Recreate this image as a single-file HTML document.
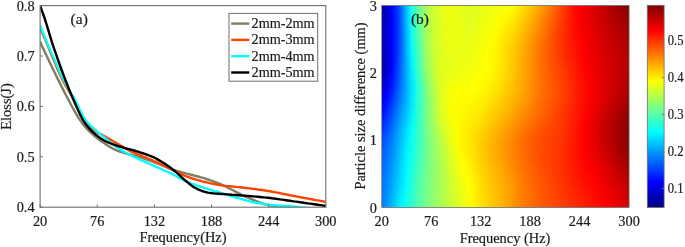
<!DOCTYPE html><html><head><meta charset="utf-8"><title>fig</title>
<style>html,body{margin:0;padding:0;background:#fff}svg{display:block}text{font-family:"Liberation Serif","Times New Roman",serif;fill:#1c1c1c;stroke:#1c1c1c;stroke-width:0.2px}</style></head><body>
<svg width="685" height="247" viewBox="0 0 685 247">
<rect width="685" height="247" fill="#fff"/>
<defs><clipPath id="cl"><rect x="40.1" y="3.6" width="285.7" height="203.6"/></clipPath>
<linearGradient id="g0"><stop offset="0" stop-color="#00009f"/><stop offset="0.02041" stop-color="#0000c8"/><stop offset="0.04082" stop-color="#0000f7"/><stop offset="0.06122" stop-color="#002aff"/><stop offset="0.08163" stop-color="#0074ff"/><stop offset="0.102" stop-color="#00caff"/><stop offset="0.1224" stop-color="#19ffe6"/><stop offset="0.1429" stop-color="#57ffa8"/><stop offset="0.1633" stop-color="#87ff78"/><stop offset="0.1837" stop-color="#acff53"/><stop offset="0.2041" stop-color="#c7ff38"/><stop offset="0.2245" stop-color="#daff25"/><stop offset="0.2449" stop-color="#e6ff19"/><stop offset="0.2653" stop-color="#ebff14"/><stop offset="0.2857" stop-color="#eeff11"/><stop offset="0.3061" stop-color="#ebff14"/><stop offset="0.3265" stop-color="#e5ff1a"/><stop offset="0.3469" stop-color="#deff21"/><stop offset="0.3673" stop-color="#dcff23"/><stop offset="0.3878" stop-color="#e3ff1c"/><stop offset="0.4082" stop-color="#e8ff17"/><stop offset="0.4286" stop-color="#ecff13"/><stop offset="0.449" stop-color="#efff10"/><stop offset="0.4694" stop-color="#f1ff0e"/><stop offset="0.4898" stop-color="#f4ff0b"/><stop offset="0.5102" stop-color="#faff05"/><stop offset="0.5306" stop-color="#fffa00"/><stop offset="0.551" stop-color="#ffed00"/><stop offset="0.5714" stop-color="#ffdf00"/><stop offset="0.5918" stop-color="#ffcf00"/><stop offset="0.6122" stop-color="#ffbd00"/><stop offset="0.6327" stop-color="#ffaa00"/><stop offset="0.6531" stop-color="#ff9600"/><stop offset="0.6735" stop-color="#ff7f00"/><stop offset="0.6939" stop-color="#ff6800"/><stop offset="0.7143" stop-color="#ff5100"/><stop offset="0.7347" stop-color="#ff3b00"/><stop offset="0.7551" stop-color="#ff2400"/><stop offset="0.7755" stop-color="#ff0f00"/><stop offset="0.7959" stop-color="#fd0000"/><stop offset="0.8163" stop-color="#f10000"/><stop offset="0.8367" stop-color="#e60000"/><stop offset="0.8571" stop-color="#dc0000"/><stop offset="0.8776" stop-color="#cf0000"/><stop offset="0.898" stop-color="#c20000"/><stop offset="0.9184" stop-color="#b30000"/><stop offset="0.9388" stop-color="#a60000"/><stop offset="0.9592" stop-color="#990000"/><stop offset="0.9796" stop-color="#8d0000"/><stop offset="1" stop-color="#810000"/></linearGradient>
<linearGradient id="g1"><stop offset="0" stop-color="#0000a1"/><stop offset="0.02041" stop-color="#0000ca"/><stop offset="0.04082" stop-color="#0000f8"/><stop offset="0.06122" stop-color="#002aff"/><stop offset="0.08163" stop-color="#0073ff"/><stop offset="0.102" stop-color="#00c8ff"/><stop offset="0.1224" stop-color="#18ffe7"/><stop offset="0.1429" stop-color="#56ffa9"/><stop offset="0.1633" stop-color="#85ff7a"/><stop offset="0.1837" stop-color="#acff53"/><stop offset="0.2041" stop-color="#c7ff38"/><stop offset="0.2245" stop-color="#daff25"/><stop offset="0.2449" stop-color="#e5ff1a"/><stop offset="0.2653" stop-color="#ebff14"/><stop offset="0.2857" stop-color="#eeff11"/><stop offset="0.3061" stop-color="#ebff14"/><stop offset="0.3265" stop-color="#e6ff19"/><stop offset="0.3469" stop-color="#dfff20"/><stop offset="0.3673" stop-color="#ddff22"/><stop offset="0.3878" stop-color="#e4ff1b"/><stop offset="0.4082" stop-color="#eaff15"/><stop offset="0.4286" stop-color="#edff12"/><stop offset="0.449" stop-color="#f1ff0e"/><stop offset="0.4694" stop-color="#f4ff0b"/><stop offset="0.4898" stop-color="#f8ff07"/><stop offset="0.5102" stop-color="#feff01"/><stop offset="0.5306" stop-color="#fff600"/><stop offset="0.551" stop-color="#ffe900"/><stop offset="0.5714" stop-color="#ffda00"/><stop offset="0.5918" stop-color="#ffcb00"/><stop offset="0.6122" stop-color="#ffb900"/><stop offset="0.6327" stop-color="#ffa500"/><stop offset="0.6531" stop-color="#ff9100"/><stop offset="0.6735" stop-color="#ff7c00"/><stop offset="0.6939" stop-color="#ff6500"/><stop offset="0.7143" stop-color="#ff4f00"/><stop offset="0.7347" stop-color="#ff3900"/><stop offset="0.7551" stop-color="#ff2300"/><stop offset="0.7755" stop-color="#ff0f00"/><stop offset="0.7959" stop-color="#fe0000"/><stop offset="0.8163" stop-color="#f20000"/><stop offset="0.8367" stop-color="#e70000"/><stop offset="0.8571" stop-color="#dd0000"/><stop offset="0.8776" stop-color="#d10000"/><stop offset="0.898" stop-color="#c40000"/><stop offset="0.9184" stop-color="#b60000"/><stop offset="0.9388" stop-color="#a90000"/><stop offset="0.9592" stop-color="#9c0000"/><stop offset="0.9796" stop-color="#900000"/><stop offset="1" stop-color="#850000"/></linearGradient>
<linearGradient id="g2"><stop offset="0" stop-color="#0000a3"/><stop offset="0.02041" stop-color="#0000cb"/><stop offset="0.04082" stop-color="#0000f8"/><stop offset="0.06122" stop-color="#0029ff"/><stop offset="0.08163" stop-color="#0072ff"/><stop offset="0.102" stop-color="#00c7ff"/><stop offset="0.1224" stop-color="#17ffe8"/><stop offset="0.1429" stop-color="#54ffab"/><stop offset="0.1633" stop-color="#84ff7b"/><stop offset="0.1837" stop-color="#abff54"/><stop offset="0.2041" stop-color="#c7ff38"/><stop offset="0.2245" stop-color="#daff25"/><stop offset="0.2449" stop-color="#e5ff1a"/><stop offset="0.2653" stop-color="#ebff14"/><stop offset="0.2857" stop-color="#eeff11"/><stop offset="0.3061" stop-color="#ebff14"/><stop offset="0.3265" stop-color="#e6ff19"/><stop offset="0.3469" stop-color="#e0ff1f"/><stop offset="0.3673" stop-color="#deff21"/><stop offset="0.3878" stop-color="#e5ff1a"/><stop offset="0.4082" stop-color="#ebff14"/><stop offset="0.4286" stop-color="#efff10"/><stop offset="0.449" stop-color="#f3ff0c"/><stop offset="0.4694" stop-color="#f7ff08"/><stop offset="0.4898" stop-color="#fbff04"/><stop offset="0.5102" stop-color="#fffc00"/><stop offset="0.5306" stop-color="#fff200"/><stop offset="0.551" stop-color="#ffe400"/><stop offset="0.5714" stop-color="#ffd600"/><stop offset="0.5918" stop-color="#ffc600"/><stop offset="0.6122" stop-color="#ffb400"/><stop offset="0.6327" stop-color="#ffa100"/><stop offset="0.6531" stop-color="#ff8d00"/><stop offset="0.6735" stop-color="#ff7800"/><stop offset="0.6939" stop-color="#ff6200"/><stop offset="0.7143" stop-color="#ff4c00"/><stop offset="0.7347" stop-color="#ff3800"/><stop offset="0.7551" stop-color="#ff2300"/><stop offset="0.7755" stop-color="#ff0f00"/><stop offset="0.7959" stop-color="#fe0000"/><stop offset="0.8163" stop-color="#f20000"/><stop offset="0.8367" stop-color="#e80000"/><stop offset="0.8571" stop-color="#de0000"/><stop offset="0.8776" stop-color="#d20000"/><stop offset="0.898" stop-color="#c50000"/><stop offset="0.9184" stop-color="#b80000"/><stop offset="0.9388" stop-color="#ac0000"/><stop offset="0.9592" stop-color="#a00000"/><stop offset="0.9796" stop-color="#940000"/><stop offset="1" stop-color="#890000"/></linearGradient>
<linearGradient id="g3"><stop offset="0" stop-color="#0000a4"/><stop offset="0.02041" stop-color="#0000cc"/><stop offset="0.04082" stop-color="#0000f9"/><stop offset="0.06122" stop-color="#0029ff"/><stop offset="0.08163" stop-color="#0071ff"/><stop offset="0.102" stop-color="#00c6ff"/><stop offset="0.1224" stop-color="#16ffe9"/><stop offset="0.1429" stop-color="#52ffad"/><stop offset="0.1633" stop-color="#82ff7d"/><stop offset="0.1837" stop-color="#abff54"/><stop offset="0.2041" stop-color="#c6ff39"/><stop offset="0.2245" stop-color="#d9ff26"/><stop offset="0.2449" stop-color="#e4ff1b"/><stop offset="0.2653" stop-color="#ebff14"/><stop offset="0.2857" stop-color="#eeff11"/><stop offset="0.3061" stop-color="#ebff14"/><stop offset="0.3265" stop-color="#e6ff19"/><stop offset="0.3469" stop-color="#e1ff1e"/><stop offset="0.3673" stop-color="#dfff20"/><stop offset="0.3878" stop-color="#e6ff19"/><stop offset="0.4082" stop-color="#ecff13"/><stop offset="0.4286" stop-color="#f0ff0f"/><stop offset="0.449" stop-color="#f5ff0a"/><stop offset="0.4694" stop-color="#f9ff06"/><stop offset="0.4898" stop-color="#feff01"/><stop offset="0.5102" stop-color="#fff900"/><stop offset="0.5306" stop-color="#ffee00"/><stop offset="0.551" stop-color="#ffe000"/><stop offset="0.5714" stop-color="#ffd200"/><stop offset="0.5918" stop-color="#ffc200"/><stop offset="0.6122" stop-color="#ffb000"/><stop offset="0.6327" stop-color="#ff9d00"/><stop offset="0.6531" stop-color="#ff8900"/><stop offset="0.6735" stop-color="#ff7400"/><stop offset="0.6939" stop-color="#ff5f00"/><stop offset="0.7143" stop-color="#ff4a00"/><stop offset="0.7347" stop-color="#ff3600"/><stop offset="0.7551" stop-color="#ff2200"/><stop offset="0.7755" stop-color="#ff0f00"/><stop offset="0.7959" stop-color="#ff0000"/><stop offset="0.8163" stop-color="#f30000"/><stop offset="0.8367" stop-color="#e90000"/><stop offset="0.8571" stop-color="#df0000"/><stop offset="0.8776" stop-color="#d40000"/><stop offset="0.898" stop-color="#c70000"/><stop offset="0.9184" stop-color="#bb0000"/><stop offset="0.9388" stop-color="#ae0000"/><stop offset="0.9592" stop-color="#a30000"/><stop offset="0.9796" stop-color="#980000"/><stop offset="1" stop-color="#8d0000"/></linearGradient>
<linearGradient id="g4"><stop offset="0" stop-color="#0000a6"/><stop offset="0.02041" stop-color="#0000cd"/><stop offset="0.04082" stop-color="#0000f9"/><stop offset="0.06122" stop-color="#0029ff"/><stop offset="0.08163" stop-color="#0070ff"/><stop offset="0.102" stop-color="#00c4ff"/><stop offset="0.1224" stop-color="#15ffea"/><stop offset="0.1429" stop-color="#51ffae"/><stop offset="0.1633" stop-color="#81ff7e"/><stop offset="0.1837" stop-color="#aaff55"/><stop offset="0.2041" stop-color="#c6ff39"/><stop offset="0.2245" stop-color="#d9ff26"/><stop offset="0.2449" stop-color="#e4ff1b"/><stop offset="0.2653" stop-color="#ebff14"/><stop offset="0.2857" stop-color="#eeff11"/><stop offset="0.3061" stop-color="#ebff14"/><stop offset="0.3265" stop-color="#e7ff18"/><stop offset="0.3469" stop-color="#e2ff1d"/><stop offset="0.3673" stop-color="#e0ff1f"/><stop offset="0.3878" stop-color="#e8ff17"/><stop offset="0.4082" stop-color="#eeff11"/><stop offset="0.4286" stop-color="#f2ff0d"/><stop offset="0.449" stop-color="#f6ff09"/><stop offset="0.4694" stop-color="#fcff03"/><stop offset="0.4898" stop-color="#fffd00"/><stop offset="0.5102" stop-color="#fff500"/><stop offset="0.5306" stop-color="#ffea00"/><stop offset="0.551" stop-color="#ffdc00"/><stop offset="0.5714" stop-color="#ffcd00"/><stop offset="0.5918" stop-color="#ffbd00"/><stop offset="0.6122" stop-color="#ffac00"/><stop offset="0.6327" stop-color="#ff9900"/><stop offset="0.6531" stop-color="#ff8500"/><stop offset="0.6735" stop-color="#ff7100"/><stop offset="0.6939" stop-color="#ff5c00"/><stop offset="0.7143" stop-color="#ff4800"/><stop offset="0.7347" stop-color="#ff3400"/><stop offset="0.7551" stop-color="#ff2100"/><stop offset="0.7755" stop-color="#ff0f00"/><stop offset="0.7959" stop-color="#ff0100"/><stop offset="0.8163" stop-color="#f40000"/><stop offset="0.8367" stop-color="#ea0000"/><stop offset="0.8571" stop-color="#e00000"/><stop offset="0.8776" stop-color="#d50000"/><stop offset="0.898" stop-color="#c90000"/><stop offset="0.9184" stop-color="#bd0000"/><stop offset="0.9388" stop-color="#b10000"/><stop offset="0.9592" stop-color="#a60000"/><stop offset="0.9796" stop-color="#9b0000"/><stop offset="1" stop-color="#910000"/></linearGradient>
<linearGradient id="g5"><stop offset="0" stop-color="#0000a8"/><stop offset="0.02041" stop-color="#0000ce"/><stop offset="0.04082" stop-color="#0000fa"/><stop offset="0.06122" stop-color="#0028ff"/><stop offset="0.08163" stop-color="#006fff"/><stop offset="0.102" stop-color="#00c3ff"/><stop offset="0.1224" stop-color="#14ffeb"/><stop offset="0.1429" stop-color="#4fffb0"/><stop offset="0.1633" stop-color="#7fff80"/><stop offset="0.1837" stop-color="#aaff55"/><stop offset="0.2041" stop-color="#c6ff39"/><stop offset="0.2245" stop-color="#d8ff27"/><stop offset="0.2449" stop-color="#e3ff1c"/><stop offset="0.2653" stop-color="#eaff15"/><stop offset="0.2857" stop-color="#eeff11"/><stop offset="0.3061" stop-color="#ebff14"/><stop offset="0.3265" stop-color="#e7ff18"/><stop offset="0.3469" stop-color="#e3ff1c"/><stop offset="0.3673" stop-color="#e1ff1e"/><stop offset="0.3878" stop-color="#e9ff16"/><stop offset="0.4082" stop-color="#efff10"/><stop offset="0.4286" stop-color="#f3ff0c"/><stop offset="0.449" stop-color="#f8ff07"/><stop offset="0.4694" stop-color="#feff01"/><stop offset="0.4898" stop-color="#fff900"/><stop offset="0.5102" stop-color="#fff100"/><stop offset="0.5306" stop-color="#ffe600"/><stop offset="0.551" stop-color="#ffd800"/><stop offset="0.5714" stop-color="#ffc900"/><stop offset="0.5918" stop-color="#ffb900"/><stop offset="0.6122" stop-color="#ffa700"/><stop offset="0.6327" stop-color="#ff9500"/><stop offset="0.6531" stop-color="#ff8200"/><stop offset="0.6735" stop-color="#ff6e00"/><stop offset="0.6939" stop-color="#ff5900"/><stop offset="0.7143" stop-color="#ff4500"/><stop offset="0.7347" stop-color="#ff3300"/><stop offset="0.7551" stop-color="#ff2000"/><stop offset="0.7755" stop-color="#ff0f00"/><stop offset="0.7959" stop-color="#ff0100"/><stop offset="0.8163" stop-color="#f50000"/><stop offset="0.8367" stop-color="#eb0000"/><stop offset="0.8571" stop-color="#e10000"/><stop offset="0.8776" stop-color="#d70000"/><stop offset="0.898" stop-color="#cb0000"/><stop offset="0.9184" stop-color="#bf0000"/><stop offset="0.9388" stop-color="#b40000"/><stop offset="0.9592" stop-color="#a90000"/><stop offset="0.9796" stop-color="#9f0000"/><stop offset="1" stop-color="#950000"/></linearGradient>
<linearGradient id="g6"><stop offset="0" stop-color="#0000a9"/><stop offset="0.02041" stop-color="#0000cf"/><stop offset="0.04082" stop-color="#0000fa"/><stop offset="0.06122" stop-color="#0028ff"/><stop offset="0.08163" stop-color="#006eff"/><stop offset="0.102" stop-color="#00c2ff"/><stop offset="0.1224" stop-color="#13ffec"/><stop offset="0.1429" stop-color="#4effb1"/><stop offset="0.1633" stop-color="#7dff82"/><stop offset="0.1837" stop-color="#a9ff56"/><stop offset="0.2041" stop-color="#c6ff39"/><stop offset="0.2245" stop-color="#d8ff27"/><stop offset="0.2449" stop-color="#e3ff1c"/><stop offset="0.2653" stop-color="#eaff15"/><stop offset="0.2857" stop-color="#edff12"/><stop offset="0.3061" stop-color="#ebff14"/><stop offset="0.3265" stop-color="#e8ff17"/><stop offset="0.3469" stop-color="#e3ff1c"/><stop offset="0.3673" stop-color="#e2ff1d"/><stop offset="0.3878" stop-color="#eaff15"/><stop offset="0.4082" stop-color="#f0ff0f"/><stop offset="0.4286" stop-color="#f5ff0a"/><stop offset="0.449" stop-color="#faff05"/><stop offset="0.4694" stop-color="#fffe00"/><stop offset="0.4898" stop-color="#fff600"/><stop offset="0.5102" stop-color="#ffee00"/><stop offset="0.5306" stop-color="#ffe200"/><stop offset="0.551" stop-color="#ffd400"/><stop offset="0.5714" stop-color="#ffc500"/><stop offset="0.5918" stop-color="#ffb500"/><stop offset="0.6122" stop-color="#ffa300"/><stop offset="0.6327" stop-color="#ff9100"/><stop offset="0.6531" stop-color="#ff7e00"/><stop offset="0.6735" stop-color="#ff6a00"/><stop offset="0.6939" stop-color="#ff5600"/><stop offset="0.7143" stop-color="#ff4300"/><stop offset="0.7347" stop-color="#ff3100"/><stop offset="0.7551" stop-color="#ff2000"/><stop offset="0.7755" stop-color="#ff0f00"/><stop offset="0.7959" stop-color="#ff0200"/><stop offset="0.8163" stop-color="#f60000"/><stop offset="0.8367" stop-color="#ec0000"/><stop offset="0.8571" stop-color="#e20000"/><stop offset="0.8776" stop-color="#d80000"/><stop offset="0.898" stop-color="#cd0000"/><stop offset="0.9184" stop-color="#c20000"/><stop offset="0.9388" stop-color="#b70000"/><stop offset="0.9592" stop-color="#ac0000"/><stop offset="0.9796" stop-color="#a20000"/><stop offset="1" stop-color="#990000"/></linearGradient>
<linearGradient id="g7"><stop offset="0" stop-color="#0000aa"/><stop offset="0.02041" stop-color="#0000d0"/><stop offset="0.04082" stop-color="#0000fa"/><stop offset="0.06122" stop-color="#0028ff"/><stop offset="0.08163" stop-color="#006dff"/><stop offset="0.102" stop-color="#00c0ff"/><stop offset="0.1224" stop-color="#12ffed"/><stop offset="0.1429" stop-color="#4cffb3"/><stop offset="0.1633" stop-color="#7cff83"/><stop offset="0.1837" stop-color="#a8ff57"/><stop offset="0.2041" stop-color="#c5ff3a"/><stop offset="0.2245" stop-color="#d7ff28"/><stop offset="0.2449" stop-color="#e3ff1c"/><stop offset="0.2653" stop-color="#eaff15"/><stop offset="0.2857" stop-color="#edff12"/><stop offset="0.3061" stop-color="#ebff14"/><stop offset="0.3265" stop-color="#e8ff17"/><stop offset="0.3469" stop-color="#e4ff1b"/><stop offset="0.3673" stop-color="#e3ff1c"/><stop offset="0.3878" stop-color="#ebff14"/><stop offset="0.4082" stop-color="#f1ff0e"/><stop offset="0.4286" stop-color="#f6ff09"/><stop offset="0.449" stop-color="#fcff03"/><stop offset="0.4694" stop-color="#fffc00"/><stop offset="0.4898" stop-color="#fff400"/><stop offset="0.5102" stop-color="#ffea00"/><stop offset="0.5306" stop-color="#ffde00"/><stop offset="0.551" stop-color="#ffd000"/><stop offset="0.5714" stop-color="#ffc100"/><stop offset="0.5918" stop-color="#ffb100"/><stop offset="0.6122" stop-color="#ffa000"/><stop offset="0.6327" stop-color="#ff8d00"/><stop offset="0.6531" stop-color="#ff7b00"/><stop offset="0.6735" stop-color="#ff6800"/><stop offset="0.6939" stop-color="#ff5400"/><stop offset="0.7143" stop-color="#ff4100"/><stop offset="0.7347" stop-color="#ff3000"/><stop offset="0.7551" stop-color="#ff1f00"/><stop offset="0.7755" stop-color="#ff1000"/><stop offset="0.7959" stop-color="#ff0200"/><stop offset="0.8163" stop-color="#f60000"/><stop offset="0.8367" stop-color="#ed0000"/><stop offset="0.8571" stop-color="#e30000"/><stop offset="0.8776" stop-color="#d90000"/><stop offset="0.898" stop-color="#ce0000"/><stop offset="0.9184" stop-color="#c40000"/><stop offset="0.9388" stop-color="#b90000"/><stop offset="0.9592" stop-color="#af0000"/><stop offset="0.9796" stop-color="#a60000"/><stop offset="1" stop-color="#9c0000"/></linearGradient>
<linearGradient id="g8"><stop offset="0" stop-color="#0000ab"/><stop offset="0.02041" stop-color="#0000d0"/><stop offset="0.04082" stop-color="#0000fb"/><stop offset="0.06122" stop-color="#0028ff"/><stop offset="0.08163" stop-color="#006dff"/><stop offset="0.102" stop-color="#00bfff"/><stop offset="0.1224" stop-color="#10ffef"/><stop offset="0.1429" stop-color="#4affb5"/><stop offset="0.1633" stop-color="#7aff85"/><stop offset="0.1837" stop-color="#a7ff58"/><stop offset="0.2041" stop-color="#c5ff3a"/><stop offset="0.2245" stop-color="#d7ff28"/><stop offset="0.2449" stop-color="#e2ff1d"/><stop offset="0.2653" stop-color="#eaff15"/><stop offset="0.2857" stop-color="#edff12"/><stop offset="0.3061" stop-color="#ebff14"/><stop offset="0.3265" stop-color="#e8ff17"/><stop offset="0.3469" stop-color="#e5ff1a"/><stop offset="0.3673" stop-color="#e4ff1b"/><stop offset="0.3878" stop-color="#ecff13"/><stop offset="0.4082" stop-color="#f2ff0d"/><stop offset="0.4286" stop-color="#f7ff08"/><stop offset="0.449" stop-color="#fdff02"/><stop offset="0.4694" stop-color="#fffa00"/><stop offset="0.4898" stop-color="#fff100"/><stop offset="0.5102" stop-color="#ffe700"/><stop offset="0.5306" stop-color="#ffdb00"/><stop offset="0.551" stop-color="#ffcd00"/><stop offset="0.5714" stop-color="#ffbe00"/><stop offset="0.5918" stop-color="#ffae00"/><stop offset="0.6122" stop-color="#ff9c00"/><stop offset="0.6327" stop-color="#ff8a00"/><stop offset="0.6531" stop-color="#ff7800"/><stop offset="0.6735" stop-color="#ff6500"/><stop offset="0.6939" stop-color="#ff5200"/><stop offset="0.7143" stop-color="#ff4000"/><stop offset="0.7347" stop-color="#ff2f00"/><stop offset="0.7551" stop-color="#ff1f00"/><stop offset="0.7755" stop-color="#ff1000"/><stop offset="0.7959" stop-color="#ff0300"/><stop offset="0.8163" stop-color="#f70000"/><stop offset="0.8367" stop-color="#ee0000"/><stop offset="0.8571" stop-color="#e40000"/><stop offset="0.8776" stop-color="#da0000"/><stop offset="0.898" stop-color="#d00000"/><stop offset="0.9184" stop-color="#c60000"/><stop offset="0.9388" stop-color="#bc0000"/><stop offset="0.9592" stop-color="#b20000"/><stop offset="0.9796" stop-color="#a90000"/><stop offset="1" stop-color="#a00000"/></linearGradient>
<linearGradient id="g9"><stop offset="0" stop-color="#0000ac"/><stop offset="0.02041" stop-color="#0000d1"/><stop offset="0.04082" stop-color="#0000fb"/><stop offset="0.06122" stop-color="#0028ff"/><stop offset="0.08163" stop-color="#006cff"/><stop offset="0.102" stop-color="#00beff"/><stop offset="0.1224" stop-color="#0ffff0"/><stop offset="0.1429" stop-color="#48ffb7"/><stop offset="0.1633" stop-color="#79ff86"/><stop offset="0.1837" stop-color="#a7ff58"/><stop offset="0.2041" stop-color="#c5ff3a"/><stop offset="0.2245" stop-color="#d7ff28"/><stop offset="0.2449" stop-color="#e2ff1d"/><stop offset="0.2653" stop-color="#e9ff16"/><stop offset="0.2857" stop-color="#edff12"/><stop offset="0.3061" stop-color="#ebff14"/><stop offset="0.3265" stop-color="#e9ff16"/><stop offset="0.3469" stop-color="#e6ff19"/><stop offset="0.3673" stop-color="#e5ff1a"/><stop offset="0.3878" stop-color="#edff12"/><stop offset="0.4082" stop-color="#f3ff0c"/><stop offset="0.4286" stop-color="#f8ff07"/><stop offset="0.449" stop-color="#ffff00"/><stop offset="0.4694" stop-color="#fff800"/><stop offset="0.4898" stop-color="#ffee00"/><stop offset="0.5102" stop-color="#ffe400"/><stop offset="0.5306" stop-color="#ffd800"/><stop offset="0.551" stop-color="#ffc900"/><stop offset="0.5714" stop-color="#ffba00"/><stop offset="0.5918" stop-color="#ffaa00"/><stop offset="0.6122" stop-color="#ff9900"/><stop offset="0.6327" stop-color="#ff8600"/><stop offset="0.6531" stop-color="#ff7500"/><stop offset="0.6735" stop-color="#ff6200"/><stop offset="0.6939" stop-color="#ff5000"/><stop offset="0.7143" stop-color="#ff3e00"/><stop offset="0.7347" stop-color="#ff2e00"/><stop offset="0.7551" stop-color="#ff1f00"/><stop offset="0.7755" stop-color="#ff1000"/><stop offset="0.7959" stop-color="#ff0400"/><stop offset="0.8163" stop-color="#f80000"/><stop offset="0.8367" stop-color="#ef0000"/><stop offset="0.8571" stop-color="#e50000"/><stop offset="0.8776" stop-color="#dc0000"/><stop offset="0.898" stop-color="#d20000"/><stop offset="0.9184" stop-color="#c80000"/><stop offset="0.9388" stop-color="#be0000"/><stop offset="0.9592" stop-color="#b50000"/><stop offset="0.9796" stop-color="#ac0000"/><stop offset="1" stop-color="#a30000"/></linearGradient>
<linearGradient id="g10"><stop offset="0" stop-color="#0000ac"/><stop offset="0.02041" stop-color="#0000d1"/><stop offset="0.04082" stop-color="#0000fb"/><stop offset="0.06122" stop-color="#0029ff"/><stop offset="0.08163" stop-color="#006cff"/><stop offset="0.102" stop-color="#00bdff"/><stop offset="0.1224" stop-color="#0dfff2"/><stop offset="0.1429" stop-color="#46ffb9"/><stop offset="0.1633" stop-color="#77ff88"/><stop offset="0.1837" stop-color="#a6ff59"/><stop offset="0.2041" stop-color="#c4ff3b"/><stop offset="0.2245" stop-color="#d6ff29"/><stop offset="0.2449" stop-color="#e2ff1d"/><stop offset="0.2653" stop-color="#e9ff16"/><stop offset="0.2857" stop-color="#edff12"/><stop offset="0.3061" stop-color="#ebff14"/><stop offset="0.3265" stop-color="#e9ff16"/><stop offset="0.3469" stop-color="#e7ff18"/><stop offset="0.3673" stop-color="#e6ff19"/><stop offset="0.3878" stop-color="#eeff11"/><stop offset="0.4082" stop-color="#f4ff0b"/><stop offset="0.4286" stop-color="#f9ff06"/><stop offset="0.449" stop-color="#fffe00"/><stop offset="0.4694" stop-color="#fff600"/><stop offset="0.4898" stop-color="#ffec00"/><stop offset="0.5102" stop-color="#ffe100"/><stop offset="0.5306" stop-color="#ffd500"/><stop offset="0.551" stop-color="#ffc600"/><stop offset="0.5714" stop-color="#ffb700"/><stop offset="0.5918" stop-color="#ffa700"/><stop offset="0.6122" stop-color="#ff9500"/><stop offset="0.6327" stop-color="#ff8400"/><stop offset="0.6531" stop-color="#ff7200"/><stop offset="0.6735" stop-color="#ff6000"/><stop offset="0.6939" stop-color="#ff4e00"/><stop offset="0.7143" stop-color="#ff3d00"/><stop offset="0.7347" stop-color="#ff2e00"/><stop offset="0.7551" stop-color="#ff1f00"/><stop offset="0.7755" stop-color="#ff1100"/><stop offset="0.7959" stop-color="#ff0500"/><stop offset="0.8163" stop-color="#f90000"/><stop offset="0.8367" stop-color="#f00000"/><stop offset="0.8571" stop-color="#e60000"/><stop offset="0.8776" stop-color="#dd0000"/><stop offset="0.898" stop-color="#d30000"/><stop offset="0.9184" stop-color="#ca0000"/><stop offset="0.9388" stop-color="#c00000"/><stop offset="0.9592" stop-color="#b70000"/><stop offset="0.9796" stop-color="#ae0000"/><stop offset="1" stop-color="#a60000"/></linearGradient>
<linearGradient id="g11"><stop offset="0" stop-color="#0000ac"/><stop offset="0.02041" stop-color="#0000d1"/><stop offset="0.04082" stop-color="#0000fc"/><stop offset="0.06122" stop-color="#0029ff"/><stop offset="0.08163" stop-color="#006cff"/><stop offset="0.102" stop-color="#00bcff"/><stop offset="0.1224" stop-color="#0cfff3"/><stop offset="0.1429" stop-color="#45ffba"/><stop offset="0.1633" stop-color="#76ff89"/><stop offset="0.1837" stop-color="#a5ff5a"/><stop offset="0.2041" stop-color="#c4ff3b"/><stop offset="0.2245" stop-color="#d6ff29"/><stop offset="0.2449" stop-color="#e1ff1e"/><stop offset="0.2653" stop-color="#e9ff16"/><stop offset="0.2857" stop-color="#ecff13"/><stop offset="0.3061" stop-color="#ebff14"/><stop offset="0.3265" stop-color="#eaff15"/><stop offset="0.3469" stop-color="#e8ff17"/><stop offset="0.3673" stop-color="#e7ff18"/><stop offset="0.3878" stop-color="#efff10"/><stop offset="0.4082" stop-color="#f5ff0a"/><stop offset="0.4286" stop-color="#faff05"/><stop offset="0.449" stop-color="#fffd00"/><stop offset="0.4694" stop-color="#fff400"/><stop offset="0.4898" stop-color="#ffea00"/><stop offset="0.5102" stop-color="#ffdf00"/><stop offset="0.5306" stop-color="#ffd200"/><stop offset="0.551" stop-color="#ffc300"/><stop offset="0.5714" stop-color="#ffb400"/><stop offset="0.5918" stop-color="#ffa400"/><stop offset="0.6122" stop-color="#ff9300"/><stop offset="0.6327" stop-color="#ff8100"/><stop offset="0.6531" stop-color="#ff7000"/><stop offset="0.6735" stop-color="#ff5e00"/><stop offset="0.6939" stop-color="#ff4d00"/><stop offset="0.7143" stop-color="#ff3c00"/><stop offset="0.7347" stop-color="#ff2d00"/><stop offset="0.7551" stop-color="#ff1f00"/><stop offset="0.7755" stop-color="#ff1200"/><stop offset="0.7959" stop-color="#ff0600"/><stop offset="0.8163" stop-color="#fa0000"/><stop offset="0.8367" stop-color="#f00000"/><stop offset="0.8571" stop-color="#e70000"/><stop offset="0.8776" stop-color="#de0000"/><stop offset="0.898" stop-color="#d50000"/><stop offset="0.9184" stop-color="#cb0000"/><stop offset="0.9388" stop-color="#c20000"/><stop offset="0.9592" stop-color="#ba0000"/><stop offset="0.9796" stop-color="#b10000"/><stop offset="1" stop-color="#a90000"/></linearGradient>
<linearGradient id="g12"><stop offset="0" stop-color="#0000ab"/><stop offset="0.02041" stop-color="#0000d1"/><stop offset="0.04082" stop-color="#0000fc"/><stop offset="0.06122" stop-color="#002aff"/><stop offset="0.08163" stop-color="#006cff"/><stop offset="0.102" stop-color="#00bbff"/><stop offset="0.1224" stop-color="#0afff5"/><stop offset="0.1429" stop-color="#43ffbc"/><stop offset="0.1633" stop-color="#74ff8b"/><stop offset="0.1837" stop-color="#a4ff5b"/><stop offset="0.2041" stop-color="#c3ff3c"/><stop offset="0.2245" stop-color="#d6ff29"/><stop offset="0.2449" stop-color="#e1ff1e"/><stop offset="0.2653" stop-color="#e8ff17"/><stop offset="0.2857" stop-color="#ecff13"/><stop offset="0.3061" stop-color="#ebff14"/><stop offset="0.3265" stop-color="#eaff15"/><stop offset="0.3469" stop-color="#e9ff16"/><stop offset="0.3673" stop-color="#e9ff16"/><stop offset="0.3878" stop-color="#f0ff0f"/><stop offset="0.4082" stop-color="#f6ff09"/><stop offset="0.4286" stop-color="#fbff04"/><stop offset="0.449" stop-color="#fffc00"/><stop offset="0.4694" stop-color="#fff300"/><stop offset="0.4898" stop-color="#ffe800"/><stop offset="0.5102" stop-color="#ffdd00"/><stop offset="0.5306" stop-color="#ffd000"/><stop offset="0.551" stop-color="#ffc100"/><stop offset="0.5714" stop-color="#ffb200"/><stop offset="0.5918" stop-color="#ffa100"/><stop offset="0.6122" stop-color="#ff9000"/><stop offset="0.6327" stop-color="#ff7f00"/><stop offset="0.6531" stop-color="#ff6e00"/><stop offset="0.6735" stop-color="#ff5c00"/><stop offset="0.6939" stop-color="#ff4c00"/><stop offset="0.7143" stop-color="#ff3c00"/><stop offset="0.7347" stop-color="#ff2d00"/><stop offset="0.7551" stop-color="#ff1f00"/><stop offset="0.7755" stop-color="#ff1200"/><stop offset="0.7959" stop-color="#ff0600"/><stop offset="0.8163" stop-color="#fb0000"/><stop offset="0.8367" stop-color="#f10000"/><stop offset="0.8571" stop-color="#e80000"/><stop offset="0.8776" stop-color="#df0000"/><stop offset="0.898" stop-color="#d60000"/><stop offset="0.9184" stop-color="#cd0000"/><stop offset="0.9388" stop-color="#c40000"/><stop offset="0.9592" stop-color="#bc0000"/><stop offset="0.9796" stop-color="#b30000"/><stop offset="1" stop-color="#ab0000"/></linearGradient>
<linearGradient id="g13"><stop offset="0" stop-color="#0000aa"/><stop offset="0.02041" stop-color="#0000d0"/><stop offset="0.04082" stop-color="#0000fc"/><stop offset="0.06122" stop-color="#002aff"/><stop offset="0.08163" stop-color="#006cff"/><stop offset="0.102" stop-color="#00baff"/><stop offset="0.1224" stop-color="#08fff7"/><stop offset="0.1429" stop-color="#41ffbe"/><stop offset="0.1633" stop-color="#73ff8c"/><stop offset="0.1837" stop-color="#a3ff5c"/><stop offset="0.2041" stop-color="#c3ff3c"/><stop offset="0.2245" stop-color="#d6ff29"/><stop offset="0.2449" stop-color="#e1ff1e"/><stop offset="0.2653" stop-color="#e8ff17"/><stop offset="0.2857" stop-color="#ebff14"/><stop offset="0.3061" stop-color="#ebff14"/><stop offset="0.3265" stop-color="#eaff15"/><stop offset="0.3469" stop-color="#eaff15"/><stop offset="0.3673" stop-color="#eaff15"/><stop offset="0.3878" stop-color="#f1ff0e"/><stop offset="0.4082" stop-color="#f7ff08"/><stop offset="0.4286" stop-color="#fcff03"/><stop offset="0.449" stop-color="#fffb00"/><stop offset="0.4694" stop-color="#fff200"/><stop offset="0.4898" stop-color="#ffe700"/><stop offset="0.5102" stop-color="#ffdb00"/><stop offset="0.5306" stop-color="#ffcd00"/><stop offset="0.551" stop-color="#ffbf00"/><stop offset="0.5714" stop-color="#ffaf00"/><stop offset="0.5918" stop-color="#ff9f00"/><stop offset="0.6122" stop-color="#ff8e00"/><stop offset="0.6327" stop-color="#ff7d00"/><stop offset="0.6531" stop-color="#ff6c00"/><stop offset="0.6735" stop-color="#ff5b00"/><stop offset="0.6939" stop-color="#ff4b00"/><stop offset="0.7143" stop-color="#ff3b00"/><stop offset="0.7347" stop-color="#ff2d00"/><stop offset="0.7551" stop-color="#ff2000"/><stop offset="0.7755" stop-color="#ff1300"/><stop offset="0.7959" stop-color="#ff0800"/><stop offset="0.8163" stop-color="#fc0000"/><stop offset="0.8367" stop-color="#f20000"/><stop offset="0.8571" stop-color="#e90000"/><stop offset="0.8776" stop-color="#e00000"/><stop offset="0.898" stop-color="#d70000"/><stop offset="0.9184" stop-color="#ce0000"/><stop offset="0.9388" stop-color="#c60000"/><stop offset="0.9592" stop-color="#be0000"/><stop offset="0.9796" stop-color="#b50000"/><stop offset="1" stop-color="#ad0000"/></linearGradient>
<linearGradient id="g14"><stop offset="0" stop-color="#0000a9"/><stop offset="0.02041" stop-color="#0000d0"/><stop offset="0.04082" stop-color="#0000fc"/><stop offset="0.06122" stop-color="#002bff"/><stop offset="0.08163" stop-color="#006dff"/><stop offset="0.102" stop-color="#00b9ff"/><stop offset="0.1224" stop-color="#05fffa"/><stop offset="0.1429" stop-color="#3fffc0"/><stop offset="0.1633" stop-color="#71ff8e"/><stop offset="0.1837" stop-color="#a2ff5d"/><stop offset="0.2041" stop-color="#c2ff3d"/><stop offset="0.2245" stop-color="#d5ff2a"/><stop offset="0.2449" stop-color="#e1ff1e"/><stop offset="0.2653" stop-color="#e7ff18"/><stop offset="0.2857" stop-color="#ebff14"/><stop offset="0.3061" stop-color="#ebff14"/><stop offset="0.3265" stop-color="#ebff14"/><stop offset="0.3469" stop-color="#eaff15"/><stop offset="0.3673" stop-color="#ebff14"/><stop offset="0.3878" stop-color="#f2ff0d"/><stop offset="0.4082" stop-color="#f7ff08"/><stop offset="0.4286" stop-color="#fdff02"/><stop offset="0.449" stop-color="#fffa00"/><stop offset="0.4694" stop-color="#fff100"/><stop offset="0.4898" stop-color="#ffe500"/><stop offset="0.5102" stop-color="#ffd900"/><stop offset="0.5306" stop-color="#ffcc00"/><stop offset="0.551" stop-color="#ffbd00"/><stop offset="0.5714" stop-color="#ffad00"/><stop offset="0.5918" stop-color="#ff9d00"/><stop offset="0.6122" stop-color="#ff8c00"/><stop offset="0.6327" stop-color="#ff7b00"/><stop offset="0.6531" stop-color="#ff6b00"/><stop offset="0.6735" stop-color="#ff5a00"/><stop offset="0.6939" stop-color="#ff4b00"/><stop offset="0.7143" stop-color="#ff3c00"/><stop offset="0.7347" stop-color="#ff2e00"/><stop offset="0.7551" stop-color="#ff2100"/><stop offset="0.7755" stop-color="#ff1400"/><stop offset="0.7959" stop-color="#ff0900"/><stop offset="0.8163" stop-color="#fd0000"/><stop offset="0.8367" stop-color="#f30000"/><stop offset="0.8571" stop-color="#e90000"/><stop offset="0.8776" stop-color="#e00000"/><stop offset="0.898" stop-color="#d80000"/><stop offset="0.9184" stop-color="#d00000"/><stop offset="0.9388" stop-color="#c80000"/><stop offset="0.9592" stop-color="#bf0000"/><stop offset="0.9796" stop-color="#b70000"/><stop offset="1" stop-color="#af0000"/></linearGradient>
<linearGradient id="g15"><stop offset="0" stop-color="#0000a7"/><stop offset="0.02041" stop-color="#0000cf"/><stop offset="0.04082" stop-color="#0000fc"/><stop offset="0.06122" stop-color="#002dff"/><stop offset="0.08163" stop-color="#006dff"/><stop offset="0.102" stop-color="#00b8ff"/><stop offset="0.1224" stop-color="#03fffc"/><stop offset="0.1429" stop-color="#3cffc3"/><stop offset="0.1633" stop-color="#70ff8f"/><stop offset="0.1837" stop-color="#a1ff5e"/><stop offset="0.2041" stop-color="#c2ff3d"/><stop offset="0.2245" stop-color="#d5ff2a"/><stop offset="0.2449" stop-color="#e1ff1e"/><stop offset="0.2653" stop-color="#e7ff18"/><stop offset="0.2857" stop-color="#eaff15"/><stop offset="0.3061" stop-color="#eaff15"/><stop offset="0.3265" stop-color="#ebff14"/><stop offset="0.3469" stop-color="#ebff14"/><stop offset="0.3673" stop-color="#ecff13"/><stop offset="0.3878" stop-color="#f2ff0d"/><stop offset="0.4082" stop-color="#f8ff07"/><stop offset="0.4286" stop-color="#fdff02"/><stop offset="0.449" stop-color="#fff900"/><stop offset="0.4694" stop-color="#fff000"/><stop offset="0.4898" stop-color="#ffe500"/><stop offset="0.5102" stop-color="#ffd800"/><stop offset="0.5306" stop-color="#ffca00"/><stop offset="0.551" stop-color="#ffbb00"/><stop offset="0.5714" stop-color="#ffac00"/><stop offset="0.5918" stop-color="#ff9c00"/><stop offset="0.6122" stop-color="#ff8b00"/><stop offset="0.6327" stop-color="#ff7a00"/><stop offset="0.6531" stop-color="#ff6a00"/><stop offset="0.6735" stop-color="#ff5a00"/><stop offset="0.6939" stop-color="#ff4b00"/><stop offset="0.7143" stop-color="#ff3c00"/><stop offset="0.7347" stop-color="#ff2f00"/><stop offset="0.7551" stop-color="#ff2200"/><stop offset="0.7755" stop-color="#ff1500"/><stop offset="0.7959" stop-color="#ff0a00"/><stop offset="0.8163" stop-color="#fe0000"/><stop offset="0.8367" stop-color="#f40000"/><stop offset="0.8571" stop-color="#ea0000"/><stop offset="0.8776" stop-color="#e10000"/><stop offset="0.898" stop-color="#d90000"/><stop offset="0.9184" stop-color="#d10000"/><stop offset="0.9388" stop-color="#c90000"/><stop offset="0.9592" stop-color="#c10000"/><stop offset="0.9796" stop-color="#b90000"/><stop offset="1" stop-color="#b10000"/></linearGradient>
<linearGradient id="g16"><stop offset="0" stop-color="#0000a4"/><stop offset="0.02041" stop-color="#0000cd"/><stop offset="0.04082" stop-color="#0000fc"/><stop offset="0.06122" stop-color="#002eff"/><stop offset="0.08163" stop-color="#006eff"/><stop offset="0.102" stop-color="#00b8ff"/><stop offset="0.1224" stop-color="#00ffff"/><stop offset="0.1429" stop-color="#3affc5"/><stop offset="0.1633" stop-color="#6eff91"/><stop offset="0.1837" stop-color="#a0ff5f"/><stop offset="0.2041" stop-color="#c1ff3e"/><stop offset="0.2245" stop-color="#d5ff2a"/><stop offset="0.2449" stop-color="#e1ff1e"/><stop offset="0.2653" stop-color="#e6ff19"/><stop offset="0.2857" stop-color="#e9ff16"/><stop offset="0.3061" stop-color="#eaff15"/><stop offset="0.3265" stop-color="#ebff14"/><stop offset="0.3469" stop-color="#ecff13"/><stop offset="0.3673" stop-color="#edff12"/><stop offset="0.3878" stop-color="#f3ff0c"/><stop offset="0.4082" stop-color="#f8ff07"/><stop offset="0.4286" stop-color="#feff01"/><stop offset="0.449" stop-color="#fff900"/><stop offset="0.4694" stop-color="#ffef00"/><stop offset="0.4898" stop-color="#ffe400"/><stop offset="0.5102" stop-color="#ffd800"/><stop offset="0.5306" stop-color="#ffc900"/><stop offset="0.551" stop-color="#ffba00"/><stop offset="0.5714" stop-color="#ffab00"/><stop offset="0.5918" stop-color="#ff9b00"/><stop offset="0.6122" stop-color="#ff8a00"/><stop offset="0.6327" stop-color="#ff7900"/><stop offset="0.6531" stop-color="#ff6900"/><stop offset="0.6735" stop-color="#ff5a00"/><stop offset="0.6939" stop-color="#ff4b00"/><stop offset="0.7143" stop-color="#ff3d00"/><stop offset="0.7347" stop-color="#ff3000"/><stop offset="0.7551" stop-color="#ff2300"/><stop offset="0.7755" stop-color="#ff1700"/><stop offset="0.7959" stop-color="#ff0b00"/><stop offset="0.8163" stop-color="#ff0000"/><stop offset="0.8367" stop-color="#f50000"/><stop offset="0.8571" stop-color="#eb0000"/><stop offset="0.8776" stop-color="#e20000"/><stop offset="0.898" stop-color="#da0000"/><stop offset="0.9184" stop-color="#d20000"/><stop offset="0.9388" stop-color="#ca0000"/><stop offset="0.9592" stop-color="#c20000"/><stop offset="0.9796" stop-color="#ba0000"/><stop offset="1" stop-color="#b20000"/></linearGradient>
<linearGradient id="g17"><stop offset="0" stop-color="#0000a2"/><stop offset="0.02041" stop-color="#0000cc"/><stop offset="0.04082" stop-color="#0000fc"/><stop offset="0.06122" stop-color="#0030ff"/><stop offset="0.08163" stop-color="#0070ff"/><stop offset="0.102" stop-color="#00b7ff"/><stop offset="0.1224" stop-color="#00fdff"/><stop offset="0.1429" stop-color="#38ffc7"/><stop offset="0.1633" stop-color="#6cff93"/><stop offset="0.1837" stop-color="#9fff60"/><stop offset="0.2041" stop-color="#c0ff3f"/><stop offset="0.2245" stop-color="#d5ff2a"/><stop offset="0.2449" stop-color="#e1ff1e"/><stop offset="0.2653" stop-color="#e6ff19"/><stop offset="0.2857" stop-color="#e9ff16"/><stop offset="0.3061" stop-color="#eaff15"/><stop offset="0.3265" stop-color="#ecff13"/><stop offset="0.3469" stop-color="#edff12"/><stop offset="0.3673" stop-color="#efff10"/><stop offset="0.3878" stop-color="#f4ff0b"/><stop offset="0.4082" stop-color="#f9ff06"/><stop offset="0.4286" stop-color="#feff01"/><stop offset="0.449" stop-color="#fff800"/><stop offset="0.4694" stop-color="#ffef00"/><stop offset="0.4898" stop-color="#ffe300"/><stop offset="0.5102" stop-color="#ffd700"/><stop offset="0.5306" stop-color="#ffc900"/><stop offset="0.551" stop-color="#ffb900"/><stop offset="0.5714" stop-color="#ffaa00"/><stop offset="0.5918" stop-color="#ff9a00"/><stop offset="0.6122" stop-color="#ff8900"/><stop offset="0.6327" stop-color="#ff7900"/><stop offset="0.6531" stop-color="#ff6900"/><stop offset="0.6735" stop-color="#ff5a00"/><stop offset="0.6939" stop-color="#ff4c00"/><stop offset="0.7143" stop-color="#ff3e00"/><stop offset="0.7347" stop-color="#ff3100"/><stop offset="0.7551" stop-color="#ff2400"/><stop offset="0.7755" stop-color="#ff1800"/><stop offset="0.7959" stop-color="#ff0c00"/><stop offset="0.8163" stop-color="#ff0100"/><stop offset="0.8367" stop-color="#f50000"/><stop offset="0.8571" stop-color="#eb0000"/><stop offset="0.8776" stop-color="#e20000"/><stop offset="0.898" stop-color="#da0000"/><stop offset="0.9184" stop-color="#d30000"/><stop offset="0.9388" stop-color="#cb0000"/><stop offset="0.9592" stop-color="#c30000"/><stop offset="0.9796" stop-color="#bb0000"/><stop offset="1" stop-color="#b30000"/></linearGradient>
<linearGradient id="g18"><stop offset="0" stop-color="#0000a1"/><stop offset="0.02041" stop-color="#0000cc"/><stop offset="0.04082" stop-color="#0000fc"/><stop offset="0.06122" stop-color="#0031ff"/><stop offset="0.08163" stop-color="#0071ff"/><stop offset="0.102" stop-color="#00b6ff"/><stop offset="0.1224" stop-color="#00faff"/><stop offset="0.1429" stop-color="#36ffc9"/><stop offset="0.1633" stop-color="#6bff94"/><stop offset="0.1837" stop-color="#9dff62"/><stop offset="0.2041" stop-color="#bfff40"/><stop offset="0.2245" stop-color="#d5ff2a"/><stop offset="0.2449" stop-color="#e1ff1e"/><stop offset="0.2653" stop-color="#e5ff1a"/><stop offset="0.2857" stop-color="#e8ff17"/><stop offset="0.3061" stop-color="#eaff15"/><stop offset="0.3265" stop-color="#ecff13"/><stop offset="0.3469" stop-color="#eeff11"/><stop offset="0.3673" stop-color="#f0ff0f"/><stop offset="0.3878" stop-color="#f4ff0b"/><stop offset="0.4082" stop-color="#f9ff06"/><stop offset="0.4286" stop-color="#ffff00"/><stop offset="0.449" stop-color="#fff800"/><stop offset="0.4694" stop-color="#ffee00"/><stop offset="0.4898" stop-color="#ffe300"/><stop offset="0.5102" stop-color="#ffd600"/><stop offset="0.5306" stop-color="#ffc800"/><stop offset="0.551" stop-color="#ffb900"/><stop offset="0.5714" stop-color="#ffa900"/><stop offset="0.5918" stop-color="#ff9900"/><stop offset="0.6122" stop-color="#ff8900"/><stop offset="0.6327" stop-color="#ff7900"/><stop offset="0.6531" stop-color="#ff6900"/><stop offset="0.6735" stop-color="#ff5b00"/><stop offset="0.6939" stop-color="#ff4d00"/><stop offset="0.7143" stop-color="#ff4000"/><stop offset="0.7347" stop-color="#ff3300"/><stop offset="0.7551" stop-color="#ff2600"/><stop offset="0.7755" stop-color="#ff1a00"/><stop offset="0.7959" stop-color="#ff0e00"/><stop offset="0.8163" stop-color="#ff0200"/><stop offset="0.8367" stop-color="#f60000"/><stop offset="0.8571" stop-color="#ec0000"/><stop offset="0.8776" stop-color="#e30000"/><stop offset="0.898" stop-color="#db0000"/><stop offset="0.9184" stop-color="#d30000"/><stop offset="0.9388" stop-color="#cc0000"/><stop offset="0.9592" stop-color="#c30000"/><stop offset="0.9796" stop-color="#bb0000"/><stop offset="1" stop-color="#b30000"/></linearGradient>
<linearGradient id="g19"><stop offset="0" stop-color="#0000a0"/><stop offset="0.02041" stop-color="#0000cb"/><stop offset="0.04082" stop-color="#0000fd"/><stop offset="0.06122" stop-color="#0033ff"/><stop offset="0.08163" stop-color="#0072ff"/><stop offset="0.102" stop-color="#00b6ff"/><stop offset="0.1224" stop-color="#00f7ff"/><stop offset="0.1429" stop-color="#33ffcc"/><stop offset="0.1633" stop-color="#69ff96"/><stop offset="0.1837" stop-color="#9cff63"/><stop offset="0.2041" stop-color="#beff41"/><stop offset="0.2245" stop-color="#d4ff2b"/><stop offset="0.2449" stop-color="#e1ff1e"/><stop offset="0.2653" stop-color="#e5ff1a"/><stop offset="0.2857" stop-color="#e8ff17"/><stop offset="0.3061" stop-color="#ebff14"/><stop offset="0.3265" stop-color="#edff12"/><stop offset="0.3469" stop-color="#efff10"/><stop offset="0.3673" stop-color="#f2ff0d"/><stop offset="0.3878" stop-color="#f5ff0a"/><stop offset="0.4082" stop-color="#faff05"/><stop offset="0.4286" stop-color="#ffff00"/><stop offset="0.449" stop-color="#fff700"/><stop offset="0.4694" stop-color="#ffee00"/><stop offset="0.4898" stop-color="#ffe200"/><stop offset="0.5102" stop-color="#ffd600"/><stop offset="0.5306" stop-color="#ffc800"/><stop offset="0.551" stop-color="#ffb800"/><stop offset="0.5714" stop-color="#ffa900"/><stop offset="0.5918" stop-color="#ff9900"/><stop offset="0.6122" stop-color="#ff8900"/><stop offset="0.6327" stop-color="#ff7900"/><stop offset="0.6531" stop-color="#ff6a00"/><stop offset="0.6735" stop-color="#ff5c00"/><stop offset="0.6939" stop-color="#ff4e00"/><stop offset="0.7143" stop-color="#ff4100"/><stop offset="0.7347" stop-color="#ff3400"/><stop offset="0.7551" stop-color="#ff2700"/><stop offset="0.7755" stop-color="#ff1b00"/><stop offset="0.7959" stop-color="#ff0f00"/><stop offset="0.8163" stop-color="#ff0400"/><stop offset="0.8367" stop-color="#f70000"/><stop offset="0.8571" stop-color="#ed0000"/><stop offset="0.8776" stop-color="#e30000"/><stop offset="0.898" stop-color="#db0000"/><stop offset="0.9184" stop-color="#d40000"/><stop offset="0.9388" stop-color="#cc0000"/><stop offset="0.9592" stop-color="#c40000"/><stop offset="0.9796" stop-color="#bc0000"/><stop offset="1" stop-color="#b30000"/></linearGradient>
<linearGradient id="g20"><stop offset="0" stop-color="#0000a0"/><stop offset="0.02041" stop-color="#0000cc"/><stop offset="0.04082" stop-color="#0000fe"/><stop offset="0.06122" stop-color="#0036ff"/><stop offset="0.08163" stop-color="#0074ff"/><stop offset="0.102" stop-color="#00b5ff"/><stop offset="0.1224" stop-color="#00f4ff"/><stop offset="0.1429" stop-color="#31ffce"/><stop offset="0.1633" stop-color="#67ff98"/><stop offset="0.1837" stop-color="#9aff65"/><stop offset="0.2041" stop-color="#bdff42"/><stop offset="0.2245" stop-color="#d4ff2b"/><stop offset="0.2449" stop-color="#e1ff1e"/><stop offset="0.2653" stop-color="#e5ff1a"/><stop offset="0.2857" stop-color="#e8ff17"/><stop offset="0.3061" stop-color="#ebff14"/><stop offset="0.3265" stop-color="#eeff11"/><stop offset="0.3469" stop-color="#f0ff0f"/><stop offset="0.3673" stop-color="#f3ff0c"/><stop offset="0.3878" stop-color="#f6ff09"/><stop offset="0.4082" stop-color="#faff05"/><stop offset="0.4286" stop-color="#fffe00"/><stop offset="0.449" stop-color="#fff700"/><stop offset="0.4694" stop-color="#ffed00"/><stop offset="0.4898" stop-color="#ffe200"/><stop offset="0.5102" stop-color="#ffd500"/><stop offset="0.5306" stop-color="#ffc700"/><stop offset="0.551" stop-color="#ffb800"/><stop offset="0.5714" stop-color="#ffa800"/><stop offset="0.5918" stop-color="#ff9900"/><stop offset="0.6122" stop-color="#ff8900"/><stop offset="0.6327" stop-color="#ff7900"/><stop offset="0.6531" stop-color="#ff6a00"/><stop offset="0.6735" stop-color="#ff5d00"/><stop offset="0.6939" stop-color="#ff5000"/><stop offset="0.7143" stop-color="#ff4300"/><stop offset="0.7347" stop-color="#ff3600"/><stop offset="0.7551" stop-color="#ff2900"/><stop offset="0.7755" stop-color="#ff1d00"/><stop offset="0.7959" stop-color="#ff1100"/><stop offset="0.8163" stop-color="#ff0500"/><stop offset="0.8367" stop-color="#f80000"/><stop offset="0.8571" stop-color="#ed0000"/><stop offset="0.8776" stop-color="#e40000"/><stop offset="0.898" stop-color="#dc0000"/><stop offset="0.9184" stop-color="#d40000"/><stop offset="0.9388" stop-color="#cc0000"/><stop offset="0.9592" stop-color="#c40000"/><stop offset="0.9796" stop-color="#bc0000"/><stop offset="1" stop-color="#b30000"/></linearGradient>
<linearGradient id="g21"><stop offset="0" stop-color="#0000a1"/><stop offset="0.02041" stop-color="#0000cd"/><stop offset="0.04082" stop-color="#0001ff"/><stop offset="0.06122" stop-color="#0038ff"/><stop offset="0.08163" stop-color="#0075ff"/><stop offset="0.102" stop-color="#00b5ff"/><stop offset="0.1224" stop-color="#00f2ff"/><stop offset="0.1429" stop-color="#2effd1"/><stop offset="0.1633" stop-color="#64ff9b"/><stop offset="0.1837" stop-color="#97ff68"/><stop offset="0.2041" stop-color="#bbff44"/><stop offset="0.2245" stop-color="#d3ff2c"/><stop offset="0.2449" stop-color="#e1ff1e"/><stop offset="0.2653" stop-color="#e6ff19"/><stop offset="0.2857" stop-color="#e9ff16"/><stop offset="0.3061" stop-color="#ecff13"/><stop offset="0.3265" stop-color="#efff10"/><stop offset="0.3469" stop-color="#f2ff0d"/><stop offset="0.3673" stop-color="#f4ff0b"/><stop offset="0.3878" stop-color="#f7ff08"/><stop offset="0.4082" stop-color="#fbff04"/><stop offset="0.4286" stop-color="#fffd00"/><stop offset="0.449" stop-color="#fff600"/><stop offset="0.4694" stop-color="#ffec00"/><stop offset="0.4898" stop-color="#ffe100"/><stop offset="0.5102" stop-color="#ffd500"/><stop offset="0.5306" stop-color="#ffc700"/><stop offset="0.551" stop-color="#ffb700"/><stop offset="0.5714" stop-color="#ffa800"/><stop offset="0.5918" stop-color="#ff9900"/><stop offset="0.6122" stop-color="#ff8900"/><stop offset="0.6327" stop-color="#ff7900"/><stop offset="0.6531" stop-color="#ff6b00"/><stop offset="0.6735" stop-color="#ff5e00"/><stop offset="0.6939" stop-color="#ff5100"/><stop offset="0.7143" stop-color="#ff4400"/><stop offset="0.7347" stop-color="#ff3700"/><stop offset="0.7551" stop-color="#ff2b00"/><stop offset="0.7755" stop-color="#ff1e00"/><stop offset="0.7959" stop-color="#ff1200"/><stop offset="0.8163" stop-color="#ff0600"/><stop offset="0.8367" stop-color="#f90000"/><stop offset="0.8571" stop-color="#ee0000"/><stop offset="0.8776" stop-color="#e50000"/><stop offset="0.898" stop-color="#dd0000"/><stop offset="0.9184" stop-color="#d50000"/><stop offset="0.9388" stop-color="#cd0000"/><stop offset="0.9592" stop-color="#c40000"/><stop offset="0.9796" stop-color="#bc0000"/><stop offset="1" stop-color="#b30000"/></linearGradient>
<linearGradient id="g22"><stop offset="0" stop-color="#0000a4"/><stop offset="0.02041" stop-color="#0000d0"/><stop offset="0.04082" stop-color="#0004ff"/><stop offset="0.06122" stop-color="#003bff"/><stop offset="0.08163" stop-color="#0077ff"/><stop offset="0.102" stop-color="#00b4ff"/><stop offset="0.1224" stop-color="#00efff"/><stop offset="0.1429" stop-color="#2cffd3"/><stop offset="0.1633" stop-color="#62ff9d"/><stop offset="0.1837" stop-color="#95ff6a"/><stop offset="0.2041" stop-color="#b9ff46"/><stop offset="0.2245" stop-color="#d2ff2d"/><stop offset="0.2449" stop-color="#e1ff1e"/><stop offset="0.2653" stop-color="#e7ff18"/><stop offset="0.2857" stop-color="#eaff15"/><stop offset="0.3061" stop-color="#eeff11"/><stop offset="0.3265" stop-color="#f0ff0f"/><stop offset="0.3469" stop-color="#f3ff0c"/><stop offset="0.3673" stop-color="#f6ff09"/><stop offset="0.3878" stop-color="#f9ff06"/><stop offset="0.4082" stop-color="#fcff03"/><stop offset="0.4286" stop-color="#fffc00"/><stop offset="0.449" stop-color="#fff500"/><stop offset="0.4694" stop-color="#ffeb00"/><stop offset="0.4898" stop-color="#ffe000"/><stop offset="0.5102" stop-color="#ffd400"/><stop offset="0.5306" stop-color="#ffc600"/><stop offset="0.551" stop-color="#ffb700"/><stop offset="0.5714" stop-color="#ffa800"/><stop offset="0.5918" stop-color="#ff9900"/><stop offset="0.6122" stop-color="#ff8900"/><stop offset="0.6327" stop-color="#ff7a00"/><stop offset="0.6531" stop-color="#ff6c00"/><stop offset="0.6735" stop-color="#ff5f00"/><stop offset="0.6939" stop-color="#ff5200"/><stop offset="0.7143" stop-color="#ff4600"/><stop offset="0.7347" stop-color="#ff3900"/><stop offset="0.7551" stop-color="#ff2c00"/><stop offset="0.7755" stop-color="#ff1f00"/><stop offset="0.7959" stop-color="#ff1300"/><stop offset="0.8163" stop-color="#ff0700"/><stop offset="0.8367" stop-color="#fa0000"/><stop offset="0.8571" stop-color="#ef0000"/><stop offset="0.8776" stop-color="#e60000"/><stop offset="0.898" stop-color="#dd0000"/><stop offset="0.9184" stop-color="#d50000"/><stop offset="0.9388" stop-color="#cd0000"/><stop offset="0.9592" stop-color="#c40000"/><stop offset="0.9796" stop-color="#bb0000"/><stop offset="1" stop-color="#b20000"/></linearGradient>
<linearGradient id="g23"><stop offset="0" stop-color="#0000a9"/><stop offset="0.02041" stop-color="#0000d4"/><stop offset="0.04082" stop-color="#0007ff"/><stop offset="0.06122" stop-color="#003eff"/><stop offset="0.08163" stop-color="#0078ff"/><stop offset="0.102" stop-color="#00b4ff"/><stop offset="0.1224" stop-color="#00edff"/><stop offset="0.1429" stop-color="#29ffd6"/><stop offset="0.1633" stop-color="#5fffa0"/><stop offset="0.1837" stop-color="#92ff6d"/><stop offset="0.2041" stop-color="#b7ff48"/><stop offset="0.2245" stop-color="#d1ff2e"/><stop offset="0.2449" stop-color="#e1ff1e"/><stop offset="0.2653" stop-color="#e8ff17"/><stop offset="0.2857" stop-color="#ecff13"/><stop offset="0.3061" stop-color="#efff10"/><stop offset="0.3265" stop-color="#f2ff0d"/><stop offset="0.3469" stop-color="#f5ff0a"/><stop offset="0.3673" stop-color="#f7ff08"/><stop offset="0.3878" stop-color="#faff05"/><stop offset="0.4082" stop-color="#feff01"/><stop offset="0.4286" stop-color="#fffb00"/><stop offset="0.449" stop-color="#fff300"/><stop offset="0.4694" stop-color="#ffea00"/><stop offset="0.4898" stop-color="#ffdf00"/><stop offset="0.5102" stop-color="#ffd300"/><stop offset="0.5306" stop-color="#ffc500"/><stop offset="0.551" stop-color="#ffb700"/><stop offset="0.5714" stop-color="#ffa800"/><stop offset="0.5918" stop-color="#ff9900"/><stop offset="0.6122" stop-color="#ff8900"/><stop offset="0.6327" stop-color="#ff7a00"/><stop offset="0.6531" stop-color="#ff6c00"/><stop offset="0.6735" stop-color="#ff5f00"/><stop offset="0.6939" stop-color="#ff5300"/><stop offset="0.7143" stop-color="#ff4700"/><stop offset="0.7347" stop-color="#ff3a00"/><stop offset="0.7551" stop-color="#ff2e00"/><stop offset="0.7755" stop-color="#ff2100"/><stop offset="0.7959" stop-color="#ff1400"/><stop offset="0.8163" stop-color="#ff0800"/><stop offset="0.8367" stop-color="#fb0000"/><stop offset="0.8571" stop-color="#f00000"/><stop offset="0.8776" stop-color="#e70000"/><stop offset="0.898" stop-color="#de0000"/><stop offset="0.9184" stop-color="#d60000"/><stop offset="0.9388" stop-color="#cd0000"/><stop offset="0.9592" stop-color="#c40000"/><stop offset="0.9796" stop-color="#bb0000"/><stop offset="1" stop-color="#b20000"/></linearGradient>
<linearGradient id="g24"><stop offset="0" stop-color="#0000af"/><stop offset="0.02041" stop-color="#0000d9"/><stop offset="0.04082" stop-color="#000bff"/><stop offset="0.06122" stop-color="#0041ff"/><stop offset="0.08163" stop-color="#007aff"/><stop offset="0.102" stop-color="#00b3ff"/><stop offset="0.1224" stop-color="#00ebff"/><stop offset="0.1429" stop-color="#26ffd9"/><stop offset="0.1633" stop-color="#5dffa2"/><stop offset="0.1837" stop-color="#8fff70"/><stop offset="0.2041" stop-color="#b4ff4b"/><stop offset="0.2245" stop-color="#d0ff2f"/><stop offset="0.2449" stop-color="#e1ff1e"/><stop offset="0.2653" stop-color="#e9ff16"/><stop offset="0.2857" stop-color="#efff10"/><stop offset="0.3061" stop-color="#f2ff0d"/><stop offset="0.3265" stop-color="#f4ff0b"/><stop offset="0.3469" stop-color="#f6ff09"/><stop offset="0.3673" stop-color="#f9ff06"/><stop offset="0.3878" stop-color="#fcff03"/><stop offset="0.4082" stop-color="#ffff00"/><stop offset="0.4286" stop-color="#fff900"/><stop offset="0.449" stop-color="#fff200"/><stop offset="0.4694" stop-color="#ffe800"/><stop offset="0.4898" stop-color="#ffdd00"/><stop offset="0.5102" stop-color="#ffd100"/><stop offset="0.5306" stop-color="#ffc400"/><stop offset="0.551" stop-color="#ffb600"/><stop offset="0.5714" stop-color="#ffa800"/><stop offset="0.5918" stop-color="#ff9900"/><stop offset="0.6122" stop-color="#ff8900"/><stop offset="0.6327" stop-color="#ff7a00"/><stop offset="0.6531" stop-color="#ff6d00"/><stop offset="0.6735" stop-color="#ff6000"/><stop offset="0.6939" stop-color="#ff5400"/><stop offset="0.7143" stop-color="#ff4800"/><stop offset="0.7347" stop-color="#ff3c00"/><stop offset="0.7551" stop-color="#ff2f00"/><stop offset="0.7755" stop-color="#ff2200"/><stop offset="0.7959" stop-color="#ff1500"/><stop offset="0.8163" stop-color="#ff0900"/><stop offset="0.8367" stop-color="#fc0000"/><stop offset="0.8571" stop-color="#f10000"/><stop offset="0.8776" stop-color="#e70000"/><stop offset="0.898" stop-color="#de0000"/><stop offset="0.9184" stop-color="#d60000"/><stop offset="0.9388" stop-color="#cd0000"/><stop offset="0.9592" stop-color="#c40000"/><stop offset="0.9796" stop-color="#ba0000"/><stop offset="1" stop-color="#b00000"/></linearGradient>
<linearGradient id="g25"><stop offset="0" stop-color="#0000b6"/><stop offset="0.02041" stop-color="#0000df"/><stop offset="0.04082" stop-color="#000fff"/><stop offset="0.06122" stop-color="#0044ff"/><stop offset="0.08163" stop-color="#007cff"/><stop offset="0.102" stop-color="#00b3ff"/><stop offset="0.1224" stop-color="#00e9ff"/><stop offset="0.1429" stop-color="#24ffdb"/><stop offset="0.1633" stop-color="#5affa5"/><stop offset="0.1837" stop-color="#8cff73"/><stop offset="0.2041" stop-color="#b1ff4e"/><stop offset="0.2245" stop-color="#ceff31"/><stop offset="0.2449" stop-color="#e1ff1e"/><stop offset="0.2653" stop-color="#ebff14"/><stop offset="0.2857" stop-color="#f1ff0e"/><stop offset="0.3061" stop-color="#f4ff0b"/><stop offset="0.3265" stop-color="#f6ff09"/><stop offset="0.3469" stop-color="#f8ff07"/><stop offset="0.3673" stop-color="#fbff04"/><stop offset="0.3878" stop-color="#fdff02"/><stop offset="0.4082" stop-color="#fffd00"/><stop offset="0.4286" stop-color="#fff700"/><stop offset="0.449" stop-color="#fff000"/><stop offset="0.4694" stop-color="#ffe600"/><stop offset="0.4898" stop-color="#ffdb00"/><stop offset="0.5102" stop-color="#ffd000"/><stop offset="0.5306" stop-color="#ffc300"/><stop offset="0.551" stop-color="#ffb500"/><stop offset="0.5714" stop-color="#ffa800"/><stop offset="0.5918" stop-color="#ff9900"/><stop offset="0.6122" stop-color="#ff8900"/><stop offset="0.6327" stop-color="#ff7a00"/><stop offset="0.6531" stop-color="#ff6d00"/><stop offset="0.6735" stop-color="#ff6100"/><stop offset="0.6939" stop-color="#ff5500"/><stop offset="0.7143" stop-color="#ff4900"/><stop offset="0.7347" stop-color="#ff3d00"/><stop offset="0.7551" stop-color="#ff3000"/><stop offset="0.7755" stop-color="#ff2300"/><stop offset="0.7959" stop-color="#ff1600"/><stop offset="0.8163" stop-color="#ff0a00"/><stop offset="0.8367" stop-color="#fe0000"/><stop offset="0.8571" stop-color="#f20000"/><stop offset="0.8776" stop-color="#e80000"/><stop offset="0.898" stop-color="#df0000"/><stop offset="0.9184" stop-color="#d60000"/><stop offset="0.9388" stop-color="#cd0000"/><stop offset="0.9592" stop-color="#c30000"/><stop offset="0.9796" stop-color="#b90000"/><stop offset="1" stop-color="#af0000"/></linearGradient>
<linearGradient id="g26"><stop offset="0" stop-color="#0000bf"/><stop offset="0.02041" stop-color="#0000e5"/><stop offset="0.04082" stop-color="#0014ff"/><stop offset="0.06122" stop-color="#0048ff"/><stop offset="0.08163" stop-color="#007eff"/><stop offset="0.102" stop-color="#00b3ff"/><stop offset="0.1224" stop-color="#00e7ff"/><stop offset="0.1429" stop-color="#22ffdd"/><stop offset="0.1633" stop-color="#57ffa8"/><stop offset="0.1837" stop-color="#88ff77"/><stop offset="0.2041" stop-color="#afff50"/><stop offset="0.2245" stop-color="#cdff32"/><stop offset="0.2449" stop-color="#e1ff1e"/><stop offset="0.2653" stop-color="#edff12"/><stop offset="0.2857" stop-color="#f4ff0b"/><stop offset="0.3061" stop-color="#f7ff08"/><stop offset="0.3265" stop-color="#f9ff06"/><stop offset="0.3469" stop-color="#faff05"/><stop offset="0.3673" stop-color="#fcff03"/><stop offset="0.3878" stop-color="#ffff00"/><stop offset="0.4082" stop-color="#fffb00"/><stop offset="0.4286" stop-color="#fff500"/><stop offset="0.449" stop-color="#ffed00"/><stop offset="0.4694" stop-color="#ffe400"/><stop offset="0.4898" stop-color="#ffd900"/><stop offset="0.5102" stop-color="#ffce00"/><stop offset="0.5306" stop-color="#ffc100"/><stop offset="0.551" stop-color="#ffb400"/><stop offset="0.5714" stop-color="#ffa700"/><stop offset="0.5918" stop-color="#ff9900"/><stop offset="0.6122" stop-color="#ff8900"/><stop offset="0.6327" stop-color="#ff7a00"/><stop offset="0.6531" stop-color="#ff6d00"/><stop offset="0.6735" stop-color="#ff6100"/><stop offset="0.6939" stop-color="#ff5600"/><stop offset="0.7143" stop-color="#ff4a00"/><stop offset="0.7347" stop-color="#ff3e00"/><stop offset="0.7551" stop-color="#ff3100"/><stop offset="0.7755" stop-color="#ff2400"/><stop offset="0.7959" stop-color="#ff1700"/><stop offset="0.8163" stop-color="#ff0b00"/><stop offset="0.8367" stop-color="#ff0000"/><stop offset="0.8571" stop-color="#f30000"/><stop offset="0.8776" stop-color="#e90000"/><stop offset="0.898" stop-color="#df0000"/><stop offset="0.9184" stop-color="#d60000"/><stop offset="0.9388" stop-color="#cc0000"/><stop offset="0.9592" stop-color="#c20000"/><stop offset="0.9796" stop-color="#b80000"/><stop offset="1" stop-color="#ad0000"/></linearGradient>
<linearGradient id="g27"><stop offset="0" stop-color="#0000c8"/><stop offset="0.02041" stop-color="#0000ec"/><stop offset="0.04082" stop-color="#0019ff"/><stop offset="0.06122" stop-color="#004cff"/><stop offset="0.08163" stop-color="#0080ff"/><stop offset="0.102" stop-color="#00b4ff"/><stop offset="0.1224" stop-color="#00e6ff"/><stop offset="0.1429" stop-color="#20ffdf"/><stop offset="0.1633" stop-color="#55ffaa"/><stop offset="0.1837" stop-color="#85ff7a"/><stop offset="0.2041" stop-color="#acff53"/><stop offset="0.2245" stop-color="#ccff33"/><stop offset="0.2449" stop-color="#e1ff1e"/><stop offset="0.2653" stop-color="#efff10"/><stop offset="0.2857" stop-color="#f7ff08"/><stop offset="0.3061" stop-color="#f9ff06"/><stop offset="0.3265" stop-color="#fbff04"/><stop offset="0.3469" stop-color="#fcff03"/><stop offset="0.3673" stop-color="#feff01"/><stop offset="0.3878" stop-color="#fffd00"/><stop offset="0.4082" stop-color="#fff900"/><stop offset="0.4286" stop-color="#fff300"/><stop offset="0.449" stop-color="#ffeb00"/><stop offset="0.4694" stop-color="#ffe100"/><stop offset="0.4898" stop-color="#ffd600"/><stop offset="0.5102" stop-color="#ffcb00"/><stop offset="0.5306" stop-color="#ffc000"/><stop offset="0.551" stop-color="#ffb300"/><stop offset="0.5714" stop-color="#ffa600"/><stop offset="0.5918" stop-color="#ff9800"/><stop offset="0.6122" stop-color="#ff8900"/><stop offset="0.6327" stop-color="#ff7a00"/><stop offset="0.6531" stop-color="#ff6d00"/><stop offset="0.6735" stop-color="#ff6100"/><stop offset="0.6939" stop-color="#ff5600"/><stop offset="0.7143" stop-color="#ff4b00"/><stop offset="0.7347" stop-color="#ff3e00"/><stop offset="0.7551" stop-color="#ff3100"/><stop offset="0.7755" stop-color="#ff2400"/><stop offset="0.7959" stop-color="#ff1800"/><stop offset="0.8163" stop-color="#ff0c00"/><stop offset="0.8367" stop-color="#ff0000"/><stop offset="0.8571" stop-color="#f40000"/><stop offset="0.8776" stop-color="#ea0000"/><stop offset="0.898" stop-color="#df0000"/><stop offset="0.9184" stop-color="#d50000"/><stop offset="0.9388" stop-color="#cb0000"/><stop offset="0.9592" stop-color="#c10000"/><stop offset="0.9796" stop-color="#b60000"/><stop offset="1" stop-color="#ab0000"/></linearGradient>
<linearGradient id="g28"><stop offset="0" stop-color="#0000d1"/><stop offset="0.02041" stop-color="#0000f3"/><stop offset="0.04082" stop-color="#001fff"/><stop offset="0.06122" stop-color="#0050ff"/><stop offset="0.08163" stop-color="#0083ff"/><stop offset="0.102" stop-color="#00b4ff"/><stop offset="0.1224" stop-color="#00e5ff"/><stop offset="0.1429" stop-color="#1fffe0"/><stop offset="0.1633" stop-color="#53ffac"/><stop offset="0.1837" stop-color="#82ff7d"/><stop offset="0.2041" stop-color="#a9ff56"/><stop offset="0.2245" stop-color="#caff35"/><stop offset="0.2449" stop-color="#e1ff1e"/><stop offset="0.2653" stop-color="#f0ff0f"/><stop offset="0.2857" stop-color="#f9ff06"/><stop offset="0.3061" stop-color="#fcff03"/><stop offset="0.3265" stop-color="#fdff02"/><stop offset="0.3469" stop-color="#feff01"/><stop offset="0.3673" stop-color="#fffe00"/><stop offset="0.3878" stop-color="#fffb00"/><stop offset="0.4082" stop-color="#fff700"/><stop offset="0.4286" stop-color="#fff000"/><stop offset="0.449" stop-color="#ffe800"/><stop offset="0.4694" stop-color="#ffdf00"/><stop offset="0.4898" stop-color="#ffd400"/><stop offset="0.5102" stop-color="#ffc900"/><stop offset="0.5306" stop-color="#ffbe00"/><stop offset="0.551" stop-color="#ffb200"/><stop offset="0.5714" stop-color="#ffa500"/><stop offset="0.5918" stop-color="#ff9700"/><stop offset="0.6122" stop-color="#ff8800"/><stop offset="0.6327" stop-color="#ff7a00"/><stop offset="0.6531" stop-color="#ff6d00"/><stop offset="0.6735" stop-color="#ff6100"/><stop offset="0.6939" stop-color="#ff5600"/><stop offset="0.7143" stop-color="#ff4b00"/><stop offset="0.7347" stop-color="#ff3e00"/><stop offset="0.7551" stop-color="#ff3100"/><stop offset="0.7755" stop-color="#ff2400"/><stop offset="0.7959" stop-color="#ff1800"/><stop offset="0.8163" stop-color="#ff0c00"/><stop offset="0.8367" stop-color="#ff0100"/><stop offset="0.8571" stop-color="#f50000"/><stop offset="0.8776" stop-color="#ea0000"/><stop offset="0.898" stop-color="#df0000"/><stop offset="0.9184" stop-color="#d50000"/><stop offset="0.9388" stop-color="#ca0000"/><stop offset="0.9592" stop-color="#bf0000"/><stop offset="0.9796" stop-color="#b40000"/><stop offset="1" stop-color="#a90000"/></linearGradient>
<linearGradient id="g29"><stop offset="0" stop-color="#0000da"/><stop offset="0.02041" stop-color="#0000fb"/><stop offset="0.04082" stop-color="#0024ff"/><stop offset="0.06122" stop-color="#0055ff"/><stop offset="0.08163" stop-color="#0085ff"/><stop offset="0.102" stop-color="#00b6ff"/><stop offset="0.1224" stop-color="#00e5ff"/><stop offset="0.1429" stop-color="#1effe1"/><stop offset="0.1633" stop-color="#52ffad"/><stop offset="0.1837" stop-color="#80ff7f"/><stop offset="0.2041" stop-color="#a7ff58"/><stop offset="0.2245" stop-color="#c9ff36"/><stop offset="0.2449" stop-color="#e1ff1e"/><stop offset="0.2653" stop-color="#f2ff0d"/><stop offset="0.2857" stop-color="#fbff04"/><stop offset="0.3061" stop-color="#feff01"/><stop offset="0.3265" stop-color="#ffff00"/><stop offset="0.3469" stop-color="#fffe00"/><stop offset="0.3673" stop-color="#fffd00"/><stop offset="0.3878" stop-color="#fff900"/><stop offset="0.4082" stop-color="#fff400"/><stop offset="0.4286" stop-color="#ffee00"/><stop offset="0.449" stop-color="#ffe600"/><stop offset="0.4694" stop-color="#ffdc00"/><stop offset="0.4898" stop-color="#ffd100"/><stop offset="0.5102" stop-color="#ffc600"/><stop offset="0.5306" stop-color="#ffbb00"/><stop offset="0.551" stop-color="#ffb000"/><stop offset="0.5714" stop-color="#ffa300"/><stop offset="0.5918" stop-color="#ff9600"/><stop offset="0.6122" stop-color="#ff8700"/><stop offset="0.6327" stop-color="#ff7900"/><stop offset="0.6531" stop-color="#ff6c00"/><stop offset="0.6735" stop-color="#ff6100"/><stop offset="0.6939" stop-color="#ff5600"/><stop offset="0.7143" stop-color="#ff4a00"/><stop offset="0.7347" stop-color="#ff3e00"/><stop offset="0.7551" stop-color="#ff3100"/><stop offset="0.7755" stop-color="#ff2400"/><stop offset="0.7959" stop-color="#ff1800"/><stop offset="0.8163" stop-color="#ff0c00"/><stop offset="0.8367" stop-color="#ff0100"/><stop offset="0.8571" stop-color="#f50000"/><stop offset="0.8776" stop-color="#ea0000"/><stop offset="0.898" stop-color="#df0000"/><stop offset="0.9184" stop-color="#d40000"/><stop offset="0.9388" stop-color="#c80000"/><stop offset="0.9592" stop-color="#bd0000"/><stop offset="0.9796" stop-color="#b20000"/><stop offset="1" stop-color="#a70000"/></linearGradient>
<linearGradient id="g30"><stop offset="0" stop-color="#0000e2"/><stop offset="0.02041" stop-color="#0003ff"/><stop offset="0.04082" stop-color="#002aff"/><stop offset="0.06122" stop-color="#005aff"/><stop offset="0.08163" stop-color="#0089ff"/><stop offset="0.102" stop-color="#00b7ff"/><stop offset="0.1224" stop-color="#00e6ff"/><stop offset="0.1429" stop-color="#1effe1"/><stop offset="0.1633" stop-color="#51ffae"/><stop offset="0.1837" stop-color="#7eff81"/><stop offset="0.2041" stop-color="#a5ff5a"/><stop offset="0.2245" stop-color="#c8ff37"/><stop offset="0.2449" stop-color="#e2ff1d"/><stop offset="0.2653" stop-color="#f3ff0c"/><stop offset="0.2857" stop-color="#fdff02"/><stop offset="0.3061" stop-color="#ffff00"/><stop offset="0.3265" stop-color="#fffe00"/><stop offset="0.3469" stop-color="#fffc00"/><stop offset="0.3673" stop-color="#fffb00"/><stop offset="0.3878" stop-color="#fff700"/><stop offset="0.4082" stop-color="#fff200"/><stop offset="0.4286" stop-color="#ffeb00"/><stop offset="0.449" stop-color="#ffe300"/><stop offset="0.4694" stop-color="#ffd900"/><stop offset="0.4898" stop-color="#ffce00"/><stop offset="0.5102" stop-color="#ffc300"/><stop offset="0.5306" stop-color="#ffb800"/><stop offset="0.551" stop-color="#ffad00"/><stop offset="0.5714" stop-color="#ffa100"/><stop offset="0.5918" stop-color="#ff9400"/><stop offset="0.6122" stop-color="#ff8600"/><stop offset="0.6327" stop-color="#ff7800"/><stop offset="0.6531" stop-color="#ff6b00"/><stop offset="0.6735" stop-color="#ff6000"/><stop offset="0.6939" stop-color="#ff5500"/><stop offset="0.7143" stop-color="#ff4a00"/><stop offset="0.7347" stop-color="#ff3e00"/><stop offset="0.7551" stop-color="#ff3100"/><stop offset="0.7755" stop-color="#ff2400"/><stop offset="0.7959" stop-color="#ff1800"/><stop offset="0.8163" stop-color="#ff0c00"/><stop offset="0.8367" stop-color="#ff0100"/><stop offset="0.8571" stop-color="#f40000"/><stop offset="0.8776" stop-color="#e90000"/><stop offset="0.898" stop-color="#dd0000"/><stop offset="0.9184" stop-color="#d20000"/><stop offset="0.9388" stop-color="#c60000"/><stop offset="0.9592" stop-color="#bb0000"/><stop offset="0.9796" stop-color="#af0000"/><stop offset="1" stop-color="#a40000"/></linearGradient>
<linearGradient id="g31"><stop offset="0" stop-color="#0000ea"/><stop offset="0.02041" stop-color="#000aff"/><stop offset="0.04082" stop-color="#0030ff"/><stop offset="0.06122" stop-color="#0060ff"/><stop offset="0.08163" stop-color="#008dff"/><stop offset="0.102" stop-color="#00b9ff"/><stop offset="0.1224" stop-color="#00e7ff"/><stop offset="0.1429" stop-color="#1effe1"/><stop offset="0.1633" stop-color="#51ffae"/><stop offset="0.1837" stop-color="#7dff82"/><stop offset="0.2041" stop-color="#a3ff5c"/><stop offset="0.2245" stop-color="#c7ff38"/><stop offset="0.2449" stop-color="#e2ff1d"/><stop offset="0.2653" stop-color="#f3ff0c"/><stop offset="0.2857" stop-color="#fdff02"/><stop offset="0.3061" stop-color="#fffe00"/><stop offset="0.3265" stop-color="#fffc00"/><stop offset="0.3469" stop-color="#fffb00"/><stop offset="0.3673" stop-color="#fff900"/><stop offset="0.3878" stop-color="#fff500"/><stop offset="0.4082" stop-color="#fff000"/><stop offset="0.4286" stop-color="#ffe800"/><stop offset="0.449" stop-color="#ffe000"/><stop offset="0.4694" stop-color="#ffd600"/><stop offset="0.4898" stop-color="#ffcb00"/><stop offset="0.5102" stop-color="#ffc000"/><stop offset="0.5306" stop-color="#ffb600"/><stop offset="0.551" stop-color="#ffaa00"/><stop offset="0.5714" stop-color="#ff9f00"/><stop offset="0.5918" stop-color="#ff9200"/><stop offset="0.6122" stop-color="#ff8400"/><stop offset="0.6327" stop-color="#ff7600"/><stop offset="0.6531" stop-color="#ff6a00"/><stop offset="0.6735" stop-color="#ff5f00"/><stop offset="0.6939" stop-color="#ff5400"/><stop offset="0.7143" stop-color="#ff4900"/><stop offset="0.7347" stop-color="#ff3d00"/><stop offset="0.7551" stop-color="#ff3000"/><stop offset="0.7755" stop-color="#ff2400"/><stop offset="0.7959" stop-color="#ff1800"/><stop offset="0.8163" stop-color="#ff0c00"/><stop offset="0.8367" stop-color="#ff0000"/><stop offset="0.8571" stop-color="#f40000"/><stop offset="0.8776" stop-color="#e80000"/><stop offset="0.898" stop-color="#dc0000"/><stop offset="0.9184" stop-color="#d00000"/><stop offset="0.9388" stop-color="#c40000"/><stop offset="0.9592" stop-color="#b80000"/><stop offset="0.9796" stop-color="#ac0000"/><stop offset="1" stop-color="#a10000"/></linearGradient>
<linearGradient id="g32"><stop offset="0" stop-color="#0000f2"/><stop offset="0.02041" stop-color="#0010ff"/><stop offset="0.04082" stop-color="#0036ff"/><stop offset="0.06122" stop-color="#0065ff"/><stop offset="0.08163" stop-color="#0091ff"/><stop offset="0.102" stop-color="#00bcff"/><stop offset="0.1224" stop-color="#00e9ff"/><stop offset="0.1429" stop-color="#1fffe0"/><stop offset="0.1633" stop-color="#51ffae"/><stop offset="0.1837" stop-color="#7cff83"/><stop offset="0.2041" stop-color="#a2ff5d"/><stop offset="0.2245" stop-color="#c6ff39"/><stop offset="0.2449" stop-color="#e1ff1e"/><stop offset="0.2653" stop-color="#f3ff0c"/><stop offset="0.2857" stop-color="#feff01"/><stop offset="0.3061" stop-color="#fffd00"/><stop offset="0.3265" stop-color="#fffb00"/><stop offset="0.3469" stop-color="#fff900"/><stop offset="0.3673" stop-color="#fff700"/><stop offset="0.3878" stop-color="#fff300"/><stop offset="0.4082" stop-color="#ffee00"/><stop offset="0.4286" stop-color="#ffe500"/><stop offset="0.449" stop-color="#ffdd00"/><stop offset="0.4694" stop-color="#ffd200"/><stop offset="0.4898" stop-color="#ffc800"/><stop offset="0.5102" stop-color="#ffbd00"/><stop offset="0.5306" stop-color="#ffb200"/><stop offset="0.551" stop-color="#ffa700"/><stop offset="0.5714" stop-color="#ff9b00"/><stop offset="0.5918" stop-color="#ff8f00"/><stop offset="0.6122" stop-color="#ff8100"/><stop offset="0.6327" stop-color="#ff7400"/><stop offset="0.6531" stop-color="#ff6800"/><stop offset="0.6735" stop-color="#ff5d00"/><stop offset="0.6939" stop-color="#ff5200"/><stop offset="0.7143" stop-color="#ff4700"/><stop offset="0.7347" stop-color="#ff3c00"/><stop offset="0.7551" stop-color="#ff2f00"/><stop offset="0.7755" stop-color="#ff2300"/><stop offset="0.7959" stop-color="#ff1700"/><stop offset="0.8163" stop-color="#ff0b00"/><stop offset="0.8367" stop-color="#fe0000"/><stop offset="0.8571" stop-color="#f20000"/><stop offset="0.8776" stop-color="#e60000"/><stop offset="0.898" stop-color="#da0000"/><stop offset="0.9184" stop-color="#cd0000"/><stop offset="0.9388" stop-color="#c10000"/><stop offset="0.9592" stop-color="#b50000"/><stop offset="0.9796" stop-color="#a90000"/><stop offset="1" stop-color="#9e0000"/></linearGradient>
<linearGradient id="g33"><stop offset="0" stop-color="#0000f9"/><stop offset="0.02041" stop-color="#0017ff"/><stop offset="0.04082" stop-color="#003cff"/><stop offset="0.06122" stop-color="#006bff"/><stop offset="0.08163" stop-color="#0096ff"/><stop offset="0.102" stop-color="#00bfff"/><stop offset="0.1224" stop-color="#00ebff"/><stop offset="0.1429" stop-color="#21ffde"/><stop offset="0.1633" stop-color="#51ffae"/><stop offset="0.1837" stop-color="#7bff84"/><stop offset="0.2041" stop-color="#a1ff5e"/><stop offset="0.2245" stop-color="#c6ff39"/><stop offset="0.2449" stop-color="#e1ff1e"/><stop offset="0.2653" stop-color="#f3ff0c"/><stop offset="0.2857" stop-color="#feff01"/><stop offset="0.3061" stop-color="#fffd00"/><stop offset="0.3265" stop-color="#fffa00"/><stop offset="0.3469" stop-color="#fff800"/><stop offset="0.3673" stop-color="#fff500"/><stop offset="0.3878" stop-color="#fff100"/><stop offset="0.4082" stop-color="#ffeb00"/><stop offset="0.4286" stop-color="#ffe300"/><stop offset="0.449" stop-color="#ffd900"/><stop offset="0.4694" stop-color="#ffcf00"/><stop offset="0.4898" stop-color="#ffc400"/><stop offset="0.5102" stop-color="#ffba00"/><stop offset="0.5306" stop-color="#ffaf00"/><stop offset="0.551" stop-color="#ffa400"/><stop offset="0.5714" stop-color="#ff9800"/><stop offset="0.5918" stop-color="#ff8c00"/><stop offset="0.6122" stop-color="#ff7f00"/><stop offset="0.6327" stop-color="#ff7200"/><stop offset="0.6531" stop-color="#ff6600"/><stop offset="0.6735" stop-color="#ff5b00"/><stop offset="0.6939" stop-color="#ff5100"/><stop offset="0.7143" stop-color="#ff4600"/><stop offset="0.7347" stop-color="#ff3a00"/><stop offset="0.7551" stop-color="#ff2e00"/><stop offset="0.7755" stop-color="#ff2200"/><stop offset="0.7959" stop-color="#ff1600"/><stop offset="0.8163" stop-color="#ff0a00"/><stop offset="0.8367" stop-color="#fd0000"/><stop offset="0.8571" stop-color="#f10000"/><stop offset="0.8776" stop-color="#e50000"/><stop offset="0.898" stop-color="#d80000"/><stop offset="0.9184" stop-color="#cb0000"/><stop offset="0.9388" stop-color="#be0000"/><stop offset="0.9592" stop-color="#b20000"/><stop offset="0.9796" stop-color="#a60000"/><stop offset="1" stop-color="#9a0000"/></linearGradient>
<linearGradient id="g34"><stop offset="0" stop-color="#0002ff"/><stop offset="0.02041" stop-color="#001eff"/><stop offset="0.04082" stop-color="#0043ff"/><stop offset="0.06122" stop-color="#0071ff"/><stop offset="0.08163" stop-color="#009aff"/><stop offset="0.102" stop-color="#00c3ff"/><stop offset="0.1224" stop-color="#00edff"/><stop offset="0.1429" stop-color="#22ffdd"/><stop offset="0.1633" stop-color="#52ffad"/><stop offset="0.1837" stop-color="#7aff85"/><stop offset="0.2041" stop-color="#a0ff5f"/><stop offset="0.2245" stop-color="#c5ff3a"/><stop offset="0.2449" stop-color="#e0ff1f"/><stop offset="0.2653" stop-color="#f2ff0d"/><stop offset="0.2857" stop-color="#fdff02"/><stop offset="0.3061" stop-color="#fffc00"/><stop offset="0.3265" stop-color="#fff900"/><stop offset="0.3469" stop-color="#fff700"/><stop offset="0.3673" stop-color="#fff300"/><stop offset="0.3878" stop-color="#ffef00"/><stop offset="0.4082" stop-color="#ffe900"/><stop offset="0.4286" stop-color="#ffdf00"/><stop offset="0.449" stop-color="#ffd600"/><stop offset="0.4694" stop-color="#ffcc00"/><stop offset="0.4898" stop-color="#ffc100"/><stop offset="0.5102" stop-color="#ffb600"/><stop offset="0.5306" stop-color="#ffab00"/><stop offset="0.551" stop-color="#ffa000"/><stop offset="0.5714" stop-color="#ff9400"/><stop offset="0.5918" stop-color="#ff8800"/><stop offset="0.6122" stop-color="#ff7c00"/><stop offset="0.6327" stop-color="#ff7000"/><stop offset="0.6531" stop-color="#ff6400"/><stop offset="0.6735" stop-color="#ff5900"/><stop offset="0.6939" stop-color="#ff4f00"/><stop offset="0.7143" stop-color="#ff4400"/><stop offset="0.7347" stop-color="#ff3900"/><stop offset="0.7551" stop-color="#ff2d00"/><stop offset="0.7755" stop-color="#ff2100"/><stop offset="0.7959" stop-color="#ff1500"/><stop offset="0.8163" stop-color="#ff0900"/><stop offset="0.8367" stop-color="#fc0000"/><stop offset="0.8571" stop-color="#f00000"/><stop offset="0.8776" stop-color="#e30000"/><stop offset="0.898" stop-color="#d50000"/><stop offset="0.9184" stop-color="#c80000"/><stop offset="0.9388" stop-color="#bb0000"/><stop offset="0.9592" stop-color="#af0000"/><stop offset="0.9796" stop-color="#a30000"/><stop offset="1" stop-color="#970000"/></linearGradient>
<linearGradient id="g35"><stop offset="0" stop-color="#0009ff"/><stop offset="0.02041" stop-color="#0024ff"/><stop offset="0.04082" stop-color="#0049ff"/><stop offset="0.06122" stop-color="#0077ff"/><stop offset="0.08163" stop-color="#009fff"/><stop offset="0.102" stop-color="#00c6ff"/><stop offset="0.1224" stop-color="#00f0ff"/><stop offset="0.1429" stop-color="#24ffdb"/><stop offset="0.1633" stop-color="#53ffac"/><stop offset="0.1837" stop-color="#7aff85"/><stop offset="0.2041" stop-color="#9eff61"/><stop offset="0.2245" stop-color="#c3ff3c"/><stop offset="0.2449" stop-color="#dfff20"/><stop offset="0.2653" stop-color="#f1ff0e"/><stop offset="0.2857" stop-color="#fdff02"/><stop offset="0.3061" stop-color="#fffc00"/><stop offset="0.3265" stop-color="#fff900"/><stop offset="0.3469" stop-color="#fff500"/><stop offset="0.3673" stop-color="#fff100"/><stop offset="0.3878" stop-color="#ffed00"/><stop offset="0.4082" stop-color="#ffe600"/><stop offset="0.4286" stop-color="#ffdc00"/><stop offset="0.449" stop-color="#ffd200"/><stop offset="0.4694" stop-color="#ffc800"/><stop offset="0.4898" stop-color="#ffbd00"/><stop offset="0.5102" stop-color="#ffb300"/><stop offset="0.5306" stop-color="#ffa700"/><stop offset="0.551" stop-color="#ff9c00"/><stop offset="0.5714" stop-color="#ff9000"/><stop offset="0.5918" stop-color="#ff8500"/><stop offset="0.6122" stop-color="#ff7900"/><stop offset="0.6327" stop-color="#ff6d00"/><stop offset="0.6531" stop-color="#ff6200"/><stop offset="0.6735" stop-color="#ff5700"/><stop offset="0.6939" stop-color="#ff4d00"/><stop offset="0.7143" stop-color="#ff4300"/><stop offset="0.7347" stop-color="#ff3800"/><stop offset="0.7551" stop-color="#ff2c00"/><stop offset="0.7755" stop-color="#ff2000"/><stop offset="0.7959" stop-color="#ff1500"/><stop offset="0.8163" stop-color="#ff0800"/><stop offset="0.8367" stop-color="#fb0000"/><stop offset="0.8571" stop-color="#ee0000"/><stop offset="0.8776" stop-color="#e10000"/><stop offset="0.898" stop-color="#d30000"/><stop offset="0.9184" stop-color="#c60000"/><stop offset="0.9388" stop-color="#b80000"/><stop offset="0.9592" stop-color="#ac0000"/><stop offset="0.9796" stop-color="#9f0000"/><stop offset="1" stop-color="#940000"/></linearGradient>
<linearGradient id="g36"><stop offset="0" stop-color="#0010ff"/><stop offset="0.02041" stop-color="#002bff"/><stop offset="0.04082" stop-color="#004fff"/><stop offset="0.06122" stop-color="#007cff"/><stop offset="0.08163" stop-color="#00a4ff"/><stop offset="0.102" stop-color="#00caff"/><stop offset="0.1224" stop-color="#00f3ff"/><stop offset="0.1429" stop-color="#26ffd9"/><stop offset="0.1633" stop-color="#53ffac"/><stop offset="0.1837" stop-color="#79ff86"/><stop offset="0.2041" stop-color="#9dff62"/><stop offset="0.2245" stop-color="#c2ff3d"/><stop offset="0.2449" stop-color="#deff21"/><stop offset="0.2653" stop-color="#f0ff0f"/><stop offset="0.2857" stop-color="#fcff03"/><stop offset="0.3061" stop-color="#fffc00"/><stop offset="0.3265" stop-color="#fff800"/><stop offset="0.3469" stop-color="#fff400"/><stop offset="0.3673" stop-color="#ffef00"/><stop offset="0.3878" stop-color="#ffea00"/><stop offset="0.4082" stop-color="#ffe300"/><stop offset="0.4286" stop-color="#ffd900"/><stop offset="0.449" stop-color="#ffcf00"/><stop offset="0.4694" stop-color="#ffc400"/><stop offset="0.4898" stop-color="#ffba00"/><stop offset="0.5102" stop-color="#ffaf00"/><stop offset="0.5306" stop-color="#ffa300"/><stop offset="0.551" stop-color="#ff9800"/><stop offset="0.5714" stop-color="#ff8c00"/><stop offset="0.5918" stop-color="#ff8100"/><stop offset="0.6122" stop-color="#ff7500"/><stop offset="0.6327" stop-color="#ff6a00"/><stop offset="0.6531" stop-color="#ff5f00"/><stop offset="0.6735" stop-color="#ff5500"/><stop offset="0.6939" stop-color="#ff4b00"/><stop offset="0.7143" stop-color="#ff4100"/><stop offset="0.7347" stop-color="#ff3600"/><stop offset="0.7551" stop-color="#ff2b00"/><stop offset="0.7755" stop-color="#ff1f00"/><stop offset="0.7959" stop-color="#ff1400"/><stop offset="0.8163" stop-color="#ff0700"/><stop offset="0.8367" stop-color="#f90000"/><stop offset="0.8571" stop-color="#ec0000"/><stop offset="0.8776" stop-color="#df0000"/><stop offset="0.898" stop-color="#d10000"/><stop offset="0.9184" stop-color="#c30000"/><stop offset="0.9388" stop-color="#b60000"/><stop offset="0.9592" stop-color="#a90000"/><stop offset="0.9796" stop-color="#9c0000"/><stop offset="1" stop-color="#910000"/></linearGradient>
<linearGradient id="g37"><stop offset="0" stop-color="#0017ff"/><stop offset="0.02041" stop-color="#0031ff"/><stop offset="0.04082" stop-color="#0055ff"/><stop offset="0.06122" stop-color="#0082ff"/><stop offset="0.08163" stop-color="#00a9ff"/><stop offset="0.102" stop-color="#00ceff"/><stop offset="0.1224" stop-color="#00f6ff"/><stop offset="0.1429" stop-color="#27ffd8"/><stop offset="0.1633" stop-color="#53ffac"/><stop offset="0.1837" stop-color="#79ff86"/><stop offset="0.2041" stop-color="#9cff63"/><stop offset="0.2245" stop-color="#c0ff3f"/><stop offset="0.2449" stop-color="#dcff23"/><stop offset="0.2653" stop-color="#eeff11"/><stop offset="0.2857" stop-color="#fbff04"/><stop offset="0.3061" stop-color="#fffc00"/><stop offset="0.3265" stop-color="#fff700"/><stop offset="0.3469" stop-color="#fff200"/><stop offset="0.3673" stop-color="#ffed00"/><stop offset="0.3878" stop-color="#ffe800"/><stop offset="0.4082" stop-color="#ffe000"/><stop offset="0.4286" stop-color="#ffd600"/><stop offset="0.449" stop-color="#ffcb00"/><stop offset="0.4694" stop-color="#ffc100"/><stop offset="0.4898" stop-color="#ffb600"/><stop offset="0.5102" stop-color="#ffab00"/><stop offset="0.5306" stop-color="#ff9f00"/><stop offset="0.551" stop-color="#ff9400"/><stop offset="0.5714" stop-color="#ff8800"/><stop offset="0.5918" stop-color="#ff7d00"/><stop offset="0.6122" stop-color="#ff7200"/><stop offset="0.6327" stop-color="#ff6700"/><stop offset="0.6531" stop-color="#ff5c00"/><stop offset="0.6735" stop-color="#ff5300"/><stop offset="0.6939" stop-color="#ff4900"/><stop offset="0.7143" stop-color="#ff3f00"/><stop offset="0.7347" stop-color="#ff3500"/><stop offset="0.7551" stop-color="#ff2a00"/><stop offset="0.7755" stop-color="#ff1e00"/><stop offset="0.7959" stop-color="#ff1300"/><stop offset="0.8163" stop-color="#ff0600"/><stop offset="0.8367" stop-color="#f80000"/><stop offset="0.8571" stop-color="#eb0000"/><stop offset="0.8776" stop-color="#dd0000"/><stop offset="0.898" stop-color="#cf0000"/><stop offset="0.9184" stop-color="#c10000"/><stop offset="0.9388" stop-color="#b30000"/><stop offset="0.9592" stop-color="#a60000"/><stop offset="0.9796" stop-color="#9a0000"/><stop offset="1" stop-color="#8e0000"/></linearGradient>
<linearGradient id="g38"><stop offset="0" stop-color="#001eff"/><stop offset="0.02041" stop-color="#0038ff"/><stop offset="0.04082" stop-color="#005bff"/><stop offset="0.06122" stop-color="#0087ff"/><stop offset="0.08163" stop-color="#00adff"/><stop offset="0.102" stop-color="#00d2ff"/><stop offset="0.1224" stop-color="#00f9ff"/><stop offset="0.1429" stop-color="#28ffd7"/><stop offset="0.1633" stop-color="#53ffac"/><stop offset="0.1837" stop-color="#78ff87"/><stop offset="0.2041" stop-color="#9aff65"/><stop offset="0.2245" stop-color="#bdff42"/><stop offset="0.2449" stop-color="#d9ff26"/><stop offset="0.2653" stop-color="#ecff13"/><stop offset="0.2857" stop-color="#f9ff06"/><stop offset="0.3061" stop-color="#fffc00"/><stop offset="0.3265" stop-color="#fff600"/><stop offset="0.3469" stop-color="#fff100"/><stop offset="0.3673" stop-color="#ffeb00"/><stop offset="0.3878" stop-color="#ffe500"/><stop offset="0.4082" stop-color="#ffdd00"/><stop offset="0.4286" stop-color="#ffd200"/><stop offset="0.449" stop-color="#ffc800"/><stop offset="0.4694" stop-color="#ffbd00"/><stop offset="0.4898" stop-color="#ffb200"/><stop offset="0.5102" stop-color="#ffa700"/><stop offset="0.5306" stop-color="#ff9b00"/><stop offset="0.551" stop-color="#ff8f00"/><stop offset="0.5714" stop-color="#ff8400"/><stop offset="0.5918" stop-color="#ff7900"/><stop offset="0.6122" stop-color="#ff6e00"/><stop offset="0.6327" stop-color="#ff6300"/><stop offset="0.6531" stop-color="#ff5900"/><stop offset="0.6735" stop-color="#ff5000"/><stop offset="0.6939" stop-color="#ff4700"/><stop offset="0.7143" stop-color="#ff3e00"/><stop offset="0.7347" stop-color="#ff3400"/><stop offset="0.7551" stop-color="#ff2900"/><stop offset="0.7755" stop-color="#ff1e00"/><stop offset="0.7959" stop-color="#ff1200"/><stop offset="0.8163" stop-color="#ff0500"/><stop offset="0.8367" stop-color="#f70000"/><stop offset="0.8571" stop-color="#ea0000"/><stop offset="0.8776" stop-color="#dc0000"/><stop offset="0.898" stop-color="#ce0000"/><stop offset="0.9184" stop-color="#bf0000"/><stop offset="0.9388" stop-color="#b10000"/><stop offset="0.9592" stop-color="#a40000"/><stop offset="0.9796" stop-color="#970000"/><stop offset="1" stop-color="#8b0000"/></linearGradient>
<linearGradient id="g39"><stop offset="0" stop-color="#0025ff"/><stop offset="0.02041" stop-color="#003fff"/><stop offset="0.04082" stop-color="#0060ff"/><stop offset="0.06122" stop-color="#008cff"/><stop offset="0.08163" stop-color="#00b2ff"/><stop offset="0.102" stop-color="#00d6ff"/><stop offset="0.1224" stop-color="#00fcff"/><stop offset="0.1429" stop-color="#29ffd6"/><stop offset="0.1633" stop-color="#53ffac"/><stop offset="0.1837" stop-color="#77ff88"/><stop offset="0.2041" stop-color="#99ff66"/><stop offset="0.2245" stop-color="#bbff44"/><stop offset="0.2449" stop-color="#d6ff29"/><stop offset="0.2653" stop-color="#e9ff16"/><stop offset="0.2857" stop-color="#f8ff07"/><stop offset="0.3061" stop-color="#fffd00"/><stop offset="0.3265" stop-color="#fff600"/><stop offset="0.3469" stop-color="#fff000"/><stop offset="0.3673" stop-color="#ffe900"/><stop offset="0.3878" stop-color="#ffe200"/><stop offset="0.4082" stop-color="#ffd900"/><stop offset="0.4286" stop-color="#ffcf00"/><stop offset="0.449" stop-color="#ffc400"/><stop offset="0.4694" stop-color="#ffb900"/><stop offset="0.4898" stop-color="#ffae00"/><stop offset="0.5102" stop-color="#ffa300"/><stop offset="0.5306" stop-color="#ff9700"/><stop offset="0.551" stop-color="#ff8b00"/><stop offset="0.5714" stop-color="#ff8000"/><stop offset="0.5918" stop-color="#ff7500"/><stop offset="0.6122" stop-color="#ff6a00"/><stop offset="0.6327" stop-color="#ff6000"/><stop offset="0.6531" stop-color="#ff5600"/><stop offset="0.6735" stop-color="#ff4e00"/><stop offset="0.6939" stop-color="#ff4500"/><stop offset="0.7143" stop-color="#ff3d00"/><stop offset="0.7347" stop-color="#ff3300"/><stop offset="0.7551" stop-color="#ff2800"/><stop offset="0.7755" stop-color="#ff1d00"/><stop offset="0.7959" stop-color="#ff1100"/><stop offset="0.8163" stop-color="#ff0400"/><stop offset="0.8367" stop-color="#f60000"/><stop offset="0.8571" stop-color="#e80000"/><stop offset="0.8776" stop-color="#db0000"/><stop offset="0.898" stop-color="#cc0000"/><stop offset="0.9184" stop-color="#be0000"/><stop offset="0.9388" stop-color="#b00000"/><stop offset="0.9592" stop-color="#a20000"/><stop offset="0.9796" stop-color="#950000"/><stop offset="1" stop-color="#890000"/></linearGradient>
<linearGradient id="g40"><stop offset="0" stop-color="#002cff"/><stop offset="0.02041" stop-color="#0045ff"/><stop offset="0.04082" stop-color="#0066ff"/><stop offset="0.06122" stop-color="#0090ff"/><stop offset="0.08163" stop-color="#00b6ff"/><stop offset="0.102" stop-color="#00dbff"/><stop offset="0.1224" stop-color="#00feff"/><stop offset="0.1429" stop-color="#2affd5"/><stop offset="0.1633" stop-color="#52ffad"/><stop offset="0.1837" stop-color="#76ff89"/><stop offset="0.2041" stop-color="#97ff68"/><stop offset="0.2245" stop-color="#b8ff47"/><stop offset="0.2449" stop-color="#d2ff2d"/><stop offset="0.2653" stop-color="#e7ff18"/><stop offset="0.2857" stop-color="#f7ff08"/><stop offset="0.3061" stop-color="#fffd00"/><stop offset="0.3265" stop-color="#fff500"/><stop offset="0.3469" stop-color="#ffee00"/><stop offset="0.3673" stop-color="#ffe700"/><stop offset="0.3878" stop-color="#ffdf00"/><stop offset="0.4082" stop-color="#ffd600"/><stop offset="0.4286" stop-color="#ffcb00"/><stop offset="0.449" stop-color="#ffc000"/><stop offset="0.4694" stop-color="#ffb500"/><stop offset="0.4898" stop-color="#ffaa00"/><stop offset="0.5102" stop-color="#ff9f00"/><stop offset="0.5306" stop-color="#ff9300"/><stop offset="0.551" stop-color="#ff8700"/><stop offset="0.5714" stop-color="#ff7c00"/><stop offset="0.5918" stop-color="#ff7100"/><stop offset="0.6122" stop-color="#ff6700"/><stop offset="0.6327" stop-color="#ff5d00"/><stop offset="0.6531" stop-color="#ff5400"/><stop offset="0.6735" stop-color="#ff4c00"/><stop offset="0.6939" stop-color="#ff4400"/><stop offset="0.7143" stop-color="#ff3b00"/><stop offset="0.7347" stop-color="#ff3200"/><stop offset="0.7551" stop-color="#ff2700"/><stop offset="0.7755" stop-color="#ff1c00"/><stop offset="0.7959" stop-color="#ff1000"/><stop offset="0.8163" stop-color="#ff0300"/><stop offset="0.8367" stop-color="#f50000"/><stop offset="0.8571" stop-color="#e70000"/><stop offset="0.8776" stop-color="#da0000"/><stop offset="0.898" stop-color="#cb0000"/><stop offset="0.9184" stop-color="#bd0000"/><stop offset="0.9388" stop-color="#af0000"/><stop offset="0.9592" stop-color="#a10000"/><stop offset="0.9796" stop-color="#940000"/><stop offset="1" stop-color="#870000"/></linearGradient>
<linearGradient id="g41"><stop offset="0" stop-color="#0033ff"/><stop offset="0.02041" stop-color="#004bff"/><stop offset="0.04082" stop-color="#006bff"/><stop offset="0.06122" stop-color="#0094ff"/><stop offset="0.08163" stop-color="#00bbff"/><stop offset="0.102" stop-color="#00dfff"/><stop offset="0.1224" stop-color="#02fffd"/><stop offset="0.1429" stop-color="#2bffd4"/><stop offset="0.1633" stop-color="#52ffad"/><stop offset="0.1837" stop-color="#75ff8a"/><stop offset="0.2041" stop-color="#95ff6a"/><stop offset="0.2245" stop-color="#b5ff4a"/><stop offset="0.2449" stop-color="#cfff30"/><stop offset="0.2653" stop-color="#e4ff1b"/><stop offset="0.2857" stop-color="#f5ff0a"/><stop offset="0.3061" stop-color="#fffd00"/><stop offset="0.3265" stop-color="#fff400"/><stop offset="0.3469" stop-color="#ffed00"/><stop offset="0.3673" stop-color="#ffe600"/><stop offset="0.3878" stop-color="#ffdd00"/><stop offset="0.4082" stop-color="#ffd300"/><stop offset="0.4286" stop-color="#ffc800"/><stop offset="0.449" stop-color="#ffbd00"/><stop offset="0.4694" stop-color="#ffb200"/><stop offset="0.4898" stop-color="#ffa600"/><stop offset="0.5102" stop-color="#ff9b00"/><stop offset="0.5306" stop-color="#ff8f00"/><stop offset="0.551" stop-color="#ff8400"/><stop offset="0.5714" stop-color="#ff7900"/><stop offset="0.5918" stop-color="#ff6e00"/><stop offset="0.6122" stop-color="#ff6300"/><stop offset="0.6327" stop-color="#ff5a00"/><stop offset="0.6531" stop-color="#ff5100"/><stop offset="0.6735" stop-color="#ff4900"/><stop offset="0.6939" stop-color="#ff4200"/><stop offset="0.7143" stop-color="#ff3a00"/><stop offset="0.7347" stop-color="#ff3100"/><stop offset="0.7551" stop-color="#ff2700"/><stop offset="0.7755" stop-color="#ff1b00"/><stop offset="0.7959" stop-color="#ff0f00"/><stop offset="0.8163" stop-color="#ff0300"/><stop offset="0.8367" stop-color="#f40000"/><stop offset="0.8571" stop-color="#e70000"/><stop offset="0.8776" stop-color="#d90000"/><stop offset="0.898" stop-color="#cb0000"/><stop offset="0.9184" stop-color="#bc0000"/><stop offset="0.9388" stop-color="#ae0000"/><stop offset="0.9592" stop-color="#a00000"/><stop offset="0.9796" stop-color="#930000"/><stop offset="1" stop-color="#860000"/></linearGradient>
<linearGradient id="g42"><stop offset="0" stop-color="#003aff"/><stop offset="0.02041" stop-color="#0051ff"/><stop offset="0.04082" stop-color="#0070ff"/><stop offset="0.06122" stop-color="#0098ff"/><stop offset="0.08163" stop-color="#00bfff"/><stop offset="0.102" stop-color="#00e2ff"/><stop offset="0.1224" stop-color="#05fffa"/><stop offset="0.1429" stop-color="#2cffd3"/><stop offset="0.1633" stop-color="#51ffae"/><stop offset="0.1837" stop-color="#74ff8b"/><stop offset="0.2041" stop-color="#94ff6b"/><stop offset="0.2245" stop-color="#b1ff4e"/><stop offset="0.2449" stop-color="#cbff34"/><stop offset="0.2653" stop-color="#e1ff1e"/><stop offset="0.2857" stop-color="#f3ff0c"/><stop offset="0.3061" stop-color="#fffe00"/><stop offset="0.3265" stop-color="#fff400"/><stop offset="0.3469" stop-color="#ffec00"/><stop offset="0.3673" stop-color="#ffe400"/><stop offset="0.3878" stop-color="#ffda00"/><stop offset="0.4082" stop-color="#ffd000"/><stop offset="0.4286" stop-color="#ffc500"/><stop offset="0.449" stop-color="#ffba00"/><stop offset="0.4694" stop-color="#ffaf00"/><stop offset="0.4898" stop-color="#ffa300"/><stop offset="0.5102" stop-color="#ff9800"/><stop offset="0.5306" stop-color="#ff8c00"/><stop offset="0.551" stop-color="#ff8000"/><stop offset="0.5714" stop-color="#ff7500"/><stop offset="0.5918" stop-color="#ff6b00"/><stop offset="0.6122" stop-color="#ff6000"/><stop offset="0.6327" stop-color="#ff5700"/><stop offset="0.6531" stop-color="#ff4e00"/><stop offset="0.6735" stop-color="#ff4700"/><stop offset="0.6939" stop-color="#ff4100"/><stop offset="0.7143" stop-color="#ff3a00"/><stop offset="0.7347" stop-color="#ff3100"/><stop offset="0.7551" stop-color="#ff2600"/><stop offset="0.7755" stop-color="#ff1b00"/><stop offset="0.7959" stop-color="#ff0f00"/><stop offset="0.8163" stop-color="#ff0200"/><stop offset="0.8367" stop-color="#f40000"/><stop offset="0.8571" stop-color="#e60000"/><stop offset="0.8776" stop-color="#d80000"/><stop offset="0.898" stop-color="#ca0000"/><stop offset="0.9184" stop-color="#bc0000"/><stop offset="0.9388" stop-color="#ae0000"/><stop offset="0.9592" stop-color="#a00000"/><stop offset="0.9796" stop-color="#920000"/><stop offset="1" stop-color="#850000"/></linearGradient>
<linearGradient id="g43"><stop offset="0" stop-color="#0041ff"/><stop offset="0.02041" stop-color="#0057ff"/><stop offset="0.04082" stop-color="#0075ff"/><stop offset="0.06122" stop-color="#009cff"/><stop offset="0.08163" stop-color="#00c2ff"/><stop offset="0.102" stop-color="#00e6ff"/><stop offset="0.1224" stop-color="#07fff8"/><stop offset="0.1429" stop-color="#2dffd2"/><stop offset="0.1633" stop-color="#51ffae"/><stop offset="0.1837" stop-color="#73ff8c"/><stop offset="0.2041" stop-color="#92ff6d"/><stop offset="0.2245" stop-color="#aeff51"/><stop offset="0.2449" stop-color="#c7ff38"/><stop offset="0.2653" stop-color="#deff21"/><stop offset="0.2857" stop-color="#f2ff0d"/><stop offset="0.3061" stop-color="#fffe00"/><stop offset="0.3265" stop-color="#fff400"/><stop offset="0.3469" stop-color="#ffec00"/><stop offset="0.3673" stop-color="#ffe300"/><stop offset="0.3878" stop-color="#ffd800"/><stop offset="0.4082" stop-color="#ffce00"/><stop offset="0.4286" stop-color="#ffc300"/><stop offset="0.449" stop-color="#ffb800"/><stop offset="0.4694" stop-color="#ffac00"/><stop offset="0.4898" stop-color="#ffa000"/><stop offset="0.5102" stop-color="#ff9500"/><stop offset="0.5306" stop-color="#ff8900"/><stop offset="0.551" stop-color="#ff7e00"/><stop offset="0.5714" stop-color="#ff7300"/><stop offset="0.5918" stop-color="#ff6800"/><stop offset="0.6122" stop-color="#ff5e00"/><stop offset="0.6327" stop-color="#ff5400"/><stop offset="0.6531" stop-color="#ff4c00"/><stop offset="0.6735" stop-color="#ff4600"/><stop offset="0.6939" stop-color="#ff4000"/><stop offset="0.7143" stop-color="#ff3900"/><stop offset="0.7347" stop-color="#ff3000"/><stop offset="0.7551" stop-color="#ff2600"/><stop offset="0.7755" stop-color="#ff1a00"/><stop offset="0.7959" stop-color="#ff0e00"/><stop offset="0.8163" stop-color="#ff0200"/><stop offset="0.8367" stop-color="#f40000"/><stop offset="0.8571" stop-color="#e60000"/><stop offset="0.8776" stop-color="#d80000"/><stop offset="0.898" stop-color="#ca0000"/><stop offset="0.9184" stop-color="#bc0000"/><stop offset="0.9388" stop-color="#ae0000"/><stop offset="0.9592" stop-color="#a00000"/><stop offset="0.9796" stop-color="#920000"/><stop offset="1" stop-color="#840000"/></linearGradient>
<linearGradient id="g44"><stop offset="0" stop-color="#0046ff"/><stop offset="0.02041" stop-color="#005cff"/><stop offset="0.04082" stop-color="#007aff"/><stop offset="0.06122" stop-color="#009fff"/><stop offset="0.08163" stop-color="#00c5ff"/><stop offset="0.102" stop-color="#00e9ff"/><stop offset="0.1224" stop-color="#0afff5"/><stop offset="0.1429" stop-color="#2dffd2"/><stop offset="0.1633" stop-color="#51ffae"/><stop offset="0.1837" stop-color="#72ff8d"/><stop offset="0.2041" stop-color="#91ff6e"/><stop offset="0.2245" stop-color="#abff54"/><stop offset="0.2449" stop-color="#c4ff3b"/><stop offset="0.2653" stop-color="#dbff24"/><stop offset="0.2857" stop-color="#f0ff0f"/><stop offset="0.3061" stop-color="#ffff00"/><stop offset="0.3265" stop-color="#fff400"/><stop offset="0.3469" stop-color="#ffeb00"/><stop offset="0.3673" stop-color="#ffe200"/><stop offset="0.3878" stop-color="#ffd700"/><stop offset="0.4082" stop-color="#ffcc00"/><stop offset="0.4286" stop-color="#ffc100"/><stop offset="0.449" stop-color="#ffb600"/><stop offset="0.4694" stop-color="#ffaa00"/><stop offset="0.4898" stop-color="#ff9e00"/><stop offset="0.5102" stop-color="#ff9300"/><stop offset="0.5306" stop-color="#ff8700"/><stop offset="0.551" stop-color="#ff7b00"/><stop offset="0.5714" stop-color="#ff7000"/><stop offset="0.5918" stop-color="#ff6600"/><stop offset="0.6122" stop-color="#ff5b00"/><stop offset="0.6327" stop-color="#ff5200"/><stop offset="0.6531" stop-color="#ff4a00"/><stop offset="0.6735" stop-color="#ff4400"/><stop offset="0.6939" stop-color="#ff3f00"/><stop offset="0.7143" stop-color="#ff3800"/><stop offset="0.7347" stop-color="#ff3000"/><stop offset="0.7551" stop-color="#ff2500"/><stop offset="0.7755" stop-color="#ff1a00"/><stop offset="0.7959" stop-color="#ff0e00"/><stop offset="0.8163" stop-color="#ff0200"/><stop offset="0.8367" stop-color="#f40000"/><stop offset="0.8571" stop-color="#e60000"/><stop offset="0.8776" stop-color="#d90000"/><stop offset="0.898" stop-color="#cb0000"/><stop offset="0.9184" stop-color="#bd0000"/><stop offset="0.9388" stop-color="#af0000"/><stop offset="0.9592" stop-color="#a10000"/><stop offset="0.9796" stop-color="#920000"/><stop offset="1" stop-color="#850000"/></linearGradient>
<linearGradient id="g45"><stop offset="0" stop-color="#004cff"/><stop offset="0.02041" stop-color="#0061ff"/><stop offset="0.04082" stop-color="#007eff"/><stop offset="0.06122" stop-color="#00a2ff"/><stop offset="0.08163" stop-color="#00c8ff"/><stop offset="0.102" stop-color="#00ecff"/><stop offset="0.1224" stop-color="#0cfff3"/><stop offset="0.1429" stop-color="#2effd1"/><stop offset="0.1633" stop-color="#51ffae"/><stop offset="0.1837" stop-color="#72ff8d"/><stop offset="0.2041" stop-color="#8fff70"/><stop offset="0.2245" stop-color="#a9ff56"/><stop offset="0.2449" stop-color="#c1ff3e"/><stop offset="0.2653" stop-color="#d9ff26"/><stop offset="0.2857" stop-color="#eeff11"/><stop offset="0.3061" stop-color="#feff01"/><stop offset="0.3265" stop-color="#fff400"/><stop offset="0.3469" stop-color="#ffec00"/><stop offset="0.3673" stop-color="#ffe200"/><stop offset="0.3878" stop-color="#ffd600"/><stop offset="0.4082" stop-color="#ffca00"/><stop offset="0.4286" stop-color="#ffbf00"/><stop offset="0.449" stop-color="#ffb400"/><stop offset="0.4694" stop-color="#ffa800"/><stop offset="0.4898" stop-color="#ff9d00"/><stop offset="0.5102" stop-color="#ff9100"/><stop offset="0.5306" stop-color="#ff8500"/><stop offset="0.551" stop-color="#ff7a00"/><stop offset="0.5714" stop-color="#ff6f00"/><stop offset="0.5918" stop-color="#ff6400"/><stop offset="0.6122" stop-color="#ff5a00"/><stop offset="0.6327" stop-color="#ff5100"/><stop offset="0.6531" stop-color="#ff4900"/><stop offset="0.6735" stop-color="#ff4300"/><stop offset="0.6939" stop-color="#ff3e00"/><stop offset="0.7143" stop-color="#ff3700"/><stop offset="0.7347" stop-color="#ff2f00"/><stop offset="0.7551" stop-color="#ff2500"/><stop offset="0.7755" stop-color="#ff1900"/><stop offset="0.7959" stop-color="#ff0e00"/><stop offset="0.8163" stop-color="#ff0200"/><stop offset="0.8367" stop-color="#f40000"/><stop offset="0.8571" stop-color="#e70000"/><stop offset="0.8776" stop-color="#da0000"/><stop offset="0.898" stop-color="#cc0000"/><stop offset="0.9184" stop-color="#be0000"/><stop offset="0.9388" stop-color="#b00000"/><stop offset="0.9592" stop-color="#a20000"/><stop offset="0.9796" stop-color="#940000"/><stop offset="1" stop-color="#850000"/></linearGradient>
<linearGradient id="g46"><stop offset="0" stop-color="#0051ff"/><stop offset="0.02041" stop-color="#0066ff"/><stop offset="0.04082" stop-color="#0082ff"/><stop offset="0.06122" stop-color="#00a5ff"/><stop offset="0.08163" stop-color="#00cbff"/><stop offset="0.102" stop-color="#00efff"/><stop offset="0.1224" stop-color="#0efff1"/><stop offset="0.1429" stop-color="#30ffcf"/><stop offset="0.1633" stop-color="#51ffae"/><stop offset="0.1837" stop-color="#71ff8e"/><stop offset="0.2041" stop-color="#8eff71"/><stop offset="0.2245" stop-color="#a6ff59"/><stop offset="0.2449" stop-color="#beff41"/><stop offset="0.2653" stop-color="#d6ff29"/><stop offset="0.2857" stop-color="#ecff13"/><stop offset="0.3061" stop-color="#fcff03"/><stop offset="0.3265" stop-color="#fff500"/><stop offset="0.3469" stop-color="#ffec00"/><stop offset="0.3673" stop-color="#ffe200"/><stop offset="0.3878" stop-color="#ffd500"/><stop offset="0.4082" stop-color="#ffc900"/><stop offset="0.4286" stop-color="#ffbf00"/><stop offset="0.449" stop-color="#ffb300"/><stop offset="0.4694" stop-color="#ffa700"/><stop offset="0.4898" stop-color="#ff9c00"/><stop offset="0.5102" stop-color="#ff9000"/><stop offset="0.5306" stop-color="#ff8400"/><stop offset="0.551" stop-color="#ff7900"/><stop offset="0.5714" stop-color="#ff6e00"/><stop offset="0.5918" stop-color="#ff6300"/><stop offset="0.6122" stop-color="#ff5900"/><stop offset="0.6327" stop-color="#ff5000"/><stop offset="0.6531" stop-color="#ff4800"/><stop offset="0.6735" stop-color="#ff4200"/><stop offset="0.6939" stop-color="#ff3d00"/><stop offset="0.7143" stop-color="#ff3700"/><stop offset="0.7347" stop-color="#ff2f00"/><stop offset="0.7551" stop-color="#ff2400"/><stop offset="0.7755" stop-color="#ff1900"/><stop offset="0.7959" stop-color="#ff0e00"/><stop offset="0.8163" stop-color="#ff0200"/><stop offset="0.8367" stop-color="#f40000"/><stop offset="0.8571" stop-color="#e80000"/><stop offset="0.8776" stop-color="#db0000"/><stop offset="0.898" stop-color="#cd0000"/><stop offset="0.9184" stop-color="#c00000"/><stop offset="0.9388" stop-color="#b20000"/><stop offset="0.9592" stop-color="#a40000"/><stop offset="0.9796" stop-color="#950000"/><stop offset="1" stop-color="#870000"/></linearGradient>
<linearGradient id="g47"><stop offset="0" stop-color="#0055ff"/><stop offset="0.02041" stop-color="#006aff"/><stop offset="0.04082" stop-color="#0085ff"/><stop offset="0.06122" stop-color="#00a8ff"/><stop offset="0.08163" stop-color="#00ceff"/><stop offset="0.102" stop-color="#00f1ff"/><stop offset="0.1224" stop-color="#10ffef"/><stop offset="0.1429" stop-color="#31ffce"/><stop offset="0.1633" stop-color="#51ffae"/><stop offset="0.1837" stop-color="#71ff8e"/><stop offset="0.2041" stop-color="#8dff72"/><stop offset="0.2245" stop-color="#a4ff5b"/><stop offset="0.2449" stop-color="#bbff44"/><stop offset="0.2653" stop-color="#d4ff2b"/><stop offset="0.2857" stop-color="#eaff15"/><stop offset="0.3061" stop-color="#fbff04"/><stop offset="0.3265" stop-color="#fff600"/><stop offset="0.3469" stop-color="#ffed00"/><stop offset="0.3673" stop-color="#ffe300"/><stop offset="0.3878" stop-color="#ffd500"/><stop offset="0.4082" stop-color="#ffc900"/><stop offset="0.4286" stop-color="#ffbe00"/><stop offset="0.449" stop-color="#ffb300"/><stop offset="0.4694" stop-color="#ffa700"/><stop offset="0.4898" stop-color="#ff9b00"/><stop offset="0.5102" stop-color="#ff9000"/><stop offset="0.5306" stop-color="#ff8400"/><stop offset="0.551" stop-color="#ff7800"/><stop offset="0.5714" stop-color="#ff6d00"/><stop offset="0.5918" stop-color="#ff6200"/><stop offset="0.6122" stop-color="#ff5800"/><stop offset="0.6327" stop-color="#ff4f00"/><stop offset="0.6531" stop-color="#ff4800"/><stop offset="0.6735" stop-color="#ff4200"/><stop offset="0.6939" stop-color="#ff3d00"/><stop offset="0.7143" stop-color="#ff3700"/><stop offset="0.7347" stop-color="#ff2e00"/><stop offset="0.7551" stop-color="#ff2400"/><stop offset="0.7755" stop-color="#ff1900"/><stop offset="0.7959" stop-color="#ff0e00"/><stop offset="0.8163" stop-color="#ff0200"/><stop offset="0.8367" stop-color="#f50000"/><stop offset="0.8571" stop-color="#e90000"/><stop offset="0.8776" stop-color="#dc0000"/><stop offset="0.898" stop-color="#cf0000"/><stop offset="0.9184" stop-color="#c20000"/><stop offset="0.9388" stop-color="#b40000"/><stop offset="0.9592" stop-color="#a60000"/><stop offset="0.9796" stop-color="#970000"/><stop offset="1" stop-color="#890000"/></linearGradient>
<linearGradient id="g48"><stop offset="0" stop-color="#0059ff"/><stop offset="0.02041" stop-color="#006dff"/><stop offset="0.04082" stop-color="#0088ff"/><stop offset="0.06122" stop-color="#00aaff"/><stop offset="0.08163" stop-color="#00d0ff"/><stop offset="0.102" stop-color="#00f3ff"/><stop offset="0.1224" stop-color="#12ffed"/><stop offset="0.1429" stop-color="#33ffcc"/><stop offset="0.1633" stop-color="#52ffad"/><stop offset="0.1837" stop-color="#71ff8e"/><stop offset="0.2041" stop-color="#8cff73"/><stop offset="0.2245" stop-color="#a3ff5c"/><stop offset="0.2449" stop-color="#b9ff46"/><stop offset="0.2653" stop-color="#d2ff2d"/><stop offset="0.2857" stop-color="#e8ff17"/><stop offset="0.3061" stop-color="#f9ff06"/><stop offset="0.3265" stop-color="#fff700"/><stop offset="0.3469" stop-color="#ffee00"/><stop offset="0.3673" stop-color="#ffe400"/><stop offset="0.3878" stop-color="#ffd600"/><stop offset="0.4082" stop-color="#ffc900"/><stop offset="0.4286" stop-color="#ffbe00"/><stop offset="0.449" stop-color="#ffb300"/><stop offset="0.4694" stop-color="#ffa700"/><stop offset="0.4898" stop-color="#ff9c00"/><stop offset="0.5102" stop-color="#ff9000"/><stop offset="0.5306" stop-color="#ff8400"/><stop offset="0.551" stop-color="#ff7800"/><stop offset="0.5714" stop-color="#ff6d00"/><stop offset="0.5918" stop-color="#ff6200"/><stop offset="0.6122" stop-color="#ff5800"/><stop offset="0.6327" stop-color="#ff4f00"/><stop offset="0.6531" stop-color="#ff4800"/><stop offset="0.6735" stop-color="#ff4200"/><stop offset="0.6939" stop-color="#ff3c00"/><stop offset="0.7143" stop-color="#ff3600"/><stop offset="0.7347" stop-color="#ff2e00"/><stop offset="0.7551" stop-color="#ff2400"/><stop offset="0.7755" stop-color="#ff1900"/><stop offset="0.7959" stop-color="#ff0e00"/><stop offset="0.8163" stop-color="#ff0300"/><stop offset="0.8367" stop-color="#f60000"/><stop offset="0.8571" stop-color="#ea0000"/><stop offset="0.8776" stop-color="#de0000"/><stop offset="0.898" stop-color="#d10000"/><stop offset="0.9184" stop-color="#c40000"/><stop offset="0.9388" stop-color="#b60000"/><stop offset="0.9592" stop-color="#a80000"/><stop offset="0.9796" stop-color="#9a0000"/><stop offset="1" stop-color="#8b0000"/></linearGradient>
<linearGradient id="g49"><stop offset="0" stop-color="#005cff"/><stop offset="0.02041" stop-color="#0070ff"/><stop offset="0.04082" stop-color="#008bff"/><stop offset="0.06122" stop-color="#00adff"/><stop offset="0.08163" stop-color="#00d2ff"/><stop offset="0.102" stop-color="#00f5ff"/><stop offset="0.1224" stop-color="#14ffeb"/><stop offset="0.1429" stop-color="#34ffcb"/><stop offset="0.1633" stop-color="#53ffac"/><stop offset="0.1837" stop-color="#71ff8e"/><stop offset="0.2041" stop-color="#8bff74"/><stop offset="0.2245" stop-color="#a1ff5e"/><stop offset="0.2449" stop-color="#b7ff48"/><stop offset="0.2653" stop-color="#d0ff2f"/><stop offset="0.2857" stop-color="#e6ff19"/><stop offset="0.3061" stop-color="#f7ff08"/><stop offset="0.3265" stop-color="#fff900"/><stop offset="0.3469" stop-color="#ffef00"/><stop offset="0.3673" stop-color="#ffe500"/><stop offset="0.3878" stop-color="#ffd700"/><stop offset="0.4082" stop-color="#ffca00"/><stop offset="0.4286" stop-color="#ffbf00"/><stop offset="0.449" stop-color="#ffb300"/><stop offset="0.4694" stop-color="#ffa800"/><stop offset="0.4898" stop-color="#ff9c00"/><stop offset="0.5102" stop-color="#ff9000"/><stop offset="0.5306" stop-color="#ff8400"/><stop offset="0.551" stop-color="#ff7800"/><stop offset="0.5714" stop-color="#ff6d00"/><stop offset="0.5918" stop-color="#ff6300"/><stop offset="0.6122" stop-color="#ff5900"/><stop offset="0.6327" stop-color="#ff4f00"/><stop offset="0.6531" stop-color="#ff4800"/><stop offset="0.6735" stop-color="#ff4200"/><stop offset="0.6939" stop-color="#ff3c00"/><stop offset="0.7143" stop-color="#ff3600"/><stop offset="0.7347" stop-color="#ff2e00"/><stop offset="0.7551" stop-color="#ff2400"/><stop offset="0.7755" stop-color="#ff1900"/><stop offset="0.7959" stop-color="#ff0e00"/><stop offset="0.8163" stop-color="#ff0300"/><stop offset="0.8367" stop-color="#f70000"/><stop offset="0.8571" stop-color="#ec0000"/><stop offset="0.8776" stop-color="#e00000"/><stop offset="0.898" stop-color="#d40000"/><stop offset="0.9184" stop-color="#c70000"/><stop offset="0.9388" stop-color="#b90000"/><stop offset="0.9592" stop-color="#ab0000"/><stop offset="0.9796" stop-color="#9d0000"/><stop offset="1" stop-color="#8e0000"/></linearGradient>
<linearGradient id="g50"><stop offset="0" stop-color="#005fff"/><stop offset="0.02041" stop-color="#0073ff"/><stop offset="0.04082" stop-color="#008eff"/><stop offset="0.06122" stop-color="#00afff"/><stop offset="0.08163" stop-color="#00d3ff"/><stop offset="0.102" stop-color="#00f6ff"/><stop offset="0.1224" stop-color="#15ffea"/><stop offset="0.1429" stop-color="#36ffc9"/><stop offset="0.1633" stop-color="#54ffab"/><stop offset="0.1837" stop-color="#71ff8e"/><stop offset="0.2041" stop-color="#8aff75"/><stop offset="0.2245" stop-color="#a0ff5f"/><stop offset="0.2449" stop-color="#b5ff4a"/><stop offset="0.2653" stop-color="#ceff31"/><stop offset="0.2857" stop-color="#e4ff1b"/><stop offset="0.3061" stop-color="#f5ff0a"/><stop offset="0.3265" stop-color="#fffb00"/><stop offset="0.3469" stop-color="#fff100"/><stop offset="0.3673" stop-color="#ffe600"/><stop offset="0.3878" stop-color="#ffd800"/><stop offset="0.4082" stop-color="#ffcb00"/><stop offset="0.4286" stop-color="#ffbf00"/><stop offset="0.449" stop-color="#ffb400"/><stop offset="0.4694" stop-color="#ffa900"/><stop offset="0.4898" stop-color="#ff9d00"/><stop offset="0.5102" stop-color="#ff9100"/><stop offset="0.5306" stop-color="#ff8500"/><stop offset="0.551" stop-color="#ff7900"/><stop offset="0.5714" stop-color="#ff6e00"/><stop offset="0.5918" stop-color="#ff6300"/><stop offset="0.6122" stop-color="#ff5900"/><stop offset="0.6327" stop-color="#ff5000"/><stop offset="0.6531" stop-color="#ff4800"/><stop offset="0.6735" stop-color="#ff4200"/><stop offset="0.6939" stop-color="#ff3c00"/><stop offset="0.7143" stop-color="#ff3600"/><stop offset="0.7347" stop-color="#ff2e00"/><stop offset="0.7551" stop-color="#ff2400"/><stop offset="0.7755" stop-color="#ff1900"/><stop offset="0.7959" stop-color="#ff0e00"/><stop offset="0.8163" stop-color="#ff0400"/><stop offset="0.8367" stop-color="#f90000"/><stop offset="0.8571" stop-color="#ee0000"/><stop offset="0.8776" stop-color="#e20000"/><stop offset="0.898" stop-color="#d60000"/><stop offset="0.9184" stop-color="#c90000"/><stop offset="0.9388" stop-color="#bc0000"/><stop offset="0.9592" stop-color="#ae0000"/><stop offset="0.9796" stop-color="#a00000"/><stop offset="1" stop-color="#910000"/></linearGradient>
<linearGradient id="g51"><stop offset="0" stop-color="#0062ff"/><stop offset="0.02041" stop-color="#0076ff"/><stop offset="0.04082" stop-color="#0090ff"/><stop offset="0.06122" stop-color="#00b1ff"/><stop offset="0.08163" stop-color="#00d5ff"/><stop offset="0.102" stop-color="#00f8ff"/><stop offset="0.1224" stop-color="#17ffe8"/><stop offset="0.1429" stop-color="#38ffc7"/><stop offset="0.1633" stop-color="#56ffa9"/><stop offset="0.1837" stop-color="#71ff8e"/><stop offset="0.2041" stop-color="#8aff75"/><stop offset="0.2245" stop-color="#9fff60"/><stop offset="0.2449" stop-color="#b4ff4b"/><stop offset="0.2653" stop-color="#ccff33"/><stop offset="0.2857" stop-color="#e2ff1d"/><stop offset="0.3061" stop-color="#f3ff0c"/><stop offset="0.3265" stop-color="#fffc00"/><stop offset="0.3469" stop-color="#fff300"/><stop offset="0.3673" stop-color="#ffe800"/><stop offset="0.3878" stop-color="#ffd900"/><stop offset="0.4082" stop-color="#ffcc00"/><stop offset="0.4286" stop-color="#ffc000"/><stop offset="0.449" stop-color="#ffb500"/><stop offset="0.4694" stop-color="#ffaa00"/><stop offset="0.4898" stop-color="#ff9e00"/><stop offset="0.5102" stop-color="#ff9300"/><stop offset="0.5306" stop-color="#ff8600"/><stop offset="0.551" stop-color="#ff7a00"/><stop offset="0.5714" stop-color="#ff6f00"/><stop offset="0.5918" stop-color="#ff6400"/><stop offset="0.6122" stop-color="#ff5a00"/><stop offset="0.6327" stop-color="#ff5100"/><stop offset="0.6531" stop-color="#ff4900"/><stop offset="0.6735" stop-color="#ff4300"/><stop offset="0.6939" stop-color="#ff3d00"/><stop offset="0.7143" stop-color="#ff3600"/><stop offset="0.7347" stop-color="#ff2e00"/><stop offset="0.7551" stop-color="#ff2400"/><stop offset="0.7755" stop-color="#ff1900"/><stop offset="0.7959" stop-color="#ff0f00"/><stop offset="0.8163" stop-color="#ff0500"/><stop offset="0.8367" stop-color="#fa0000"/><stop offset="0.8571" stop-color="#f00000"/><stop offset="0.8776" stop-color="#e50000"/><stop offset="0.898" stop-color="#d90000"/><stop offset="0.9184" stop-color="#cc0000"/><stop offset="0.9388" stop-color="#bf0000"/><stop offset="0.9592" stop-color="#b20000"/><stop offset="0.9796" stop-color="#a30000"/><stop offset="1" stop-color="#940000"/></linearGradient>
<linearGradient id="g52"><stop offset="0" stop-color="#0064ff"/><stop offset="0.02041" stop-color="#0079ff"/><stop offset="0.04082" stop-color="#0093ff"/><stop offset="0.06122" stop-color="#00b3ff"/><stop offset="0.08163" stop-color="#00d7ff"/><stop offset="0.102" stop-color="#00f9ff"/><stop offset="0.1224" stop-color="#18ffe7"/><stop offset="0.1429" stop-color="#39ffc6"/><stop offset="0.1633" stop-color="#57ffa8"/><stop offset="0.1837" stop-color="#71ff8e"/><stop offset="0.2041" stop-color="#89ff76"/><stop offset="0.2245" stop-color="#9eff61"/><stop offset="0.2449" stop-color="#b3ff4c"/><stop offset="0.2653" stop-color="#caff35"/><stop offset="0.2857" stop-color="#e0ff1f"/><stop offset="0.3061" stop-color="#f1ff0e"/><stop offset="0.3265" stop-color="#fffe00"/><stop offset="0.3469" stop-color="#fff400"/><stop offset="0.3673" stop-color="#ffe900"/><stop offset="0.3878" stop-color="#ffdb00"/><stop offset="0.4082" stop-color="#ffcd00"/><stop offset="0.4286" stop-color="#ffc200"/><stop offset="0.449" stop-color="#ffb600"/><stop offset="0.4694" stop-color="#ffab00"/><stop offset="0.4898" stop-color="#ffa000"/><stop offset="0.5102" stop-color="#ff9400"/><stop offset="0.5306" stop-color="#ff8800"/><stop offset="0.551" stop-color="#ff7b00"/><stop offset="0.5714" stop-color="#ff7000"/><stop offset="0.5918" stop-color="#ff6500"/><stop offset="0.6122" stop-color="#ff5b00"/><stop offset="0.6327" stop-color="#ff5200"/><stop offset="0.6531" stop-color="#ff4a00"/><stop offset="0.6735" stop-color="#ff4300"/><stop offset="0.6939" stop-color="#ff3d00"/><stop offset="0.7143" stop-color="#ff3600"/><stop offset="0.7347" stop-color="#ff2e00"/><stop offset="0.7551" stop-color="#ff2400"/><stop offset="0.7755" stop-color="#ff1a00"/><stop offset="0.7959" stop-color="#ff1000"/><stop offset="0.8163" stop-color="#ff0600"/><stop offset="0.8367" stop-color="#fc0000"/><stop offset="0.8571" stop-color="#f20000"/><stop offset="0.8776" stop-color="#e70000"/><stop offset="0.898" stop-color="#dc0000"/><stop offset="0.9184" stop-color="#d00000"/><stop offset="0.9388" stop-color="#c30000"/><stop offset="0.9592" stop-color="#b50000"/><stop offset="0.9796" stop-color="#a70000"/><stop offset="1" stop-color="#980000"/></linearGradient>
<linearGradient id="g53"><stop offset="0" stop-color="#0067ff"/><stop offset="0.02041" stop-color="#007bff"/><stop offset="0.04082" stop-color="#0095ff"/><stop offset="0.06122" stop-color="#00b6ff"/><stop offset="0.08163" stop-color="#00d8ff"/><stop offset="0.102" stop-color="#00faff"/><stop offset="0.1224" stop-color="#1affe5"/><stop offset="0.1429" stop-color="#3bffc4"/><stop offset="0.1633" stop-color="#59ffa6"/><stop offset="0.1837" stop-color="#72ff8d"/><stop offset="0.2041" stop-color="#89ff76"/><stop offset="0.2245" stop-color="#9dff62"/><stop offset="0.2449" stop-color="#b2ff4d"/><stop offset="0.2653" stop-color="#c9ff36"/><stop offset="0.2857" stop-color="#deff21"/><stop offset="0.3061" stop-color="#efff10"/><stop offset="0.3265" stop-color="#fdff02"/><stop offset="0.3469" stop-color="#fff600"/><stop offset="0.3673" stop-color="#ffeb00"/><stop offset="0.3878" stop-color="#ffdc00"/><stop offset="0.4082" stop-color="#ffcf00"/><stop offset="0.4286" stop-color="#ffc300"/><stop offset="0.449" stop-color="#ffb800"/><stop offset="0.4694" stop-color="#ffad00"/><stop offset="0.4898" stop-color="#ffa200"/><stop offset="0.5102" stop-color="#ff9600"/><stop offset="0.5306" stop-color="#ff8900"/><stop offset="0.551" stop-color="#ff7d00"/><stop offset="0.5714" stop-color="#ff7100"/><stop offset="0.5918" stop-color="#ff6700"/><stop offset="0.6122" stop-color="#ff5d00"/><stop offset="0.6327" stop-color="#ff5400"/><stop offset="0.6531" stop-color="#ff4b00"/><stop offset="0.6735" stop-color="#ff4400"/><stop offset="0.6939" stop-color="#ff3e00"/><stop offset="0.7143" stop-color="#ff3600"/><stop offset="0.7347" stop-color="#ff2e00"/><stop offset="0.7551" stop-color="#ff2400"/><stop offset="0.7755" stop-color="#ff1a00"/><stop offset="0.7959" stop-color="#ff1100"/><stop offset="0.8163" stop-color="#ff0800"/><stop offset="0.8367" stop-color="#fe0000"/><stop offset="0.8571" stop-color="#f40000"/><stop offset="0.8776" stop-color="#ea0000"/><stop offset="0.898" stop-color="#df0000"/><stop offset="0.9184" stop-color="#d30000"/><stop offset="0.9388" stop-color="#c60000"/><stop offset="0.9592" stop-color="#b90000"/><stop offset="0.9796" stop-color="#ab0000"/><stop offset="1" stop-color="#9c0000"/></linearGradient>
<linearGradient id="g54"><stop offset="0" stop-color="#0069ff"/><stop offset="0.02041" stop-color="#007dff"/><stop offset="0.04082" stop-color="#0097ff"/><stop offset="0.06122" stop-color="#00b8ff"/><stop offset="0.08163" stop-color="#00daff"/><stop offset="0.102" stop-color="#00fbff"/><stop offset="0.1224" stop-color="#1bffe4"/><stop offset="0.1429" stop-color="#3dffc2"/><stop offset="0.1633" stop-color="#5affa5"/><stop offset="0.1837" stop-color="#72ff8d"/><stop offset="0.2041" stop-color="#89ff76"/><stop offset="0.2245" stop-color="#9dff62"/><stop offset="0.2449" stop-color="#b1ff4e"/><stop offset="0.2653" stop-color="#c7ff38"/><stop offset="0.2857" stop-color="#dcff23"/><stop offset="0.3061" stop-color="#edff12"/><stop offset="0.3265" stop-color="#fbff04"/><stop offset="0.3469" stop-color="#fff800"/><stop offset="0.3673" stop-color="#ffed00"/><stop offset="0.3878" stop-color="#ffde00"/><stop offset="0.4082" stop-color="#ffd100"/><stop offset="0.4286" stop-color="#ffc500"/><stop offset="0.449" stop-color="#ffb900"/><stop offset="0.4694" stop-color="#ffaf00"/><stop offset="0.4898" stop-color="#ffa400"/><stop offset="0.5102" stop-color="#ff9800"/><stop offset="0.5306" stop-color="#ff8b00"/><stop offset="0.551" stop-color="#ff7e00"/><stop offset="0.5714" stop-color="#ff7300"/><stop offset="0.5918" stop-color="#ff6800"/><stop offset="0.6122" stop-color="#ff5e00"/><stop offset="0.6327" stop-color="#ff5500"/><stop offset="0.6531" stop-color="#ff4d00"/><stop offset="0.6735" stop-color="#ff4500"/><stop offset="0.6939" stop-color="#ff3e00"/><stop offset="0.7143" stop-color="#ff3700"/><stop offset="0.7347" stop-color="#ff2e00"/><stop offset="0.7551" stop-color="#ff2500"/><stop offset="0.7755" stop-color="#ff1b00"/><stop offset="0.7959" stop-color="#ff1100"/><stop offset="0.8163" stop-color="#ff0900"/><stop offset="0.8367" stop-color="#ff0000"/><stop offset="0.8571" stop-color="#f70000"/><stop offset="0.8776" stop-color="#ed0000"/><stop offset="0.898" stop-color="#e20000"/><stop offset="0.9184" stop-color="#d60000"/><stop offset="0.9388" stop-color="#ca0000"/><stop offset="0.9592" stop-color="#bd0000"/><stop offset="0.9796" stop-color="#af0000"/><stop offset="1" stop-color="#a10000"/></linearGradient>
<linearGradient id="g55"><stop offset="0" stop-color="#006aff"/><stop offset="0.02041" stop-color="#007fff"/><stop offset="0.04082" stop-color="#0099ff"/><stop offset="0.06122" stop-color="#00baff"/><stop offset="0.08163" stop-color="#00dcff"/><stop offset="0.102" stop-color="#00fcff"/><stop offset="0.1224" stop-color="#1dffe2"/><stop offset="0.1429" stop-color="#3fffc0"/><stop offset="0.1633" stop-color="#5bffa4"/><stop offset="0.1837" stop-color="#73ff8c"/><stop offset="0.2041" stop-color="#89ff76"/><stop offset="0.2245" stop-color="#9cff63"/><stop offset="0.2449" stop-color="#b0ff4f"/><stop offset="0.2653" stop-color="#c6ff39"/><stop offset="0.2857" stop-color="#daff25"/><stop offset="0.3061" stop-color="#ebff14"/><stop offset="0.3265" stop-color="#f9ff06"/><stop offset="0.3469" stop-color="#fffa00"/><stop offset="0.3673" stop-color="#ffef00"/><stop offset="0.3878" stop-color="#ffe000"/><stop offset="0.4082" stop-color="#ffd300"/><stop offset="0.4286" stop-color="#ffc600"/><stop offset="0.449" stop-color="#ffbb00"/><stop offset="0.4694" stop-color="#ffb000"/><stop offset="0.4898" stop-color="#ffa600"/><stop offset="0.5102" stop-color="#ff9a00"/><stop offset="0.5306" stop-color="#ff8d00"/><stop offset="0.551" stop-color="#ff8000"/><stop offset="0.5714" stop-color="#ff7400"/><stop offset="0.5918" stop-color="#ff6a00"/><stop offset="0.6122" stop-color="#ff6000"/><stop offset="0.6327" stop-color="#ff5700"/><stop offset="0.6531" stop-color="#ff4e00"/><stop offset="0.6735" stop-color="#ff4600"/><stop offset="0.6939" stop-color="#ff3f00"/><stop offset="0.7143" stop-color="#ff3700"/><stop offset="0.7347" stop-color="#ff2f00"/><stop offset="0.7551" stop-color="#ff2500"/><stop offset="0.7755" stop-color="#ff1c00"/><stop offset="0.7959" stop-color="#ff1300"/><stop offset="0.8163" stop-color="#ff0a00"/><stop offset="0.8367" stop-color="#ff0200"/><stop offset="0.8571" stop-color="#f90000"/><stop offset="0.8776" stop-color="#ef0000"/><stop offset="0.898" stop-color="#e50000"/><stop offset="0.9184" stop-color="#da0000"/><stop offset="0.9388" stop-color="#ce0000"/><stop offset="0.9592" stop-color="#c10000"/><stop offset="0.9796" stop-color="#b30000"/><stop offset="1" stop-color="#a50000"/></linearGradient>
<linearGradient id="g56"><stop offset="0" stop-color="#006cff"/><stop offset="0.02041" stop-color="#0081ff"/><stop offset="0.04082" stop-color="#009cff"/><stop offset="0.06122" stop-color="#00bcff"/><stop offset="0.08163" stop-color="#00ddff"/><stop offset="0.102" stop-color="#00feff"/><stop offset="0.1224" stop-color="#1effe1"/><stop offset="0.1429" stop-color="#40ffbf"/><stop offset="0.1633" stop-color="#5dffa2"/><stop offset="0.1837" stop-color="#74ff8b"/><stop offset="0.2041" stop-color="#89ff76"/><stop offset="0.2245" stop-color="#9cff63"/><stop offset="0.2449" stop-color="#afff50"/><stop offset="0.2653" stop-color="#c5ff3a"/><stop offset="0.2857" stop-color="#d9ff26"/><stop offset="0.3061" stop-color="#e9ff16"/><stop offset="0.3265" stop-color="#f7ff08"/><stop offset="0.3469" stop-color="#fffc00"/><stop offset="0.3673" stop-color="#fff100"/><stop offset="0.3878" stop-color="#ffe200"/><stop offset="0.4082" stop-color="#ffd400"/><stop offset="0.4286" stop-color="#ffc800"/><stop offset="0.449" stop-color="#ffbd00"/><stop offset="0.4694" stop-color="#ffb200"/><stop offset="0.4898" stop-color="#ffa800"/><stop offset="0.5102" stop-color="#ff9c00"/><stop offset="0.5306" stop-color="#ff8f00"/><stop offset="0.551" stop-color="#ff8200"/><stop offset="0.5714" stop-color="#ff7600"/><stop offset="0.5918" stop-color="#ff6b00"/><stop offset="0.6122" stop-color="#ff6100"/><stop offset="0.6327" stop-color="#ff5800"/><stop offset="0.6531" stop-color="#ff4f00"/><stop offset="0.6735" stop-color="#ff4700"/><stop offset="0.6939" stop-color="#ff4000"/><stop offset="0.7143" stop-color="#ff3800"/><stop offset="0.7347" stop-color="#ff2f00"/><stop offset="0.7551" stop-color="#ff2600"/><stop offset="0.7755" stop-color="#ff1d00"/><stop offset="0.7959" stop-color="#ff1400"/><stop offset="0.8163" stop-color="#ff0c00"/><stop offset="0.8367" stop-color="#ff0400"/><stop offset="0.8571" stop-color="#fb0000"/><stop offset="0.8776" stop-color="#f20000"/><stop offset="0.898" stop-color="#e80000"/><stop offset="0.9184" stop-color="#dd0000"/><stop offset="0.9388" stop-color="#d10000"/><stop offset="0.9592" stop-color="#c50000"/><stop offset="0.9796" stop-color="#b70000"/><stop offset="1" stop-color="#a90000"/></linearGradient>
<linearGradient id="g57"><stop offset="0" stop-color="#006dff"/><stop offset="0.02041" stop-color="#0083ff"/><stop offset="0.04082" stop-color="#009eff"/><stop offset="0.06122" stop-color="#00bfff"/><stop offset="0.08163" stop-color="#00dfff"/><stop offset="0.102" stop-color="#00ffff"/><stop offset="0.1224" stop-color="#20ffdf"/><stop offset="0.1429" stop-color="#42ffbd"/><stop offset="0.1633" stop-color="#5effa1"/><stop offset="0.1837" stop-color="#74ff8b"/><stop offset="0.2041" stop-color="#89ff76"/><stop offset="0.2245" stop-color="#9cff63"/><stop offset="0.2449" stop-color="#afff50"/><stop offset="0.2653" stop-color="#c4ff3b"/><stop offset="0.2857" stop-color="#d7ff28"/><stop offset="0.3061" stop-color="#e7ff18"/><stop offset="0.3265" stop-color="#f5ff0a"/><stop offset="0.3469" stop-color="#fffe00"/><stop offset="0.3673" stop-color="#fff300"/><stop offset="0.3878" stop-color="#ffe400"/><stop offset="0.4082" stop-color="#ffd600"/><stop offset="0.4286" stop-color="#ffca00"/><stop offset="0.449" stop-color="#ffbf00"/><stop offset="0.4694" stop-color="#ffb400"/><stop offset="0.4898" stop-color="#ffaa00"/><stop offset="0.5102" stop-color="#ff9e00"/><stop offset="0.5306" stop-color="#ff9100"/><stop offset="0.551" stop-color="#ff8300"/><stop offset="0.5714" stop-color="#ff7700"/><stop offset="0.5918" stop-color="#ff6d00"/><stop offset="0.6122" stop-color="#ff6300"/><stop offset="0.6327" stop-color="#ff5a00"/><stop offset="0.6531" stop-color="#ff5100"/><stop offset="0.6735" stop-color="#ff4900"/><stop offset="0.6939" stop-color="#ff4000"/><stop offset="0.7143" stop-color="#ff3800"/><stop offset="0.7347" stop-color="#ff3000"/><stop offset="0.7551" stop-color="#ff2700"/><stop offset="0.7755" stop-color="#ff1e00"/><stop offset="0.7959" stop-color="#ff1500"/><stop offset="0.8163" stop-color="#ff0e00"/><stop offset="0.8367" stop-color="#ff0600"/><stop offset="0.8571" stop-color="#fe0000"/><stop offset="0.8776" stop-color="#f50000"/><stop offset="0.898" stop-color="#eb0000"/><stop offset="0.9184" stop-color="#e00000"/><stop offset="0.9388" stop-color="#d50000"/><stop offset="0.9592" stop-color="#c90000"/><stop offset="0.9796" stop-color="#bc0000"/><stop offset="1" stop-color="#ae0000"/></linearGradient>
<linearGradient id="g58"><stop offset="0" stop-color="#006fff"/><stop offset="0.02041" stop-color="#0085ff"/><stop offset="0.04082" stop-color="#00a0ff"/><stop offset="0.06122" stop-color="#00c1ff"/><stop offset="0.08163" stop-color="#00e1ff"/><stop offset="0.102" stop-color="#02fffd"/><stop offset="0.1224" stop-color="#22ffdd"/><stop offset="0.1429" stop-color="#44ffbb"/><stop offset="0.1633" stop-color="#5fffa0"/><stop offset="0.1837" stop-color="#75ff8a"/><stop offset="0.2041" stop-color="#89ff76"/><stop offset="0.2245" stop-color="#9cff63"/><stop offset="0.2449" stop-color="#afff50"/><stop offset="0.2653" stop-color="#c3ff3c"/><stop offset="0.2857" stop-color="#d6ff29"/><stop offset="0.3061" stop-color="#e5ff1a"/><stop offset="0.3265" stop-color="#f3ff0c"/><stop offset="0.3469" stop-color="#feff01"/><stop offset="0.3673" stop-color="#fff400"/><stop offset="0.3878" stop-color="#ffe500"/><stop offset="0.4082" stop-color="#ffd800"/><stop offset="0.4286" stop-color="#ffcb00"/><stop offset="0.449" stop-color="#ffc000"/><stop offset="0.4694" stop-color="#ffb600"/><stop offset="0.4898" stop-color="#ffab00"/><stop offset="0.5102" stop-color="#ff9f00"/><stop offset="0.5306" stop-color="#ff9200"/><stop offset="0.551" stop-color="#ff8500"/><stop offset="0.5714" stop-color="#ff7900"/><stop offset="0.5918" stop-color="#ff6e00"/><stop offset="0.6122" stop-color="#ff6400"/><stop offset="0.6327" stop-color="#ff5b00"/><stop offset="0.6531" stop-color="#ff5200"/><stop offset="0.6735" stop-color="#ff4a00"/><stop offset="0.6939" stop-color="#ff4100"/><stop offset="0.7143" stop-color="#ff3900"/><stop offset="0.7347" stop-color="#ff3100"/><stop offset="0.7551" stop-color="#ff2800"/><stop offset="0.7755" stop-color="#ff1f00"/><stop offset="0.7959" stop-color="#ff1700"/><stop offset="0.8163" stop-color="#ff0f00"/><stop offset="0.8367" stop-color="#ff0800"/><stop offset="0.8571" stop-color="#ff0100"/><stop offset="0.8776" stop-color="#f70000"/><stop offset="0.898" stop-color="#ee0000"/><stop offset="0.9184" stop-color="#e40000"/><stop offset="0.9388" stop-color="#d90000"/><stop offset="0.9592" stop-color="#cd0000"/><stop offset="0.9796" stop-color="#c00000"/><stop offset="1" stop-color="#b20000"/></linearGradient>
<linearGradient id="g59"><stop offset="0" stop-color="#0070ff"/><stop offset="0.02041" stop-color="#0086ff"/><stop offset="0.04082" stop-color="#00a2ff"/><stop offset="0.06122" stop-color="#00c4ff"/><stop offset="0.08163" stop-color="#00e4ff"/><stop offset="0.102" stop-color="#04fffb"/><stop offset="0.1224" stop-color="#23ffdc"/><stop offset="0.1429" stop-color="#45ffba"/><stop offset="0.1633" stop-color="#61ff9e"/><stop offset="0.1837" stop-color="#76ff89"/><stop offset="0.2041" stop-color="#89ff76"/><stop offset="0.2245" stop-color="#9cff63"/><stop offset="0.2449" stop-color="#afff50"/><stop offset="0.2653" stop-color="#c2ff3d"/><stop offset="0.2857" stop-color="#d4ff2b"/><stop offset="0.3061" stop-color="#e4ff1b"/><stop offset="0.3265" stop-color="#f1ff0e"/><stop offset="0.3469" stop-color="#fcff03"/><stop offset="0.3673" stop-color="#fff600"/><stop offset="0.3878" stop-color="#ffe700"/><stop offset="0.4082" stop-color="#ffd900"/><stop offset="0.4286" stop-color="#ffcd00"/><stop offset="0.449" stop-color="#ffc200"/><stop offset="0.4694" stop-color="#ffb700"/><stop offset="0.4898" stop-color="#ffad00"/><stop offset="0.5102" stop-color="#ffa100"/><stop offset="0.5306" stop-color="#ff9400"/><stop offset="0.551" stop-color="#ff8600"/><stop offset="0.5714" stop-color="#ff7a00"/><stop offset="0.5918" stop-color="#ff6f00"/><stop offset="0.6122" stop-color="#ff6600"/><stop offset="0.6327" stop-color="#ff5c00"/><stop offset="0.6531" stop-color="#ff5300"/><stop offset="0.6735" stop-color="#ff4b00"/><stop offset="0.6939" stop-color="#ff4200"/><stop offset="0.7143" stop-color="#ff3a00"/><stop offset="0.7347" stop-color="#ff3200"/><stop offset="0.7551" stop-color="#ff2900"/><stop offset="0.7755" stop-color="#ff2000"/><stop offset="0.7959" stop-color="#ff1800"/><stop offset="0.8163" stop-color="#ff1100"/><stop offset="0.8367" stop-color="#ff0a00"/><stop offset="0.8571" stop-color="#ff0300"/><stop offset="0.8776" stop-color="#fa0000"/><stop offset="0.898" stop-color="#f10000"/><stop offset="0.9184" stop-color="#e70000"/><stop offset="0.9388" stop-color="#dc0000"/><stop offset="0.9592" stop-color="#d00000"/><stop offset="0.9796" stop-color="#c40000"/><stop offset="1" stop-color="#b70000"/></linearGradient>
<linearGradient id="g60"><stop offset="0" stop-color="#0071ff"/><stop offset="0.02041" stop-color="#0088ff"/><stop offset="0.04082" stop-color="#00a5ff"/><stop offset="0.06122" stop-color="#00c7ff"/><stop offset="0.08163" stop-color="#00e6ff"/><stop offset="0.102" stop-color="#06fff9"/><stop offset="0.1224" stop-color="#25ffda"/><stop offset="0.1429" stop-color="#46ffb9"/><stop offset="0.1633" stop-color="#62ff9d"/><stop offset="0.1837" stop-color="#76ff89"/><stop offset="0.2041" stop-color="#8aff75"/><stop offset="0.2245" stop-color="#9cff63"/><stop offset="0.2449" stop-color="#aeff51"/><stop offset="0.2653" stop-color="#c1ff3e"/><stop offset="0.2857" stop-color="#d3ff2c"/><stop offset="0.3061" stop-color="#e2ff1d"/><stop offset="0.3265" stop-color="#efff10"/><stop offset="0.3469" stop-color="#fbff04"/><stop offset="0.3673" stop-color="#fff700"/><stop offset="0.3878" stop-color="#ffe800"/><stop offset="0.4082" stop-color="#ffda00"/><stop offset="0.4286" stop-color="#ffce00"/><stop offset="0.449" stop-color="#ffc300"/><stop offset="0.4694" stop-color="#ffb900"/><stop offset="0.4898" stop-color="#ffae00"/><stop offset="0.5102" stop-color="#ffa200"/><stop offset="0.5306" stop-color="#ff9500"/><stop offset="0.551" stop-color="#ff8700"/><stop offset="0.5714" stop-color="#ff7b00"/><stop offset="0.5918" stop-color="#ff7100"/><stop offset="0.6122" stop-color="#ff6700"/><stop offset="0.6327" stop-color="#ff5d00"/><stop offset="0.6531" stop-color="#ff5400"/><stop offset="0.6735" stop-color="#ff4c00"/><stop offset="0.6939" stop-color="#ff4300"/><stop offset="0.7143" stop-color="#ff3b00"/><stop offset="0.7347" stop-color="#ff3300"/><stop offset="0.7551" stop-color="#ff2a00"/><stop offset="0.7755" stop-color="#ff2200"/><stop offset="0.7959" stop-color="#ff1a00"/><stop offset="0.8163" stop-color="#ff1300"/><stop offset="0.8367" stop-color="#ff0c00"/><stop offset="0.8571" stop-color="#ff0500"/><stop offset="0.8776" stop-color="#fc0000"/><stop offset="0.898" stop-color="#f30000"/><stop offset="0.9184" stop-color="#e90000"/><stop offset="0.9388" stop-color="#df0000"/><stop offset="0.9592" stop-color="#d40000"/><stop offset="0.9796" stop-color="#c80000"/><stop offset="1" stop-color="#bb0000"/></linearGradient>
<linearGradient id="g61"><stop offset="0" stop-color="#0073ff"/><stop offset="0.02041" stop-color="#008aff"/><stop offset="0.04082" stop-color="#00a8ff"/><stop offset="0.06122" stop-color="#00caff"/><stop offset="0.08163" stop-color="#00e9ff"/><stop offset="0.102" stop-color="#08fff7"/><stop offset="0.1224" stop-color="#27ffd8"/><stop offset="0.1429" stop-color="#48ffb7"/><stop offset="0.1633" stop-color="#62ff9d"/><stop offset="0.1837" stop-color="#77ff88"/><stop offset="0.2041" stop-color="#8aff75"/><stop offset="0.2245" stop-color="#9cff63"/><stop offset="0.2449" stop-color="#aeff51"/><stop offset="0.2653" stop-color="#c1ff3e"/><stop offset="0.2857" stop-color="#d2ff2d"/><stop offset="0.3061" stop-color="#e1ff1e"/><stop offset="0.3265" stop-color="#eeff11"/><stop offset="0.3469" stop-color="#faff05"/><stop offset="0.3673" stop-color="#fff800"/><stop offset="0.3878" stop-color="#ffe900"/><stop offset="0.4082" stop-color="#ffdb00"/><stop offset="0.4286" stop-color="#ffcf00"/><stop offset="0.449" stop-color="#ffc400"/><stop offset="0.4694" stop-color="#ffba00"/><stop offset="0.4898" stop-color="#ffaf00"/><stop offset="0.5102" stop-color="#ffa300"/><stop offset="0.5306" stop-color="#ff9600"/><stop offset="0.551" stop-color="#ff8800"/><stop offset="0.5714" stop-color="#ff7c00"/><stop offset="0.5918" stop-color="#ff7100"/><stop offset="0.6122" stop-color="#ff6800"/><stop offset="0.6327" stop-color="#ff5e00"/><stop offset="0.6531" stop-color="#ff5500"/><stop offset="0.6735" stop-color="#ff4d00"/><stop offset="0.6939" stop-color="#ff4400"/><stop offset="0.7143" stop-color="#ff3c00"/><stop offset="0.7347" stop-color="#ff3400"/><stop offset="0.7551" stop-color="#ff2c00"/><stop offset="0.7755" stop-color="#ff2400"/><stop offset="0.7959" stop-color="#ff1c00"/><stop offset="0.8163" stop-color="#ff1500"/><stop offset="0.8367" stop-color="#ff0e00"/><stop offset="0.8571" stop-color="#ff0700"/><stop offset="0.8776" stop-color="#fe0000"/><stop offset="0.898" stop-color="#f50000"/><stop offset="0.9184" stop-color="#ec0000"/><stop offset="0.9388" stop-color="#e20000"/><stop offset="0.9592" stop-color="#d70000"/><stop offset="0.9796" stop-color="#cc0000"/><stop offset="1" stop-color="#bf0000"/></linearGradient>
<linearGradient id="g62"><stop offset="0" stop-color="#0074ff"/><stop offset="0.02041" stop-color="#008dff"/><stop offset="0.04082" stop-color="#00aaff"/><stop offset="0.06122" stop-color="#00cdff"/><stop offset="0.08163" stop-color="#00ecff"/><stop offset="0.102" stop-color="#0afff5"/><stop offset="0.1224" stop-color="#29ffd6"/><stop offset="0.1429" stop-color="#49ffb6"/><stop offset="0.1633" stop-color="#63ff9c"/><stop offset="0.1837" stop-color="#78ff87"/><stop offset="0.2041" stop-color="#8bff74"/><stop offset="0.2245" stop-color="#9dff62"/><stop offset="0.2449" stop-color="#aeff51"/><stop offset="0.2653" stop-color="#c0ff3f"/><stop offset="0.2857" stop-color="#d2ff2d"/><stop offset="0.3061" stop-color="#e0ff1f"/><stop offset="0.3265" stop-color="#ecff13"/><stop offset="0.3469" stop-color="#f9ff06"/><stop offset="0.3673" stop-color="#fff800"/><stop offset="0.3878" stop-color="#ffea00"/><stop offset="0.4082" stop-color="#ffdc00"/><stop offset="0.4286" stop-color="#ffd000"/><stop offset="0.449" stop-color="#ffc500"/><stop offset="0.4694" stop-color="#ffba00"/><stop offset="0.4898" stop-color="#ffb000"/><stop offset="0.5102" stop-color="#ffa400"/><stop offset="0.5306" stop-color="#ff9700"/><stop offset="0.551" stop-color="#ff8900"/><stop offset="0.5714" stop-color="#ff7d00"/><stop offset="0.5918" stop-color="#ff7200"/><stop offset="0.6122" stop-color="#ff6800"/><stop offset="0.6327" stop-color="#ff5f00"/><stop offset="0.6531" stop-color="#ff5600"/><stop offset="0.6735" stop-color="#ff4e00"/><stop offset="0.6939" stop-color="#ff4600"/><stop offset="0.7143" stop-color="#ff3e00"/><stop offset="0.7347" stop-color="#ff3500"/><stop offset="0.7551" stop-color="#ff2d00"/><stop offset="0.7755" stop-color="#ff2500"/><stop offset="0.7959" stop-color="#ff1e00"/><stop offset="0.8163" stop-color="#ff1700"/><stop offset="0.8367" stop-color="#ff1000"/><stop offset="0.8571" stop-color="#ff0900"/><stop offset="0.8776" stop-color="#ff0100"/><stop offset="0.898" stop-color="#f80000"/><stop offset="0.9184" stop-color="#ef0000"/><stop offset="0.9388" stop-color="#e50000"/><stop offset="0.9592" stop-color="#da0000"/><stop offset="0.9796" stop-color="#cf0000"/><stop offset="1" stop-color="#c40000"/></linearGradient>
<linearGradient id="g63"><stop offset="0" stop-color="#0075ff"/><stop offset="0.02041" stop-color="#008fff"/><stop offset="0.04082" stop-color="#00adff"/><stop offset="0.06122" stop-color="#00d1ff"/><stop offset="0.08163" stop-color="#00efff"/><stop offset="0.102" stop-color="#0dfff2"/><stop offset="0.1224" stop-color="#2bffd4"/><stop offset="0.1429" stop-color="#4affb5"/><stop offset="0.1633" stop-color="#64ff9b"/><stop offset="0.1837" stop-color="#78ff87"/><stop offset="0.2041" stop-color="#8bff74"/><stop offset="0.2245" stop-color="#9dff62"/><stop offset="0.2449" stop-color="#aeff51"/><stop offset="0.2653" stop-color="#c0ff3f"/><stop offset="0.2857" stop-color="#d1ff2e"/><stop offset="0.3061" stop-color="#dfff20"/><stop offset="0.3265" stop-color="#ebff14"/><stop offset="0.3469" stop-color="#f8ff07"/><stop offset="0.3673" stop-color="#fff900"/><stop offset="0.3878" stop-color="#ffea00"/><stop offset="0.4082" stop-color="#ffdd00"/><stop offset="0.4286" stop-color="#ffd100"/><stop offset="0.449" stop-color="#ffc600"/><stop offset="0.4694" stop-color="#ffbb00"/><stop offset="0.4898" stop-color="#ffb100"/><stop offset="0.5102" stop-color="#ffa500"/><stop offset="0.5306" stop-color="#ff9700"/><stop offset="0.551" stop-color="#ff8a00"/><stop offset="0.5714" stop-color="#ff7e00"/><stop offset="0.5918" stop-color="#ff7300"/><stop offset="0.6122" stop-color="#ff6900"/><stop offset="0.6327" stop-color="#ff6000"/><stop offset="0.6531" stop-color="#ff5700"/><stop offset="0.6735" stop-color="#ff4f00"/><stop offset="0.6939" stop-color="#ff4700"/><stop offset="0.7143" stop-color="#ff3f00"/><stop offset="0.7347" stop-color="#ff3700"/><stop offset="0.7551" stop-color="#ff2f00"/><stop offset="0.7755" stop-color="#ff2700"/><stop offset="0.7959" stop-color="#ff2000"/><stop offset="0.8163" stop-color="#ff1900"/><stop offset="0.8367" stop-color="#ff1200"/><stop offset="0.8571" stop-color="#ff0b00"/><stop offset="0.8776" stop-color="#ff0300"/><stop offset="0.898" stop-color="#fa0000"/><stop offset="0.9184" stop-color="#f10000"/><stop offset="0.9388" stop-color="#e80000"/><stop offset="0.9592" stop-color="#de0000"/><stop offset="0.9796" stop-color="#d30000"/><stop offset="1" stop-color="#c80000"/></linearGradient>
<linearGradient id="g64"><stop offset="0" stop-color="#0077ff"/><stop offset="0.02041" stop-color="#0091ff"/><stop offset="0.04082" stop-color="#00b0ff"/><stop offset="0.06122" stop-color="#00d4ff"/><stop offset="0.08163" stop-color="#00f2ff"/><stop offset="0.102" stop-color="#10ffef"/><stop offset="0.1224" stop-color="#2dffd2"/><stop offset="0.1429" stop-color="#4bffb4"/><stop offset="0.1633" stop-color="#64ff9b"/><stop offset="0.1837" stop-color="#79ff86"/><stop offset="0.2041" stop-color="#8cff73"/><stop offset="0.2245" stop-color="#9dff62"/><stop offset="0.2449" stop-color="#aeff51"/><stop offset="0.2653" stop-color="#c0ff3f"/><stop offset="0.2857" stop-color="#d1ff2e"/><stop offset="0.3061" stop-color="#deff21"/><stop offset="0.3265" stop-color="#eaff15"/><stop offset="0.3469" stop-color="#f7ff08"/><stop offset="0.3673" stop-color="#fff900"/><stop offset="0.3878" stop-color="#ffeb00"/><stop offset="0.4082" stop-color="#ffde00"/><stop offset="0.4286" stop-color="#ffd200"/><stop offset="0.449" stop-color="#ffc600"/><stop offset="0.4694" stop-color="#ffbc00"/><stop offset="0.4898" stop-color="#ffb100"/><stop offset="0.5102" stop-color="#ffa500"/><stop offset="0.5306" stop-color="#ff9800"/><stop offset="0.551" stop-color="#ff8a00"/><stop offset="0.5714" stop-color="#ff7e00"/><stop offset="0.5918" stop-color="#ff7300"/><stop offset="0.6122" stop-color="#ff6a00"/><stop offset="0.6327" stop-color="#ff6000"/><stop offset="0.6531" stop-color="#ff5800"/><stop offset="0.6735" stop-color="#ff4f00"/><stop offset="0.6939" stop-color="#ff4800"/><stop offset="0.7143" stop-color="#ff4000"/><stop offset="0.7347" stop-color="#ff3900"/><stop offset="0.7551" stop-color="#ff3100"/><stop offset="0.7755" stop-color="#ff2900"/><stop offset="0.7959" stop-color="#ff2200"/><stop offset="0.8163" stop-color="#ff1b00"/><stop offset="0.8367" stop-color="#ff1400"/><stop offset="0.8571" stop-color="#ff0c00"/><stop offset="0.8776" stop-color="#ff0500"/><stop offset="0.898" stop-color="#fc0000"/><stop offset="0.9184" stop-color="#f30000"/><stop offset="0.9388" stop-color="#ea0000"/><stop offset="0.9592" stop-color="#e00000"/><stop offset="0.9796" stop-color="#d60000"/><stop offset="1" stop-color="#cc0000"/></linearGradient>
<linearGradient id="g65"><stop offset="0" stop-color="#0078ff"/><stop offset="0.02041" stop-color="#0093ff"/><stop offset="0.04082" stop-color="#00b3ff"/><stop offset="0.06122" stop-color="#00d8ff"/><stop offset="0.08163" stop-color="#00f6ff"/><stop offset="0.102" stop-color="#12ffed"/><stop offset="0.1224" stop-color="#2fffd0"/><stop offset="0.1429" stop-color="#4cffb3"/><stop offset="0.1633" stop-color="#65ff9a"/><stop offset="0.1837" stop-color="#7aff85"/><stop offset="0.2041" stop-color="#8dff72"/><stop offset="0.2245" stop-color="#9eff61"/><stop offset="0.2449" stop-color="#aeff51"/><stop offset="0.2653" stop-color="#c0ff3f"/><stop offset="0.2857" stop-color="#d0ff2f"/><stop offset="0.3061" stop-color="#ddff22"/><stop offset="0.3265" stop-color="#e9ff16"/><stop offset="0.3469" stop-color="#f6ff09"/><stop offset="0.3673" stop-color="#fffa00"/><stop offset="0.3878" stop-color="#ffeb00"/><stop offset="0.4082" stop-color="#ffde00"/><stop offset="0.4286" stop-color="#ffd200"/><stop offset="0.449" stop-color="#ffc700"/><stop offset="0.4694" stop-color="#ffbc00"/><stop offset="0.4898" stop-color="#ffb200"/><stop offset="0.5102" stop-color="#ffa600"/><stop offset="0.5306" stop-color="#ff9800"/><stop offset="0.551" stop-color="#ff8b00"/><stop offset="0.5714" stop-color="#ff7f00"/><stop offset="0.5918" stop-color="#ff7400"/><stop offset="0.6122" stop-color="#ff6a00"/><stop offset="0.6327" stop-color="#ff6100"/><stop offset="0.6531" stop-color="#ff5800"/><stop offset="0.6735" stop-color="#ff5000"/><stop offset="0.6939" stop-color="#ff4900"/><stop offset="0.7143" stop-color="#ff4200"/><stop offset="0.7347" stop-color="#ff3a00"/><stop offset="0.7551" stop-color="#ff3300"/><stop offset="0.7755" stop-color="#ff2c00"/><stop offset="0.7959" stop-color="#ff2400"/><stop offset="0.8163" stop-color="#ff1d00"/><stop offset="0.8367" stop-color="#ff1600"/><stop offset="0.8571" stop-color="#ff0e00"/><stop offset="0.8776" stop-color="#ff0600"/><stop offset="0.898" stop-color="#fd0000"/><stop offset="0.9184" stop-color="#f50000"/><stop offset="0.9388" stop-color="#ed0000"/><stop offset="0.9592" stop-color="#e30000"/><stop offset="0.9796" stop-color="#da0000"/><stop offset="1" stop-color="#d00000"/></linearGradient>
<linearGradient id="g66"><stop offset="0" stop-color="#0079ff"/><stop offset="0.02041" stop-color="#0095ff"/><stop offset="0.04082" stop-color="#00b6ff"/><stop offset="0.06122" stop-color="#00dbff"/><stop offset="0.08163" stop-color="#00f9ff"/><stop offset="0.102" stop-color="#15ffea"/><stop offset="0.1224" stop-color="#32ffcd"/><stop offset="0.1429" stop-color="#4dffb2"/><stop offset="0.1633" stop-color="#65ff9a"/><stop offset="0.1837" stop-color="#7aff85"/><stop offset="0.2041" stop-color="#8dff72"/><stop offset="0.2245" stop-color="#9eff61"/><stop offset="0.2449" stop-color="#aeff51"/><stop offset="0.2653" stop-color="#c0ff3f"/><stop offset="0.2857" stop-color="#d0ff2f"/><stop offset="0.3061" stop-color="#dcff23"/><stop offset="0.3265" stop-color="#e8ff17"/><stop offset="0.3469" stop-color="#f5ff0a"/><stop offset="0.3673" stop-color="#fffa00"/><stop offset="0.3878" stop-color="#ffec00"/><stop offset="0.4082" stop-color="#ffdf00"/><stop offset="0.4286" stop-color="#ffd300"/><stop offset="0.449" stop-color="#ffc700"/><stop offset="0.4694" stop-color="#ffbd00"/><stop offset="0.4898" stop-color="#ffb200"/><stop offset="0.5102" stop-color="#ffa600"/><stop offset="0.5306" stop-color="#ff9900"/><stop offset="0.551" stop-color="#ff8b00"/><stop offset="0.5714" stop-color="#ff7f00"/><stop offset="0.5918" stop-color="#ff7400"/><stop offset="0.6122" stop-color="#ff6a00"/><stop offset="0.6327" stop-color="#ff6100"/><stop offset="0.6531" stop-color="#ff5900"/><stop offset="0.6735" stop-color="#ff5100"/><stop offset="0.6939" stop-color="#ff4a00"/><stop offset="0.7143" stop-color="#ff4300"/><stop offset="0.7347" stop-color="#ff3c00"/><stop offset="0.7551" stop-color="#ff3500"/><stop offset="0.7755" stop-color="#ff2e00"/><stop offset="0.7959" stop-color="#ff2600"/><stop offset="0.8163" stop-color="#ff1f00"/><stop offset="0.8367" stop-color="#ff1700"/><stop offset="0.8571" stop-color="#ff1000"/><stop offset="0.8776" stop-color="#ff0800"/><stop offset="0.898" stop-color="#ff0000"/><stop offset="0.9184" stop-color="#f70000"/><stop offset="0.9388" stop-color="#ef0000"/><stop offset="0.9592" stop-color="#e60000"/><stop offset="0.9796" stop-color="#dd0000"/><stop offset="1" stop-color="#d40000"/></linearGradient>
<linearGradient id="g67"><stop offset="0" stop-color="#007aff"/><stop offset="0.02041" stop-color="#0097ff"/><stop offset="0.04082" stop-color="#00b8ff"/><stop offset="0.06122" stop-color="#00deff"/><stop offset="0.08163" stop-color="#00fbff"/><stop offset="0.102" stop-color="#17ffe8"/><stop offset="0.1224" stop-color="#33ffcc"/><stop offset="0.1429" stop-color="#4dffb2"/><stop offset="0.1633" stop-color="#65ff9a"/><stop offset="0.1837" stop-color="#7bff84"/><stop offset="0.2041" stop-color="#8eff71"/><stop offset="0.2245" stop-color="#9eff61"/><stop offset="0.2449" stop-color="#aeff51"/><stop offset="0.2653" stop-color="#c0ff3f"/><stop offset="0.2857" stop-color="#cfff30"/><stop offset="0.3061" stop-color="#dbff24"/><stop offset="0.3265" stop-color="#e7ff18"/><stop offset="0.3469" stop-color="#f5ff0a"/><stop offset="0.3673" stop-color="#fffa00"/><stop offset="0.3878" stop-color="#ffec00"/><stop offset="0.4082" stop-color="#ffdf00"/><stop offset="0.4286" stop-color="#ffd300"/><stop offset="0.449" stop-color="#ffc800"/><stop offset="0.4694" stop-color="#ffbd00"/><stop offset="0.4898" stop-color="#ffb200"/><stop offset="0.5102" stop-color="#ffa600"/><stop offset="0.5306" stop-color="#ff9900"/><stop offset="0.551" stop-color="#ff8b00"/><stop offset="0.5714" stop-color="#ff7f00"/><stop offset="0.5918" stop-color="#ff7500"/><stop offset="0.6122" stop-color="#ff6b00"/><stop offset="0.6327" stop-color="#ff6100"/><stop offset="0.6531" stop-color="#ff5900"/><stop offset="0.6735" stop-color="#ff5200"/><stop offset="0.6939" stop-color="#ff4b00"/><stop offset="0.7143" stop-color="#ff4400"/><stop offset="0.7347" stop-color="#ff3d00"/><stop offset="0.7551" stop-color="#ff3600"/><stop offset="0.7755" stop-color="#ff2f00"/><stop offset="0.7959" stop-color="#ff2800"/><stop offset="0.8163" stop-color="#ff2000"/><stop offset="0.8367" stop-color="#ff1900"/><stop offset="0.8571" stop-color="#ff1100"/><stop offset="0.8776" stop-color="#ff0900"/><stop offset="0.898" stop-color="#ff0100"/><stop offset="0.9184" stop-color="#f90000"/><stop offset="0.9388" stop-color="#f10000"/><stop offset="0.9592" stop-color="#e80000"/><stop offset="0.9796" stop-color="#df0000"/><stop offset="1" stop-color="#d60000"/></linearGradient>
<clipPath id="hc"><rect x="381.7" y="5.4" width="247.4" height="202.2"/></clipPath>
<linearGradient id="cb" x1="0" y1="1" x2="0" y2="0"><stop offset="0" stop-color="#000080"/><stop offset="0.125" stop-color="#0000ff"/><stop offset="0.375" stop-color="#00ffff"/><stop offset="0.625" stop-color="#ffff00"/><stop offset="0.875" stop-color="#ff0000"/><stop offset="1" stop-color="#800000"/></linearGradient>
</defs>
<g fill="none" clip-path="url(#cl)" stroke-width="2.40" stroke-linejoin="round">
<path d="M40.0,41.5 L42.0,45.9 L44.0,50.2 L46.0,54.5 L48.0,58.7 L50.0,62.9 L52.0,67.1 L54.0,71.3 L56.0,75.4 L58.0,79.4 L60.0,83.4 L62.0,87.4 L64.0,91.4 L66.0,95.2 L68.0,99.0 L70.0,102.7 L72.0,106.5 L74.0,110.1 L76.0,113.7 L78.0,117.1 L80.0,120.1 L82.0,122.9 L84.0,125.4 L86.0,127.8 L88.0,129.9 L90.0,131.9 L92.0,133.7 L94.0,135.5 L96.0,137.2 L98.0,138.8 L100.0,140.3 L102.0,141.8 L104.0,143.1 L106.0,144.5 L108.0,145.7 L110.0,147.0 L112.0,148.1 L114.0,149.2 L116.0,150.1 L118.0,151.0 L120.0,151.7 L122.0,152.3 L124.0,152.9 L126.0,153.5 L128.0,154.0 L130.0,154.5 L132.0,155.0 L134.0,155.5 L136.0,156.0 L138.0,156.7 L140.0,157.3 L142.0,157.9 L144.0,158.6 L146.0,159.3 L148.0,160.0 L150.0,160.7 L152.0,161.4 L154.0,162.1 L156.0,162.9 L158.0,163.7 L160.0,164.5 L162.0,165.3 L164.0,166.2 L166.0,167.0 L168.0,167.8 L170.0,168.6 L172.0,169.3 L174.0,170.0 L176.0,170.6 L178.0,171.2 L180.0,171.7 L182.0,172.3 L184.0,172.8 L186.0,173.4 L188.0,173.9 L190.0,174.5 L192.0,175.0 L194.0,175.5 L196.0,176.0 L198.0,176.5 L200.0,177.1 L202.0,177.6 L204.0,178.2 L206.0,178.8 L208.0,179.5 L210.0,180.2 L212.0,180.8 L214.0,181.6 L216.0,182.3 L218.0,183.1 L220.0,183.9 L222.0,184.8 L224.0,185.7 L226.0,186.7 L228.0,187.7 L230.0,188.8 L232.0,189.8 L234.0,190.8 L236.0,191.9 L238.0,192.9 L240.0,193.9 L242.0,195.0 L244.0,195.9 L246.0,196.8 L248.0,197.7 L250.0,198.6 L252.0,199.4 L254.0,200.2 L256.0,201.0 L258.0,201.8 L260.0,202.6 L262.0,203.3 L264.0,204.0 L266.0,204.5 L268.0,204.9 L270.0,205.3 L272.0,205.7 L274.0,206.0 L276.0,206.3 L278.0,206.6 L280.0,206.9 L282.0,207.2 L284.0,207.5 L286.0,207.8 L288.0,208.0 L290.0,208.3 L292.0,208.6 L294.0,208.8 L296.0,209.1 L298.0,209.4 L300.0,209.7 L302.0,209.9 L304.0,210.2 L306.0,210.5 L308.0,210.7 L310.0,211.0 L312.0,211.2 L314.0,211.5 L316.0,211.8 L318.0,212.0 L320.0,212.3 L322.0,212.5 L324.0,212.8 L326.0,213.0" stroke="#7f7f66"/>
<path d="M40.0,27.5 L42.0,32.2 L44.0,37.0 L46.0,41.6 L48.0,46.4 L50.0,51.2 L52.0,56.1 L54.0,60.9 L56.0,65.6 L58.0,70.2 L60.0,74.6 L62.0,78.8 L64.0,82.7 L66.0,86.3 L68.0,89.7 L70.0,93.0 L72.0,96.4 L74.0,99.9 L76.0,103.8 L78.0,108.1 L80.0,112.4 L82.0,116.5 L84.0,119.9 L86.0,122.5 L88.0,124.7 L90.0,126.7 L92.0,128.4 L94.0,130.0 L96.0,131.4 L98.0,132.7 L100.0,133.8 L102.0,134.9 L104.0,136.0 L106.0,137.1 L108.0,138.2 L110.0,139.4 L112.0,140.5 L114.0,141.7 L116.0,142.9 L118.0,144.0 L120.0,145.2 L122.0,146.4 L124.0,147.6 L126.0,148.8 L128.0,149.9 L130.0,150.9 L132.0,151.9 L134.0,152.7 L136.0,153.6 L138.0,154.4 L140.0,155.2 L142.0,156.1 L144.0,156.9 L146.0,157.7 L148.0,158.5 L150.0,159.3 L152.0,160.1 L154.0,161.0 L156.0,161.8 L158.0,162.8 L160.0,163.7 L162.0,164.7 L164.0,165.6 L166.0,166.6 L168.0,167.6 L170.0,168.6 L172.0,169.5 L174.0,170.5 L176.0,171.5 L178.0,172.5 L180.0,173.5 L182.0,174.4 L184.0,175.4 L186.0,176.2 L188.0,177.0 L190.0,177.7 L192.0,178.4 L194.0,179.0 L196.0,179.6 L198.0,180.2 L200.0,180.7 L202.0,181.3 L204.0,181.8 L206.0,182.2 L208.0,182.7 L210.0,183.2 L212.0,183.6 L214.0,184.0 L216.0,184.4 L218.0,184.8 L220.0,185.1 L222.0,185.4 L224.0,185.7 L226.0,185.9 L228.0,186.1 L230.0,186.3 L232.0,186.5 L234.0,186.7 L236.0,186.9 L238.0,187.1 L240.0,187.3 L242.0,187.5 L244.0,187.7 L246.0,188.0 L248.0,188.2 L250.0,188.4 L252.0,188.7 L254.0,188.9 L256.0,189.2 L258.0,189.5 L260.0,189.7 L262.0,190.0 L264.0,190.3 L266.0,190.7 L268.0,191.0 L270.0,191.3 L272.0,191.7 L274.0,192.0 L276.0,192.4 L278.0,192.7 L280.0,193.1 L282.0,193.6 L284.0,194.0 L286.0,194.4 L288.0,194.8 L290.0,195.2 L292.0,195.6 L294.0,196.0 L296.0,196.4 L298.0,196.7 L300.0,197.1 L302.0,197.5 L304.0,197.9 L306.0,198.2 L308.0,198.6 L310.0,199.0 L312.0,199.3 L314.0,199.7 L316.0,200.1 L318.0,200.4 L320.0,200.8 L322.0,201.1 L324.0,201.5 L326.0,201.8" stroke="#ff4500"/>
<path d="M40.0,25.0 L42.0,30.2 L44.0,35.3 L46.0,40.3 L48.0,45.0 L50.0,49.6 L52.0,54.2 L54.0,58.6 L56.0,63.2 L58.0,67.8 L60.0,72.4 L62.0,76.7 L64.0,80.8 L66.0,84.5 L68.0,88.0 L70.0,91.4 L72.0,94.8 L74.0,98.2 L76.0,101.8 L78.0,105.8 L80.0,110.0 L82.0,114.0 L84.0,117.7 L86.0,120.7 L88.0,123.1 L90.0,125.1 L92.0,126.9 L94.0,128.6 L96.0,130.4 L98.0,132.2 L100.0,133.9 L102.0,135.6 L104.0,137.3 L106.0,138.9 L108.0,140.5 L110.0,142.1 L112.0,143.6 L114.0,145.1 L116.0,146.5 L118.0,147.9 L120.0,149.2 L122.0,150.4 L124.0,151.6 L126.0,152.7 L128.0,153.7 L130.0,154.7 L132.0,155.7 L134.0,156.7 L136.0,157.7 L138.0,158.6 L140.0,159.6 L142.0,160.5 L144.0,161.4 L146.0,162.3 L148.0,163.2 L150.0,164.1 L152.0,165.0 L154.0,165.9 L156.0,166.7 L158.0,167.6 L160.0,168.5 L162.0,169.4 L164.0,170.3 L166.0,171.1 L168.0,172.0 L170.0,173.0 L172.0,173.9 L174.0,174.9 L176.0,176.0 L178.0,177.1 L180.0,178.2 L182.0,179.3 L184.0,180.4 L186.0,181.3 L188.0,182.2 L190.0,183.0 L192.0,183.8 L194.0,184.5 L196.0,185.2 L198.0,185.8 L200.0,186.5 L202.0,187.1 L204.0,187.8 L206.0,188.4 L208.0,189.0 L210.0,189.7 L212.0,190.3 L214.0,190.9 L216.0,191.4 L218.0,192.0 L220.0,192.6 L222.0,193.2 L224.0,193.8 L226.0,194.4 L228.0,195.1 L230.0,195.7 L232.0,196.3 L234.0,197.0 L236.0,197.6 L238.0,198.1 L240.0,198.7 L242.0,199.2 L244.0,199.8 L246.0,200.3 L248.0,200.9 L250.0,201.4 L252.0,201.9 L254.0,202.3 L256.0,202.7 L258.0,203.1 L260.0,203.4 L262.0,203.7 L264.0,204.0 L266.0,204.3 L268.0,204.5 L270.0,204.8 L272.0,205.0 L274.0,205.2 L276.0,205.4 L278.0,205.5 L280.0,205.7 L282.0,205.8 L284.0,205.9 L286.0,206.0 L288.0,206.2 L290.0,206.3 L292.0,206.5 L294.0,206.6 L296.0,206.8 L298.0,207.0 L300.0,207.2 L302.0,207.5 L304.0,207.7 L306.0,208.0 L308.0,208.4 L310.0,208.8 L312.0,209.2 L314.0,209.6 L316.0,210.1 L318.0,210.6 L320.0,211.2 L322.0,211.8 L324.0,212.4 L326.0,213.0" stroke="#00ffff"/>
<path d="M40.0,5.5 L42.0,10.8 L44.0,16.5 L46.0,22.5 L48.0,29.1 L50.0,35.9 L52.0,42.3 L54.0,48.3 L56.0,54.2 L58.0,59.9 L60.0,65.5 L62.0,71.0 L64.0,76.3 L66.0,81.5 L68.0,86.6 L70.0,91.6 L72.0,96.4 L74.0,101.0 L76.0,105.5 L78.0,110.1 L80.0,114.4 L82.0,118.3 L84.0,121.6 L86.0,124.5 L88.0,127.0 L90.0,129.3 L92.0,131.3 L94.0,133.1 L96.0,134.8 L98.0,136.4 L100.0,137.9 L102.0,139.3 L104.0,140.5 L106.0,141.5 L108.0,142.4 L110.0,143.2 L112.0,144.0 L114.0,144.7 L116.0,145.3 L118.0,146.0 L120.0,146.6 L122.0,147.2 L124.0,147.8 L126.0,148.3 L128.0,148.9 L130.0,149.4 L132.0,149.9 L134.0,150.5 L136.0,151.1 L138.0,151.7 L140.0,152.4 L142.0,153.0 L144.0,153.6 L146.0,154.3 L148.0,155.0 L150.0,155.8 L152.0,156.6 L154.0,157.5 L156.0,158.5 L158.0,159.6 L160.0,160.8 L162.0,162.0 L164.0,163.2 L166.0,164.5 L168.0,165.9 L170.0,167.3 L172.0,168.9 L174.0,170.5 L176.0,172.2 L178.0,173.9 L180.0,175.7 L182.0,177.6 L184.0,179.4 L186.0,181.0 L188.0,182.7 L190.0,184.3 L192.0,185.9 L194.0,187.2 L196.0,188.3 L198.0,189.3 L200.0,190.2 L202.0,191.0 L204.0,191.7 L206.0,192.2 L208.0,192.6 L210.0,192.9 L212.0,193.2 L214.0,193.4 L216.0,193.6 L218.0,193.7 L220.0,193.9 L222.0,194.0 L224.0,194.1 L226.0,194.3 L228.0,194.4 L230.0,194.6 L232.0,194.8 L234.0,194.9 L236.0,195.0 L238.0,195.2 L240.0,195.3 L242.0,195.5 L244.0,195.6 L246.0,195.8 L248.0,195.9 L250.0,196.1 L252.0,196.3 L254.0,196.4 L256.0,196.6 L258.0,196.8 L260.0,197.0 L262.0,197.2 L264.0,197.4 L266.0,197.6 L268.0,197.8 L270.0,198.0 L272.0,198.3 L274.0,198.5 L276.0,198.8 L278.0,199.1 L280.0,199.4 L282.0,199.6 L284.0,199.9 L286.0,200.2 L288.0,200.5 L290.0,200.8 L292.0,201.1 L294.0,201.4 L296.0,201.6 L298.0,201.9 L300.0,202.2 L302.0,202.5 L304.0,202.8 L306.0,203.1 L308.0,203.4 L310.0,203.6 L312.0,203.9 L314.0,204.2 L316.0,204.5 L318.0,204.8 L320.0,205.1 L322.0,205.4 L324.0,205.7 L326.0,206.0" stroke="#000000"/>
</g>
<rect x="40.1" y="5.6" width="285.7" height="201.6" fill="none" stroke="#6e6e6e" stroke-width="1.1"/>
<path d="M40.1,207.2v-2.8M97.2,207.2v-2.8M154.4,207.2v-2.8M211.5,207.2v-2.8M268.7,207.2v-2.8M325.8,207.2v-2.8M40.1,5.6h2.8M40.1,56.0h2.8M40.1,106.4h2.8M40.1,156.8h2.8M40.1,207.2h2.8" stroke="#6e6e6e" stroke-width="1" fill="none"/>
<text x="40.1" y="225.6" font-size="14.3" text-anchor="middle">20</text>
<text x="97.2" y="225.6" font-size="14.3" text-anchor="middle">76</text>
<text x="154.4" y="225.6" font-size="14.3" text-anchor="middle">132</text>
<text x="211.5" y="225.6" font-size="14.3" text-anchor="middle">188</text>
<text x="268.7" y="225.6" font-size="14.3" text-anchor="middle">244</text>
<text x="325.8" y="225.6" font-size="14.3" text-anchor="middle">300</text>
<text x="34.6" y="10.6" font-size="14.3" text-anchor="end">0.8</text>
<text x="34.6" y="61.0" font-size="14.3" text-anchor="end">0.7</text>
<text x="34.6" y="111.4" font-size="14.3" text-anchor="end">0.6</text>
<text x="34.6" y="161.8" font-size="14.3" text-anchor="end">0.5</text>
<text x="34.6" y="212.2" font-size="14.3" text-anchor="end">0.4</text>
<text x="183" y="242.4" font-size="14.4" text-anchor="middle">Frequency(Hz)</text>
<text transform="translate(11.3,106.5) rotate(-90)" font-size="14.4" text-anchor="middle">Eloss(J)</text>
<text x="70.6" y="23.8" font-size="14" textLength="17.2" lengthAdjust="spacingAndGlyphs">(a)</text>
<rect x="229" y="13.4" width="88.7" height="67.8" fill="#fff" stroke="#6e6e6e" stroke-width="1"/>
<path d="M231.2,23.6H249.3" stroke="#7f7f66" stroke-width="2.40"/>
<text x="251.6" y="28.1" font-size="14.2">2mm-2mm</text>
<path d="M231.2,39.9H249.3" stroke="#ff4500" stroke-width="2.40"/>
<text x="251.6" y="44.4" font-size="14.2">2mm-3mm</text>
<path d="M231.2,56.2H249.3" stroke="#00ffff" stroke-width="2.40"/>
<text x="251.6" y="60.7" font-size="14.2">2mm-4mm</text>
<path d="M231.2,72.5H249.3" stroke="#000000" stroke-width="2.40"/>
<text x="251.6" y="77.0" font-size="14.2">2mm-5mm</text>
<g clip-path="url(#hc)" shape-rendering="crispEdges">
<rect x="381.7" y="5" width="247.4" height="4" fill="url(#g0)"/>
<rect x="381.7" y="8" width="247.4" height="4" fill="url(#g1)"/>
<rect x="381.7" y="11" width="247.4" height="4" fill="url(#g2)"/>
<rect x="381.7" y="14" width="247.4" height="4" fill="url(#g3)"/>
<rect x="381.7" y="17" width="247.4" height="4" fill="url(#g4)"/>
<rect x="381.7" y="20" width="247.4" height="4" fill="url(#g5)"/>
<rect x="381.7" y="23" width="247.4" height="4" fill="url(#g6)"/>
<rect x="381.7" y="26" width="247.4" height="4" fill="url(#g7)"/>
<rect x="381.7" y="29" width="247.4" height="4" fill="url(#g8)"/>
<rect x="381.7" y="32" width="247.4" height="4" fill="url(#g9)"/>
<rect x="381.7" y="35" width="247.4" height="4" fill="url(#g10)"/>
<rect x="381.7" y="38" width="247.4" height="4" fill="url(#g11)"/>
<rect x="381.7" y="41" width="247.4" height="4" fill="url(#g12)"/>
<rect x="381.7" y="44" width="247.4" height="4" fill="url(#g13)"/>
<rect x="381.7" y="47" width="247.4" height="4" fill="url(#g14)"/>
<rect x="381.7" y="50" width="247.4" height="4" fill="url(#g15)"/>
<rect x="381.7" y="53" width="247.4" height="4" fill="url(#g16)"/>
<rect x="381.7" y="56" width="247.4" height="4" fill="url(#g17)"/>
<rect x="381.7" y="59" width="247.4" height="4" fill="url(#g18)"/>
<rect x="381.7" y="62" width="247.4" height="4" fill="url(#g19)"/>
<rect x="381.7" y="65" width="247.4" height="4" fill="url(#g20)"/>
<rect x="381.7" y="68" width="247.4" height="4" fill="url(#g21)"/>
<rect x="381.7" y="71" width="247.4" height="4" fill="url(#g22)"/>
<rect x="381.7" y="74" width="247.4" height="4" fill="url(#g23)"/>
<rect x="381.7" y="77" width="247.4" height="4" fill="url(#g24)"/>
<rect x="381.7" y="80" width="247.4" height="4" fill="url(#g25)"/>
<rect x="381.7" y="83" width="247.4" height="4" fill="url(#g26)"/>
<rect x="381.7" y="86" width="247.4" height="4" fill="url(#g27)"/>
<rect x="381.7" y="89" width="247.4" height="4" fill="url(#g28)"/>
<rect x="381.7" y="92" width="247.4" height="4" fill="url(#g29)"/>
<rect x="381.7" y="95" width="247.4" height="4" fill="url(#g30)"/>
<rect x="381.7" y="98" width="247.4" height="4" fill="url(#g31)"/>
<rect x="381.7" y="101" width="247.4" height="4" fill="url(#g32)"/>
<rect x="381.7" y="104" width="247.4" height="4" fill="url(#g33)"/>
<rect x="381.7" y="107" width="247.4" height="4" fill="url(#g34)"/>
<rect x="381.7" y="110" width="247.4" height="4" fill="url(#g35)"/>
<rect x="381.7" y="113" width="247.4" height="4" fill="url(#g36)"/>
<rect x="381.7" y="116" width="247.4" height="4" fill="url(#g37)"/>
<rect x="381.7" y="119" width="247.4" height="4" fill="url(#g38)"/>
<rect x="381.7" y="122" width="247.4" height="4" fill="url(#g39)"/>
<rect x="381.7" y="125" width="247.4" height="4" fill="url(#g40)"/>
<rect x="381.7" y="128" width="247.4" height="4" fill="url(#g41)"/>
<rect x="381.7" y="131" width="247.4" height="4" fill="url(#g42)"/>
<rect x="381.7" y="134" width="247.4" height="4" fill="url(#g43)"/>
<rect x="381.7" y="137" width="247.4" height="4" fill="url(#g44)"/>
<rect x="381.7" y="140" width="247.4" height="4" fill="url(#g45)"/>
<rect x="381.7" y="143" width="247.4" height="4" fill="url(#g46)"/>
<rect x="381.7" y="146" width="247.4" height="4" fill="url(#g47)"/>
<rect x="381.7" y="149" width="247.4" height="4" fill="url(#g48)"/>
<rect x="381.7" y="152" width="247.4" height="4" fill="url(#g49)"/>
<rect x="381.7" y="155" width="247.4" height="4" fill="url(#g50)"/>
<rect x="381.7" y="158" width="247.4" height="4" fill="url(#g51)"/>
<rect x="381.7" y="161" width="247.4" height="4" fill="url(#g52)"/>
<rect x="381.7" y="164" width="247.4" height="4" fill="url(#g53)"/>
<rect x="381.7" y="167" width="247.4" height="4" fill="url(#g54)"/>
<rect x="381.7" y="170" width="247.4" height="4" fill="url(#g55)"/>
<rect x="381.7" y="173" width="247.4" height="4" fill="url(#g56)"/>
<rect x="381.7" y="176" width="247.4" height="4" fill="url(#g57)"/>
<rect x="381.7" y="179" width="247.4" height="4" fill="url(#g58)"/>
<rect x="381.7" y="182" width="247.4" height="4" fill="url(#g59)"/>
<rect x="381.7" y="185" width="247.4" height="4" fill="url(#g60)"/>
<rect x="381.7" y="188" width="247.4" height="4" fill="url(#g61)"/>
<rect x="381.7" y="191" width="247.4" height="4" fill="url(#g62)"/>
<rect x="381.7" y="194" width="247.4" height="4" fill="url(#g63)"/>
<rect x="381.7" y="197" width="247.4" height="4" fill="url(#g64)"/>
<rect x="381.7" y="200" width="247.4" height="4" fill="url(#g65)"/>
<rect x="381.7" y="203" width="247.4" height="4" fill="url(#g66)"/>
<rect x="381.7" y="206" width="247.4" height="4" fill="url(#g67)"/>
</g>
<rect x="381.7" y="5.4" width="247.4" height="202.2" fill="none" stroke="#6e6e6e" stroke-width="0.8"/>
<text x="381.7" y="225.6" font-size="14.3" text-anchor="middle">20</text>
<text x="431.2" y="225.6" font-size="14.3" text-anchor="middle">76</text>
<text x="480.7" y="225.6" font-size="14.3" text-anchor="middle">132</text>
<text x="530.1" y="225.6" font-size="14.3" text-anchor="middle">188</text>
<text x="579.6" y="225.6" font-size="14.3" text-anchor="middle">244</text>
<text x="629.1" y="225.6" font-size="14.3" text-anchor="middle">300</text>
<text x="377" y="10.5" font-size="14.3" text-anchor="end">3</text>
<text x="377" y="77.9" font-size="14.3" text-anchor="end">2</text>
<text x="377" y="145.3" font-size="14.3" text-anchor="end">1</text>
<text x="377" y="212.7" font-size="14.3" text-anchor="end">0</text>
<text x="505" y="242.8" font-size="14.4" text-anchor="middle">Frequency (Hz)</text>
<text transform="translate(364.5,106) rotate(-90)" font-size="14.4" text-anchor="middle">Particle size difference (mm)</text>
<text x="410.9" y="23.7" font-size="14" textLength="18" lengthAdjust="spacingAndGlyphs">(b)</text>
<rect x="647.3" y="5.3" width="16.8" height="202.2" fill="url(#cb)" stroke="#6e6e6e" stroke-width="0.8"/>
<path d="M664.1,40.4h-2.5" stroke="#6e6e6e" stroke-width="0.8"/>
<text x="667.7" y="45.1" font-size="14.3" textLength="15.8" lengthAdjust="spacingAndGlyphs">0.5</text>
<path d="M664.1,77.4h-2.5" stroke="#6e6e6e" stroke-width="0.8"/>
<text x="667.7" y="82.1" font-size="14.3" textLength="15.8" lengthAdjust="spacingAndGlyphs">0.4</text>
<path d="M664.1,114.4h-2.5" stroke="#6e6e6e" stroke-width="0.8"/>
<text x="667.7" y="119.1" font-size="14.3" textLength="15.8" lengthAdjust="spacingAndGlyphs">0.3</text>
<path d="M664.1,151.4h-2.5" stroke="#6e6e6e" stroke-width="0.8"/>
<text x="667.7" y="156.1" font-size="14.3" textLength="15.8" lengthAdjust="spacingAndGlyphs">0.2</text>
<path d="M664.1,188.4h-2.5" stroke="#6e6e6e" stroke-width="0.8"/>
<text x="667.7" y="193.1" font-size="14.3" textLength="15.8" lengthAdjust="spacingAndGlyphs">0.1</text>
</svg></body></html>
